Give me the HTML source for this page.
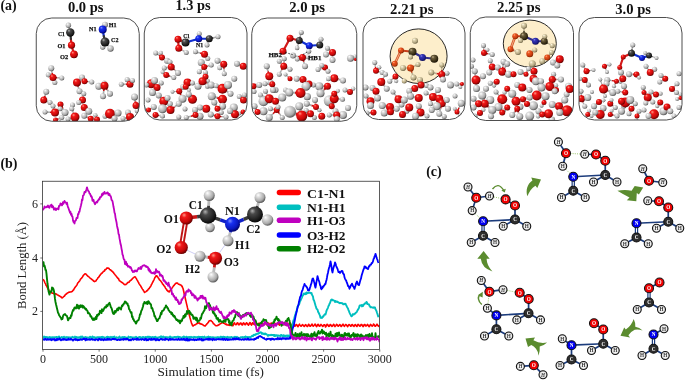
<!DOCTYPE html>
<html><head><meta charset="utf-8"><title>Figure</title>
<style>
html,body{margin:0;padding:0;background:#fff;}
svg{display:block}
.tb{font-family:"Liberation Serif","DejaVu Serif",serif;font-weight:bold;fill:#111}
.tr{font-family:"Liberation Serif","DejaVu Serif",serif;fill:#222}
</style></head><body>
<svg width="685" height="380" viewBox="0 0 685 380">
<defs><radialGradient id="gO" cx="0.4" cy="0.36" r="0.66" fx="0.33" fy="0.27"><stop offset="0" stop-color="#ff9a88"/><stop offset="0.28" stop-color="#f01818"/><stop offset="0.72" stop-color="#c40808"/><stop offset="1" stop-color="#5e0000"/></radialGradient><radialGradient id="gH" cx="0.4" cy="0.36" r="0.66" fx="0.33" fy="0.27"><stop offset="0" stop-color="#ffffff"/><stop offset="0.28" stop-color="#dcdcdc"/><stop offset="0.72" stop-color="#aaaaaa"/><stop offset="1" stop-color="#505050"/></radialGradient><radialGradient id="gC" cx="0.4" cy="0.36" r="0.66" fx="0.33" fy="0.27"><stop offset="0" stop-color="#b0b0b0"/><stop offset="0.28" stop-color="#4a4a4a"/><stop offset="0.72" stop-color="#222222"/><stop offset="1" stop-color="#050505"/></radialGradient><radialGradient id="gN" cx="0.4" cy="0.36" r="0.66" fx="0.33" fy="0.27"><stop offset="0" stop-color="#8090ff"/><stop offset="0.28" stop-color="#1830f0"/><stop offset="0.72" stop-color="#0a18c0"/><stop offset="1" stop-color="#000060"/></radialGradient><radialGradient id="gOt" cx="0.4" cy="0.36" r="0.66" fx="0.33" fy="0.27"><stop offset="0" stop-color="#ffb080"/><stop offset="0.28" stop-color="#ea5520"/><stop offset="0.72" stop-color="#c83c10"/><stop offset="1" stop-color="#7a2400"/></radialGradient><radialGradient id="gHt" cx="0.4" cy="0.36" r="0.66" fx="0.33" fy="0.27"><stop offset="0" stop-color="#fffdf0"/><stop offset="0.28" stop-color="#e0d4b0"/><stop offset="0.72" stop-color="#b0a480"/><stop offset="1" stop-color="#62583c"/></radialGradient><radialGradient id="gCt" cx="0.4" cy="0.36" r="0.66" fx="0.33" fy="0.27"><stop offset="0" stop-color="#c0b090"/><stop offset="0.28" stop-color="#6a5c3a"/><stop offset="0.72" stop-color="#3a3018"/><stop offset="1" stop-color="#1a1206"/></radialGradient><radialGradient id="gNt" cx="0.4" cy="0.36" r="0.66" fx="0.33" fy="0.27"><stop offset="0" stop-color="#8888e8"/><stop offset="0.28" stop-color="#3434b8"/><stop offset="0.72" stop-color="#202090"/><stop offset="1" stop-color="#0c0c50"/></radialGradient><radialGradient id="gHc" cx="0.5" cy="0.5" r="0.5"><stop offset="0" stop-color="#ffffff"/><stop offset="0.6" stop-color="#f0f0f0"/><stop offset="1" stop-color="#c4c4c4"/></radialGradient></defs>
<rect width="685" height="380" fill="#fff"/>
<text x="0.4" y="9.5" class="tb" font-size="13.7" textLength="16.2" lengthAdjust="spacingAndGlyphs">(a)</text>
<clipPath id="clip1"><rect x="36.25" y="18" width="103.0" height="103.25" rx="15.5" ry="15.5"/></clipPath>
<g clip-path="url(#clip1)">
<line x1="71.5" y1="45.2" x2="74" y2="54.3" stroke="#d21a1a" stroke-width="2.2" stroke-linecap="round"/>
<line x1="70.9" y1="39" x2="71.5" y2="45.2" stroke="#d21a1a" stroke-width="2.2" stroke-linecap="round"/>
<line x1="70.3" y1="32.5" x2="70.9" y2="39" stroke="#333" stroke-width="2.2" stroke-linecap="round"/>
<line x1="102.7" y1="29.5" x2="103.8" y2="36" stroke="#1030d0" stroke-width="2.2" stroke-linecap="round"/>
<line x1="103.8" y1="36" x2="105" y2="42" stroke="#333" stroke-width="2.2" stroke-linecap="round"/>
<line x1="53.0" y1="77.5" x2="50.65" y2="76.19" stroke="#cc1111" stroke-width="1.39"/>
<line x1="50.65" y1="76.19" x2="48.3" y2="74.87" stroke="#aaaaaa" stroke-width="1.39"/>
<line x1="53.0" y1="77.5" x2="53.91" y2="80.03" stroke="#cc1111" stroke-width="1.39"/>
<line x1="53.91" y1="80.03" x2="54.83" y2="82.57" stroke="#aaaaaa" stroke-width="1.39"/>
<line x1="130.0" y1="84.25" x2="128.60" y2="81.94" stroke="#cc1111" stroke-width="1.39"/>
<line x1="128.60" y1="81.94" x2="127.21" y2="79.64" stroke="#aaaaaa" stroke-width="1.39"/>
<line x1="97.0" y1="119.5" x2="97.51" y2="121.75" stroke="#cc1111" stroke-width="1.20"/>
<line x1="97.51" y1="121.75" x2="98.02" y2="124.01" stroke="#aaaaaa" stroke-width="1.20"/>
<line x1="97.0" y1="119.5" x2="96.18" y2="117.34" stroke="#cc1111" stroke-width="1.20"/>
<line x1="96.18" y1="117.34" x2="95.36" y2="115.18" stroke="#aaaaaa" stroke-width="1.20"/>
<line x1="136.0" y1="105.5" x2="136.63" y2="108.12" stroke="#cc1111" stroke-width="1.39"/>
<line x1="136.63" y1="108.12" x2="137.26" y2="110.74" stroke="#aaaaaa" stroke-width="1.39"/>
<line x1="55.5" y1="120.0" x2="57.31" y2="120.85" stroke="#cc1111" stroke-width="1.20"/>
<line x1="57.31" y1="120.85" x2="59.12" y2="121.71" stroke="#aaaaaa" stroke-width="1.20"/>
<line x1="70.3" y1="32.5" x2="69.35" y2="28.90" stroke="#333333" stroke-width="1.49"/>
<line x1="69.35" y1="28.90" x2="68.4" y2="25.3" stroke="#aaaaaa" stroke-width="1.49"/>
<line x1="102.7" y1="29.5" x2="103.85" y2="27.10" stroke="#1030d0" stroke-width="1.65"/>
<line x1="103.85" y1="27.10" x2="105.0" y2="24.7" stroke="#aaaaaa" stroke-width="1.65"/>
<line x1="105.0" y1="42.0" x2="103.85" y2="44.50" stroke="#333333" stroke-width="1.49"/>
<line x1="103.85" y1="44.50" x2="102.7" y2="47.0" stroke="#aaaaaa" stroke-width="1.49"/>
<line x1="105.0" y1="42.0" x2="107.75" y2="45.25" stroke="#333333" stroke-width="1.76"/>
<line x1="107.75" y1="45.25" x2="110.5" y2="48.5" stroke="#aaaaaa" stroke-width="1.76"/>
<line x1="53.0" y1="77.5" x2="52.12" y2="72.88" stroke="#cc1111" stroke-width="1.65"/>
<line x1="52.12" y1="72.88" x2="51.25" y2="68.25" stroke="#aaaaaa" stroke-width="1.65"/>
<line x1="53.0" y1="77.5" x2="57.38" y2="77.75" stroke="#cc1111" stroke-width="1.38"/>
<line x1="57.38" y1="77.75" x2="61.75" y2="78.0" stroke="#aaaaaa" stroke-width="1.38"/>
<line x1="84.5" y1="81.25" x2="83.25" y2="79.38" stroke="#cc1111" stroke-width="1.65"/>
<line x1="83.25" y1="79.38" x2="82.0" y2="77.5" stroke="#aaaaaa" stroke-width="1.65"/>
<line x1="84.5" y1="81.25" x2="88.12" y2="81.62" stroke="#cc1111" stroke-width="1.38"/>
<line x1="88.12" y1="81.62" x2="91.75" y2="82.0" stroke="#aaaaaa" stroke-width="1.38"/>
<line x1="104.5" y1="85.75" x2="101.62" y2="86.00" stroke="#cc1111" stroke-width="1.93"/>
<line x1="101.62" y1="86.00" x2="98.75" y2="86.25" stroke="#aaaaaa" stroke-width="1.93"/>
<line x1="104.5" y1="85.75" x2="104.35" y2="84.38" stroke="#cc1111" stroke-width="1.38"/>
<line x1="104.35" y1="84.38" x2="104.2" y2="83.0" stroke="#aaaaaa" stroke-width="1.38"/>
<line x1="104.5" y1="85.75" x2="107.25" y2="89.75" stroke="#cc1111" stroke-width="1.65"/>
<line x1="107.25" y1="89.75" x2="110.0" y2="93.75" stroke="#aaaaaa" stroke-width="1.65"/>
<line x1="104.5" y1="85.75" x2="103.75" y2="91.00" stroke="#cc1111" stroke-width="1.65"/>
<line x1="103.75" y1="91.00" x2="103.0" y2="96.25" stroke="#aaaaaa" stroke-width="1.65"/>
<line x1="130.0" y1="84.25" x2="125.62" y2="84.25" stroke="#cc1111" stroke-width="1.38"/>
<line x1="125.62" y1="84.25" x2="121.25" y2="84.25" stroke="#aaaaaa" stroke-width="1.38"/>
<line x1="130.0" y1="84.25" x2="131.25" y2="82.38" stroke="#cc1111" stroke-width="1.38"/>
<line x1="131.25" y1="82.38" x2="132.5" y2="80.5" stroke="#aaaaaa" stroke-width="1.38"/>
<line x1="43.75" y1="100.0" x2="45.00" y2="95.88" stroke="#cc1111" stroke-width="1.65"/>
<line x1="45.00" y1="95.88" x2="46.25" y2="91.75" stroke="#aaaaaa" stroke-width="1.65"/>
<line x1="43.75" y1="100.0" x2="46.88" y2="101.25" stroke="#cc1111" stroke-width="1.38"/>
<line x1="46.88" y1="101.25" x2="50.0" y2="102.5" stroke="#aaaaaa" stroke-width="1.38"/>
<line x1="55.0" y1="112.5" x2="54.00" y2="109.25" stroke="#cc1111" stroke-width="1.38"/>
<line x1="54.00" y1="109.25" x2="53.0" y2="106.0" stroke="#aaaaaa" stroke-width="1.38"/>
<line x1="77.0" y1="82.5" x2="78.25" y2="86.88" stroke="#cc1111" stroke-width="1.65"/>
<line x1="78.25" y1="86.88" x2="79.5" y2="91.25" stroke="#aaaaaa" stroke-width="1.65"/>
<line x1="82.5" y1="100.0" x2="83.12" y2="96.88" stroke="#cc1111" stroke-width="1.38"/>
<line x1="83.12" y1="96.88" x2="83.75" y2="93.75" stroke="#aaaaaa" stroke-width="1.38"/>
<line x1="82.5" y1="100.0" x2="80.62" y2="101.25" stroke="#cc1111" stroke-width="1.38"/>
<line x1="80.62" y1="101.25" x2="78.75" y2="102.5" stroke="#aaaaaa" stroke-width="1.38"/>
<line x1="75.0" y1="117.0" x2="73.38" y2="112.88" stroke="#cc1111" stroke-width="1.38"/>
<line x1="73.38" y1="112.88" x2="71.75" y2="108.75" stroke="#aaaaaa" stroke-width="1.38"/>
<line x1="60.5" y1="104.5" x2="60.25" y2="106.62" stroke="#cc1111" stroke-width="1.38"/>
<line x1="60.25" y1="106.62" x2="60.0" y2="108.75" stroke="#aaaaaa" stroke-width="1.38"/>
<line x1="60.5" y1="104.5" x2="62.75" y2="108.50" stroke="#cc1111" stroke-width="1.65"/>
<line x1="62.75" y1="108.50" x2="65.0" y2="112.5" stroke="#aaaaaa" stroke-width="1.65"/>
<line x1="55.5" y1="120.0" x2="58.62" y2="118.75" stroke="#cc1111" stroke-width="1.38"/>
<line x1="58.62" y1="118.75" x2="61.75" y2="117.5" stroke="#aaaaaa" stroke-width="1.38"/>
<line x1="84.25" y1="107.5" x2="86.50" y2="109.38" stroke="#cc1111" stroke-width="1.93"/>
<line x1="86.50" y1="109.38" x2="88.75" y2="111.25" stroke="#aaaaaa" stroke-width="1.93"/>
<line x1="90.75" y1="118.75" x2="87.50" y2="117.25" stroke="#cc1111" stroke-width="1.65"/>
<line x1="87.50" y1="117.25" x2="84.25" y2="115.75" stroke="#aaaaaa" stroke-width="1.65"/>
<line x1="110.0" y1="113.75" x2="107.50" y2="115.00" stroke="#cc1111" stroke-width="1.38"/>
<line x1="107.50" y1="115.00" x2="105.0" y2="116.25" stroke="#aaaaaa" stroke-width="1.38"/>
<line x1="110.0" y1="113.75" x2="114.00" y2="113.38" stroke="#cc1111" stroke-width="1.93"/>
<line x1="114.00" y1="113.38" x2="118.0" y2="113.0" stroke="#aaaaaa" stroke-width="1.93"/>
<line x1="110.0" y1="113.75" x2="112.25" y2="116.12" stroke="#cc1111" stroke-width="1.65"/>
<line x1="112.25" y1="116.12" x2="114.5" y2="118.5" stroke="#aaaaaa" stroke-width="1.65"/>
<line x1="136.0" y1="105.5" x2="135.25" y2="101.25" stroke="#cc1111" stroke-width="1.93"/>
<line x1="135.25" y1="101.25" x2="134.5" y2="97.0" stroke="#aaaaaa" stroke-width="1.93"/>
<line x1="130.0" y1="117.0" x2="129.00" y2="114.75" stroke="#cc1111" stroke-width="1.65"/>
<line x1="129.00" y1="114.75" x2="128.0" y2="112.5" stroke="#aaaaaa" stroke-width="1.65"/>
<line x1="55.0" y1="112.5" x2="50.00" y2="112.25" stroke="#cc1111" stroke-width="1.38"/>
<line x1="50.00" y1="112.25" x2="45.0" y2="112.0" stroke="#aaaaaa" stroke-width="1.38"/>
<line x1="75.0" y1="117.0" x2="71.50" y2="118.00" stroke="#cc1111" stroke-width="1.38"/>
<line x1="71.50" y1="118.00" x2="68.0" y2="119.0" stroke="#aaaaaa" stroke-width="1.38"/>
<line x1="130.0" y1="117.0" x2="126.50" y2="117.75" stroke="#cc1111" stroke-width="1.38"/>
<line x1="126.50" y1="117.75" x2="123.0" y2="118.5" stroke="#aaaaaa" stroke-width="1.38"/>
<circle cx="48.3" cy="74.87" r="2.52" fill="url(#gH)"/>
<circle cx="54.83" cy="82.57" r="2.52" fill="url(#gH)"/>
<circle cx="127.21" cy="79.64" r="2.52" fill="url(#gH)"/>
<circle cx="98.02" cy="124.01" r="2.16" fill="url(#gH)"/>
<circle cx="95.36" cy="115.18" r="2.16" fill="url(#gH)"/>
<circle cx="137.26" cy="110.74" r="2.52" fill="url(#gH)"/>
<circle cx="59.12" cy="121.71" r="2.0" fill="url(#gH)"/>
<circle cx="68.4" cy="25.3" r="2.7" fill="url(#gH)"/>
<circle cx="70.3" cy="32.5" r="4.2" fill="url(#gC)"/>
<circle cx="71.5" cy="45.2" r="3.6" fill="url(#gO)"/>
<circle cx="74.0" cy="54.3" r="3.9" fill="url(#gO)"/>
<circle cx="105.0" cy="24.7" r="3.0" fill="url(#gH)"/>
<circle cx="102.7" cy="29.5" r="4.0" fill="url(#gN)"/>
<circle cx="102.7" cy="47.0" r="2.7" fill="url(#gH)"/>
<circle cx="110.5" cy="48.5" r="3.2" fill="url(#gH)"/>
<circle cx="105.0" cy="42.0" r="4.5" fill="url(#gC)"/>
<circle cx="51.25" cy="68.25" r="3.0" fill="url(#gH)"/>
<circle cx="53.0" cy="77.5" r="3.5" fill="url(#gO)"/>
<circle cx="61.75" cy="78.0" r="2.5" fill="url(#gH)"/>
<circle cx="77.0" cy="82.5" r="4.0" fill="url(#gO)"/>
<circle cx="82.0" cy="77.5" r="3.0" fill="url(#gH)"/>
<circle cx="84.5" cy="81.25" r="3.0" fill="url(#gO)"/>
<circle cx="91.75" cy="82.0" r="2.5" fill="url(#gH)"/>
<circle cx="98.75" cy="86.25" r="3.5" fill="url(#gH)"/>
<circle cx="104.2" cy="83.0" r="2.5" fill="url(#gH)"/>
<circle cx="104.5" cy="85.75" r="4.0" fill="url(#gO)"/>
<circle cx="110.0" cy="93.75" r="3.0" fill="url(#gH)"/>
<circle cx="103.0" cy="96.25" r="3.0" fill="url(#gH)"/>
<circle cx="121.25" cy="84.25" r="2.5" fill="url(#gH)"/>
<circle cx="130.0" cy="84.25" r="3.5" fill="url(#gO)"/>
<circle cx="132.5" cy="80.5" r="2.5" fill="url(#gH)"/>
<circle cx="46.25" cy="91.75" r="3.0" fill="url(#gH)"/>
<circle cx="43.75" cy="100.0" r="3.5" fill="url(#gO)"/>
<circle cx="50.0" cy="102.5" r="2.5" fill="url(#gH)"/>
<circle cx="53.0" cy="106.0" r="2.5" fill="url(#gH)"/>
<circle cx="79.5" cy="91.25" r="3.0" fill="url(#gH)"/>
<circle cx="83.75" cy="93.75" r="2.5" fill="url(#gH)"/>
<circle cx="82.5" cy="100.0" r="3.5" fill="url(#gO)"/>
<circle cx="78.75" cy="102.5" r="2.5" fill="url(#gH)"/>
<circle cx="84.25" cy="107.5" r="3.5" fill="url(#gO)"/>
<circle cx="60.5" cy="104.5" r="3.0" fill="url(#gO)"/>
<circle cx="72.5" cy="105.0" r="2.5" fill="url(#gH)"/>
<circle cx="71.75" cy="108.75" r="2.5" fill="url(#gH)"/>
<circle cx="60.0" cy="108.75" r="2.5" fill="url(#gH)"/>
<circle cx="55.0" cy="112.5" r="4.0" fill="url(#gO)"/>
<circle cx="65.0" cy="112.5" r="3.5" fill="url(#gH)"/>
<circle cx="61.75" cy="117.5" r="2.5" fill="url(#gH)"/>
<circle cx="75.0" cy="117.0" r="4.5" fill="url(#gO)"/>
<circle cx="88.75" cy="111.25" r="3.5" fill="url(#gH)"/>
<circle cx="84.25" cy="115.75" r="3.0" fill="url(#gH)"/>
<circle cx="90.75" cy="118.75" r="3.0" fill="url(#gO)"/>
<circle cx="97.0" cy="119.5" r="3.0" fill="url(#gO)"/>
<circle cx="105.0" cy="116.25" r="2.5" fill="url(#gH)"/>
<circle cx="110.0" cy="113.75" r="5.0" fill="url(#gO)"/>
<circle cx="118.0" cy="113.0" r="3.5" fill="url(#gH)"/>
<circle cx="114.5" cy="118.5" r="3.0" fill="url(#gH)"/>
<circle cx="134.5" cy="97.0" r="3.5" fill="url(#gH)"/>
<circle cx="136.0" cy="105.5" r="3.5" fill="url(#gO)"/>
<circle cx="128.0" cy="112.5" r="3.0" fill="url(#gH)"/>
<circle cx="130.0" cy="117.0" r="4.0" fill="url(#gO)"/>
<circle cx="55.5" cy="120.0" r="2.5" fill="url(#gO)"/>
<circle cx="45.0" cy="112.0" r="2.5" fill="url(#gH)"/>
<circle cx="68.0" cy="119.0" r="2.5" fill="url(#gH)"/>
<circle cx="123.0" cy="118.5" r="2.5" fill="url(#gH)"/>
</g>
<rect x="36.25" y="18" width="103.0" height="103.25" rx="15.5" ry="15.5" fill="none" stroke="#444" stroke-width="0.95"/>
<text x="67.9" y="11.8" class="tb" font-size="13.7" textLength="35.6" lengthAdjust="spacingAndGlyphs">0.0 ps</text>
<text x="57.9" y="35.9" class="tb" font-size="6.9" stroke="#111" stroke-width="0.25" textLength="6.9" lengthAdjust="spacingAndGlyphs">C1</text>
<text x="57.5" y="48" class="tb" font-size="6.9" stroke="#111" stroke-width="0.25" textLength="8" lengthAdjust="spacingAndGlyphs">O1</text>
<text x="59.9" y="58.9" class="tb" font-size="6.9" stroke="#111" stroke-width="0.25" textLength="8.2" lengthAdjust="spacingAndGlyphs">O2</text>
<text x="89" y="30.5" class="tb" font-size="6.9" stroke="#111" stroke-width="0.25" textLength="7.6" lengthAdjust="spacingAndGlyphs">N1</text>
<text x="108.7" y="26.5" class="tb" font-size="6.9" stroke="#111" stroke-width="0.25" textLength="7.9" lengthAdjust="spacingAndGlyphs">H1</text>
<text x="111.1" y="42" class="tb" font-size="6.9" stroke="#111" stroke-width="0.25" textLength="7.3" lengthAdjust="spacingAndGlyphs">C2</text>
<clipPath id="clip2"><rect x="144.25" y="17.5" width="102.75" height="102.5" rx="15.5" ry="15.5"/></clipPath>
<g clip-path="url(#clip2)">
<line x1="198.75" y1="38.75" x2="209.25" y2="38.75" stroke="#1030d0" stroke-width="2.2" stroke-linecap="round"/>
<line x1="198.75" y1="38.75" x2="185.5" y2="42.5" stroke="#1030d0" stroke-width="2.2" stroke-linecap="round"/>
<line x1="178" y1="39.25" x2="185.5" y2="42.5" stroke="#d21a1a" stroke-width="2.2" stroke-linecap="round"/>
<line x1="178" y1="39.25" x2="178.75" y2="48.25" stroke="#d21a1a" stroke-width="2.2" stroke-linecap="round"/>
<line x1="204.5" y1="54.25" x2="206.11" y2="56.41" stroke="#cc1111" stroke-width="1.39"/>
<line x1="206.11" y1="56.41" x2="207.72" y2="58.57" stroke="#aaaaaa" stroke-width="1.39"/>
<line x1="205.5" y1="76.75" x2="206.62" y2="78.77" stroke="#cc1111" stroke-width="1.20"/>
<line x1="206.62" y1="78.77" x2="207.73" y2="80.79" stroke="#aaaaaa" stroke-width="1.20"/>
<line x1="162.0" y1="57.5" x2="161.46" y2="55.25" stroke="#cc1111" stroke-width="1.20"/>
<line x1="161.46" y1="55.25" x2="160.92" y2="53.01" stroke="#aaaaaa" stroke-width="1.20"/>
<line x1="166.25" y1="75.0" x2="164.45" y2="73.55" stroke="#cc1111" stroke-width="1.20"/>
<line x1="164.45" y1="73.55" x2="162.65" y2="72.1" stroke="#aaaaaa" stroke-width="1.20"/>
<line x1="223.75" y1="64.25" x2="221.74" y2="66.04" stroke="#cc1111" stroke-width="1.39"/>
<line x1="221.74" y1="66.04" x2="219.72" y2="67.83" stroke="#aaaaaa" stroke-width="1.39"/>
<line x1="243.25" y1="66.25" x2="245.84" y2="66.97" stroke="#cc1111" stroke-width="1.39"/>
<line x1="245.84" y1="66.97" x2="248.44" y2="67.7" stroke="#aaaaaa" stroke-width="1.39"/>
<line x1="170.5" y1="110.0" x2="170.22" y2="106.94" stroke="#cc1111" stroke-width="1.58"/>
<line x1="170.22" y1="106.94" x2="169.93" y2="103.87" stroke="#aaaaaa" stroke-width="1.58"/>
<line x1="185.75" y1="86.75" x2="184.42" y2="86.78" stroke="#cc1111" stroke-width="1.58"/>
<line x1="184.42" y1="86.78" x2="183.09" y2="86.8" stroke="#aaaaaa" stroke-width="1.58"/>
<line x1="185.75" y1="86.75" x2="187.35" y2="88.41" stroke="#cc1111" stroke-width="1.20"/>
<line x1="187.35" y1="88.41" x2="188.95" y2="90.08" stroke="#aaaaaa" stroke-width="1.20"/>
<line x1="243.5" y1="100.0" x2="241.42" y2="98.29" stroke="#cc1111" stroke-width="1.39"/>
<line x1="241.42" y1="98.29" x2="239.33" y2="96.58" stroke="#aaaaaa" stroke-width="1.39"/>
<line x1="243.0" y1="112.0" x2="241.13" y2="112.72" stroke="#cc1111" stroke-width="1.20"/>
<line x1="241.13" y1="112.72" x2="239.27" y2="113.43" stroke="#aaaaaa" stroke-width="1.20"/>
<line x1="243.0" y1="112.0" x2="243.35" y2="113.97" stroke="#cc1111" stroke-width="1.20"/>
<line x1="243.35" y1="113.97" x2="243.7" y2="115.94" stroke="#aaaaaa" stroke-width="1.20"/>
<line x1="148.5" y1="110.0" x2="146.53" y2="109.62" stroke="#cc1111" stroke-width="1.20"/>
<line x1="146.53" y1="109.62" x2="144.57" y2="109.24" stroke="#aaaaaa" stroke-width="1.20"/>
<line x1="178.75" y1="48.25" x2="182.50" y2="50.38" stroke="#cc1111" stroke-width="1.38"/>
<line x1="182.50" y1="50.38" x2="186.25" y2="52.5" stroke="#aaaaaa" stroke-width="1.38"/>
<line x1="198.75" y1="38.75" x2="199.00" y2="36.25" stroke="#1030d0" stroke-width="1.38"/>
<line x1="199.00" y1="36.25" x2="199.25" y2="33.75" stroke="#aaaaaa" stroke-width="1.38"/>
<line x1="209.25" y1="38.75" x2="213.62" y2="37.75" stroke="#333333" stroke-width="1.38"/>
<line x1="213.62" y1="37.75" x2="218.0" y2="36.75" stroke="#aaaaaa" stroke-width="1.38"/>
<line x1="209.25" y1="38.75" x2="208.12" y2="41.88" stroke="#333333" stroke-width="1.38"/>
<line x1="208.12" y1="41.88" x2="207.0" y2="45.0" stroke="#aaaaaa" stroke-width="1.38"/>
<line x1="204.5" y1="54.25" x2="200.00" y2="53.00" stroke="#cc1111" stroke-width="1.38"/>
<line x1="200.00" y1="53.00" x2="195.5" y2="51.75" stroke="#aaaaaa" stroke-width="1.38"/>
<line x1="204.25" y1="67.0" x2="202.75" y2="64.75" stroke="#cc1111" stroke-width="1.65"/>
<line x1="202.75" y1="64.75" x2="201.25" y2="62.5" stroke="#aaaaaa" stroke-width="1.65"/>
<line x1="204.25" y1="67.0" x2="207.75" y2="66.00" stroke="#cc1111" stroke-width="1.38"/>
<line x1="207.75" y1="66.00" x2="211.25" y2="65.0" stroke="#aaaaaa" stroke-width="1.38"/>
<line x1="204.25" y1="67.0" x2="201.75" y2="69.38" stroke="#cc1111" stroke-width="1.38"/>
<line x1="201.75" y1="69.38" x2="199.25" y2="71.75" stroke="#aaaaaa" stroke-width="1.38"/>
<line x1="205.5" y1="76.75" x2="205.50" y2="74.62" stroke="#cc1111" stroke-width="1.38"/>
<line x1="205.50" y1="74.62" x2="205.5" y2="72.5" stroke="#aaaaaa" stroke-width="1.38"/>
<line x1="162.0" y1="57.5" x2="158.88" y2="55.25" stroke="#cc1111" stroke-width="1.38"/>
<line x1="158.88" y1="55.25" x2="155.75" y2="53.0" stroke="#aaaaaa" stroke-width="1.38"/>
<line x1="162.0" y1="57.5" x2="164.50" y2="59.12" stroke="#cc1111" stroke-width="1.65"/>
<line x1="164.50" y1="59.12" x2="167.0" y2="60.75" stroke="#aaaaaa" stroke-width="1.65"/>
<line x1="171.25" y1="67.0" x2="170.62" y2="64.50" stroke="#cc1111" stroke-width="1.38"/>
<line x1="170.62" y1="64.50" x2="170.0" y2="62.0" stroke="#aaaaaa" stroke-width="1.38"/>
<line x1="171.25" y1="67.0" x2="167.75" y2="67.50" stroke="#cc1111" stroke-width="1.38"/>
<line x1="167.75" y1="67.50" x2="164.25" y2="68.0" stroke="#aaaaaa" stroke-width="1.38"/>
<line x1="171.25" y1="67.0" x2="174.62" y2="70.00" stroke="#cc1111" stroke-width="1.65"/>
<line x1="174.62" y1="70.00" x2="178.0" y2="73.0" stroke="#aaaaaa" stroke-width="1.65"/>
<line x1="166.25" y1="75.0" x2="170.00" y2="76.25" stroke="#cc1111" stroke-width="1.38"/>
<line x1="170.00" y1="76.25" x2="173.75" y2="77.5" stroke="#aaaaaa" stroke-width="1.38"/>
<line x1="223.75" y1="64.25" x2="220.62" y2="62.50" stroke="#cc1111" stroke-width="1.65"/>
<line x1="220.62" y1="62.50" x2="217.5" y2="60.75" stroke="#aaaaaa" stroke-width="1.65"/>
<line x1="223.75" y1="64.25" x2="224.00" y2="69.00" stroke="#cc1111" stroke-width="1.38"/>
<line x1="224.00" y1="69.00" x2="224.25" y2="73.75" stroke="#aaaaaa" stroke-width="1.38"/>
<line x1="243.25" y1="66.25" x2="240.12" y2="65.00" stroke="#cc1111" stroke-width="1.65"/>
<line x1="240.12" y1="65.00" x2="237.0" y2="63.75" stroke="#aaaaaa" stroke-width="1.65"/>
<line x1="151.25" y1="83.75" x2="152.88" y2="82.12" stroke="#cc1111" stroke-width="1.93"/>
<line x1="152.88" y1="82.12" x2="154.5" y2="80.5" stroke="#aaaaaa" stroke-width="1.93"/>
<line x1="151.25" y1="83.75" x2="148.88" y2="84.38" stroke="#cc1111" stroke-width="1.38"/>
<line x1="148.88" y1="84.38" x2="146.5" y2="85.0" stroke="#aaaaaa" stroke-width="1.38"/>
<line x1="157.0" y1="87.5" x2="159.12" y2="85.25" stroke="#cc1111" stroke-width="1.38"/>
<line x1="159.12" y1="85.25" x2="161.25" y2="83.0" stroke="#aaaaaa" stroke-width="1.38"/>
<line x1="157.0" y1="87.5" x2="154.75" y2="90.00" stroke="#cc1111" stroke-width="1.93"/>
<line x1="154.75" y1="90.00" x2="152.5" y2="92.5" stroke="#aaaaaa" stroke-width="1.93"/>
<line x1="163.75" y1="101.25" x2="161.25" y2="98.38" stroke="#cc1111" stroke-width="1.65"/>
<line x1="161.25" y1="98.38" x2="158.75" y2="95.5" stroke="#aaaaaa" stroke-width="1.65"/>
<line x1="163.75" y1="101.25" x2="165.62" y2="99.62" stroke="#cc1111" stroke-width="1.65"/>
<line x1="165.62" y1="99.62" x2="167.5" y2="98.0" stroke="#aaaaaa" stroke-width="1.65"/>
<line x1="163.75" y1="101.25" x2="163.12" y2="105.00" stroke="#cc1111" stroke-width="2.48"/>
<line x1="163.12" y1="105.00" x2="162.5" y2="108.75" stroke="#aaaaaa" stroke-width="2.48"/>
<line x1="148.5" y1="110.0" x2="151.12" y2="108.50" stroke="#cc1111" stroke-width="1.38"/>
<line x1="151.12" y1="108.50" x2="153.75" y2="107.0" stroke="#aaaaaa" stroke-width="1.38"/>
<line x1="155.5" y1="115.0" x2="159.00" y2="115.50" stroke="#cc1111" stroke-width="1.38"/>
<line x1="159.00" y1="115.50" x2="162.5" y2="116.0" stroke="#aaaaaa" stroke-width="1.38"/>
<line x1="179.25" y1="91.25" x2="175.88" y2="91.50" stroke="#cc1111" stroke-width="1.20"/>
<line x1="175.88" y1="91.50" x2="172.5" y2="91.75" stroke="#aaaaaa" stroke-width="1.20"/>
<line x1="179.25" y1="91.25" x2="180.88" y2="95.00" stroke="#cc1111" stroke-width="1.65"/>
<line x1="180.88" y1="95.00" x2="182.5" y2="98.75" stroke="#aaaaaa" stroke-width="1.65"/>
<line x1="170.5" y1="110.0" x2="174.62" y2="106.88" stroke="#cc1111" stroke-width="1.65"/>
<line x1="174.62" y1="106.88" x2="178.75" y2="103.75" stroke="#aaaaaa" stroke-width="1.65"/>
<line x1="192.5" y1="99.25" x2="190.62" y2="96.88" stroke="#cc1111" stroke-width="1.65"/>
<line x1="190.62" y1="96.88" x2="188.75" y2="94.5" stroke="#aaaaaa" stroke-width="1.65"/>
<line x1="187.5" y1="82.5" x2="190.00" y2="82.75" stroke="#cc1111" stroke-width="1.38"/>
<line x1="190.00" y1="82.75" x2="192.5" y2="83.0" stroke="#aaaaaa" stroke-width="1.38"/>
<line x1="202.5" y1="81.25" x2="200.25" y2="83.75" stroke="#cc1111" stroke-width="1.93"/>
<line x1="200.25" y1="83.75" x2="198.0" y2="86.25" stroke="#aaaaaa" stroke-width="1.93"/>
<line x1="202.5" y1="81.25" x2="205.00" y2="83.75" stroke="#cc1111" stroke-width="1.38"/>
<line x1="205.00" y1="83.75" x2="207.5" y2="86.25" stroke="#aaaaaa" stroke-width="1.38"/>
<line x1="202.5" y1="81.25" x2="206.88" y2="83.12" stroke="#cc1111" stroke-width="1.93"/>
<line x1="206.88" y1="83.12" x2="211.25" y2="85.0" stroke="#aaaaaa" stroke-width="1.93"/>
<line x1="222.5" y1="88.75" x2="219.38" y2="87.25" stroke="#cc1111" stroke-width="1.38"/>
<line x1="219.38" y1="87.25" x2="216.25" y2="85.75" stroke="#aaaaaa" stroke-width="1.38"/>
<line x1="222.5" y1="88.75" x2="225.25" y2="86.88" stroke="#cc1111" stroke-width="2.20"/>
<line x1="225.25" y1="86.88" x2="228.0" y2="85.0" stroke="#aaaaaa" stroke-width="2.20"/>
<line x1="222.5" y1="88.75" x2="226.50" y2="91.25" stroke="#cc1111" stroke-width="1.65"/>
<line x1="226.50" y1="91.25" x2="230.5" y2="93.75" stroke="#aaaaaa" stroke-width="1.65"/>
<line x1="222.5" y1="99.25" x2="217.12" y2="97.75" stroke="#cc1111" stroke-width="2.20"/>
<line x1="217.12" y1="97.75" x2="211.75" y2="96.25" stroke="#aaaaaa" stroke-width="2.20"/>
<line x1="217.5" y1="108.75" x2="215.88" y2="105.62" stroke="#cc1111" stroke-width="1.65"/>
<line x1="215.88" y1="105.62" x2="214.25" y2="102.5" stroke="#aaaaaa" stroke-width="1.65"/>
<line x1="217.5" y1="108.75" x2="220.00" y2="107.50" stroke="#cc1111" stroke-width="1.65"/>
<line x1="220.00" y1="107.50" x2="222.5" y2="106.25" stroke="#aaaaaa" stroke-width="1.65"/>
<line x1="243.5" y1="100.0" x2="244.00" y2="97.50" stroke="#cc1111" stroke-width="1.38"/>
<line x1="244.00" y1="97.50" x2="244.5" y2="95.0" stroke="#aaaaaa" stroke-width="1.38"/>
<line x1="235.0" y1="114.25" x2="234.38" y2="110.88" stroke="#cc1111" stroke-width="2.20"/>
<line x1="234.38" y1="110.88" x2="233.75" y2="107.5" stroke="#aaaaaa" stroke-width="2.20"/>
<line x1="235.0" y1="114.25" x2="232.50" y2="112.62" stroke="#cc1111" stroke-width="1.65"/>
<line x1="232.50" y1="112.62" x2="230.0" y2="111.0" stroke="#aaaaaa" stroke-width="1.65"/>
<line x1="206.25" y1="108.75" x2="203.12" y2="108.12" stroke="#cc1111" stroke-width="1.65"/>
<line x1="203.12" y1="108.12" x2="200.0" y2="107.5" stroke="#aaaaaa" stroke-width="1.65"/>
<line x1="195.5" y1="115.0" x2="195.25" y2="112.50" stroke="#cc1111" stroke-width="1.65"/>
<line x1="195.25" y1="112.50" x2="195.0" y2="110.0" stroke="#aaaaaa" stroke-width="1.65"/>
<line x1="195.5" y1="115.0" x2="197.75" y2="115.62" stroke="#cc1111" stroke-width="1.65"/>
<line x1="197.75" y1="115.62" x2="200.0" y2="116.25" stroke="#aaaaaa" stroke-width="1.65"/>
<line x1="217.5" y1="116.25" x2="214.12" y2="115.38" stroke="#cc1111" stroke-width="1.65"/>
<line x1="214.12" y1="115.38" x2="210.75" y2="114.5" stroke="#aaaaaa" stroke-width="1.65"/>
<line x1="195.5" y1="115.0" x2="190.88" y2="116.25" stroke="#cc1111" stroke-width="1.38"/>
<line x1="190.88" y1="116.25" x2="186.25" y2="117.5" stroke="#aaaaaa" stroke-width="1.38"/>
<line x1="217.5" y1="108.75" x2="219.38" y2="110.62" stroke="#cc1111" stroke-width="1.38"/>
<line x1="219.38" y1="110.62" x2="221.25" y2="112.5" stroke="#aaaaaa" stroke-width="1.38"/>
<line x1="217.5" y1="116.25" x2="221.75" y2="116.62" stroke="#cc1111" stroke-width="1.38"/>
<line x1="221.75" y1="116.62" x2="226.0" y2="117.0" stroke="#aaaaaa" stroke-width="1.38"/>
<circle cx="207.72" cy="58.57" r="2.52" fill="url(#gH)"/>
<circle cx="207.73" cy="80.79" r="2.16" fill="url(#gH)"/>
<circle cx="160.92" cy="53.01" r="2.16" fill="url(#gH)"/>
<circle cx="162.65" cy="72.1" r="2.16" fill="url(#gH)"/>
<circle cx="219.72" cy="67.83" r="2.52" fill="url(#gH)"/>
<circle cx="248.44" cy="67.7" r="2.52" fill="url(#gH)"/>
<circle cx="169.93" cy="103.87" r="2.88" fill="url(#gH)"/>
<circle cx="183.09" cy="86.8" r="2.88" fill="url(#gH)"/>
<circle cx="188.95" cy="90.08" r="2.16" fill="url(#gH)"/>
<circle cx="239.33" cy="96.58" r="2.52" fill="url(#gH)"/>
<circle cx="239.27" cy="113.43" r="2.0" fill="url(#gH)"/>
<circle cx="243.7" cy="115.94" r="2.0" fill="url(#gH)"/>
<circle cx="144.57" cy="109.24" r="2.0" fill="url(#gH)"/>
<circle cx="178.0" cy="39.25" r="3.5" fill="url(#gO)"/>
<circle cx="178.75" cy="48.25" r="3.5" fill="url(#gO)"/>
<circle cx="185.5" cy="42.5" r="4.0" fill="url(#gC)"/>
<circle cx="186.25" cy="52.5" r="2.5" fill="url(#gH)"/>
<circle cx="199.25" cy="33.75" r="2.5" fill="url(#gH)"/>
<circle cx="198.75" cy="38.75" r="3.5" fill="url(#gN)"/>
<circle cx="209.25" cy="38.75" r="3.5" fill="url(#gC)"/>
<circle cx="218.0" cy="36.75" r="2.5" fill="url(#gH)"/>
<circle cx="207.0" cy="45.0" r="2.5" fill="url(#gH)"/>
<circle cx="195.5" cy="51.75" r="2.5" fill="url(#gH)"/>
<circle cx="204.5" cy="54.25" r="3.5" fill="url(#gO)"/>
<circle cx="201.25" cy="62.5" r="3.5" fill="url(#gH)"/>
<circle cx="204.25" cy="67.0" r="3.0" fill="url(#gO)"/>
<circle cx="211.25" cy="65.0" r="2.5" fill="url(#gH)"/>
<circle cx="199.25" cy="71.75" r="2.5" fill="url(#gH)"/>
<circle cx="205.5" cy="72.5" r="2.5" fill="url(#gH)"/>
<circle cx="205.5" cy="76.75" r="3.0" fill="url(#gO)"/>
<circle cx="155.75" cy="53.0" r="2.5" fill="url(#gH)"/>
<circle cx="162.0" cy="57.5" r="3.0" fill="url(#gO)"/>
<circle cx="167.0" cy="60.75" r="3.0" fill="url(#gH)"/>
<circle cx="170.0" cy="62.0" r="2.5" fill="url(#gH)"/>
<circle cx="171.25" cy="67.0" r="3.5" fill="url(#gO)"/>
<circle cx="164.25" cy="68.0" r="2.5" fill="url(#gH)"/>
<circle cx="178.0" cy="73.0" r="3.0" fill="url(#gH)"/>
<circle cx="166.25" cy="75.0" r="3.0" fill="url(#gO)"/>
<circle cx="173.75" cy="77.5" r="2.5" fill="url(#gH)"/>
<circle cx="217.5" cy="60.75" r="3.0" fill="url(#gH)"/>
<circle cx="223.75" cy="64.25" r="3.5" fill="url(#gO)"/>
<circle cx="224.25" cy="73.75" r="2.5" fill="url(#gH)"/>
<circle cx="237.0" cy="63.75" r="3.0" fill="url(#gH)"/>
<circle cx="243.25" cy="66.25" r="3.5" fill="url(#gO)"/>
<circle cx="151.25" cy="83.75" r="4.5" fill="url(#gO)"/>
<circle cx="154.5" cy="80.5" r="3.5" fill="url(#gH)"/>
<circle cx="157.0" cy="87.5" r="3.5" fill="url(#gO)"/>
<circle cx="146.5" cy="85.0" r="2.5" fill="url(#gH)"/>
<circle cx="161.25" cy="83.0" r="2.5" fill="url(#gH)"/>
<circle cx="152.5" cy="92.5" r="3.5" fill="url(#gH)"/>
<circle cx="158.75" cy="95.5" r="3.0" fill="url(#gH)"/>
<circle cx="163.75" cy="101.25" r="4.5" fill="url(#gO)"/>
<circle cx="167.5" cy="98.0" r="3.0" fill="url(#gH)"/>
<circle cx="162.5" cy="108.75" r="4.5" fill="url(#gH)"/>
<circle cx="170.5" cy="110.0" r="4.0" fill="url(#gO)"/>
<circle cx="153.75" cy="107.0" r="3.0" fill="url(#gH)"/>
<circle cx="155.5" cy="115.0" r="3.0" fill="url(#gO)"/>
<circle cx="162.5" cy="116.0" r="2.5" fill="url(#gH)"/>
<circle cx="172.5" cy="91.75" r="2.0" fill="url(#gH)"/>
<circle cx="179.25" cy="91.25" r="3.0" fill="url(#gO)"/>
<circle cx="182.5" cy="98.75" r="4.0" fill="url(#gH)"/>
<circle cx="178.75" cy="103.75" r="3.0" fill="url(#gH)"/>
<circle cx="192.5" cy="99.25" r="4.5" fill="url(#gO)"/>
<circle cx="188.75" cy="94.5" r="3.0" fill="url(#gH)"/>
<circle cx="187.5" cy="82.5" r="4.0" fill="url(#gO)"/>
<circle cx="185.75" cy="86.75" r="3.0" fill="url(#gO)"/>
<circle cx="192.5" cy="83.0" r="2.5" fill="url(#gH)"/>
<circle cx="198.0" cy="86.25" r="3.5" fill="url(#gH)"/>
<circle cx="202.5" cy="81.25" r="4.0" fill="url(#gO)"/>
<circle cx="207.5" cy="86.25" r="2.5" fill="url(#gH)"/>
<circle cx="211.25" cy="85.0" r="3.5" fill="url(#gH)"/>
<circle cx="216.25" cy="85.75" r="2.5" fill="url(#gH)"/>
<circle cx="222.5" cy="88.75" r="5.0" fill="url(#gO)"/>
<circle cx="228.0" cy="85.0" r="4.0" fill="url(#gH)"/>
<circle cx="234.25" cy="78.75" r="3.0" fill="url(#gH)"/>
<circle cx="230.5" cy="93.75" r="3.0" fill="url(#gH)"/>
<circle cx="211.75" cy="96.25" r="4.0" fill="url(#gH)"/>
<circle cx="222.5" cy="99.25" r="4.5" fill="url(#gO)"/>
<circle cx="214.25" cy="102.5" r="3.0" fill="url(#gH)"/>
<circle cx="222.5" cy="106.25" r="3.5" fill="url(#gH)"/>
<circle cx="217.5" cy="108.75" r="3.0" fill="url(#gO)"/>
<circle cx="243.5" cy="100.0" r="3.5" fill="url(#gO)"/>
<circle cx="244.5" cy="95.0" r="2.5" fill="url(#gH)"/>
<circle cx="233.75" cy="107.5" r="4.0" fill="url(#gH)"/>
<circle cx="235.0" cy="114.25" r="4.0" fill="url(#gO)"/>
<circle cx="230.0" cy="111.0" r="3.0" fill="url(#gH)"/>
<circle cx="206.25" cy="108.75" r="4.0" fill="url(#gO)"/>
<circle cx="200.0" cy="107.5" r="3.0" fill="url(#gH)"/>
<circle cx="195.0" cy="110.0" r="3.0" fill="url(#gH)"/>
<circle cx="200.0" cy="116.25" r="3.5" fill="url(#gH)"/>
<circle cx="195.5" cy="115.0" r="3.0" fill="url(#gO)"/>
<circle cx="210.75" cy="114.5" r="3.0" fill="url(#gH)"/>
<circle cx="185.0" cy="109.0" r="2.5" fill="url(#gH)"/>
<circle cx="178.75" cy="117.0" r="2.5" fill="url(#gH)"/>
<circle cx="186.25" cy="117.5" r="2.5" fill="url(#gH)"/>
<circle cx="221.25" cy="112.5" r="2.5" fill="url(#gH)"/>
<circle cx="217.5" cy="116.25" r="3.0" fill="url(#gO)"/>
<circle cx="226.0" cy="117.0" r="2.5" fill="url(#gH)"/>
<circle cx="243.0" cy="112.0" r="2.5" fill="url(#gO)"/>
<circle cx="148.0" cy="100.0" r="2.5" fill="url(#gH)"/>
<circle cx="148.5" cy="110.0" r="2.5" fill="url(#gO)"/>
</g>
<rect x="144.25" y="17.5" width="102.75" height="102.5" rx="15.5" ry="15.5" fill="none" stroke="#444" stroke-width="0.95"/>
<text x="175.4" y="9.5" class="tb" font-size="13.7" textLength="35.1" lengthAdjust="spacingAndGlyphs">1.3 ps</text>
<text x="183.2" y="37.7" class="tb" font-size="6.9" stroke="#111" stroke-width="0.25" textLength="6.6" lengthAdjust="spacingAndGlyphs">C1</text>
<text x="195.9" y="47.4" class="tb" font-size="6.9" stroke="#111" stroke-width="0.25" textLength="7.2" lengthAdjust="spacingAndGlyphs">N1</text>
<clipPath id="clip3"><rect x="251.75" y="18" width="105.0" height="103.25" rx="15.5" ry="15.5"/></clipPath>
<g clip-path="url(#clip3)">
<line x1="290" y1="38.25" x2="283" y2="51.25" stroke="#d21a1a" stroke-width="2.2" stroke-linecap="round"/>
<line x1="290" y1="38.25" x2="299.25" y2="40.5" stroke="#d21a1a" stroke-width="2.2" stroke-linecap="round"/>
<line x1="299.25" y1="40.5" x2="309.25" y2="45.75" stroke="#1030d0" stroke-width="2.2" stroke-linecap="round"/>
<line x1="309.25" y1="45.75" x2="319.75" y2="45" stroke="#1030d0" stroke-width="2.2" stroke-linecap="round"/>
<line x1="302.5" y1="57.5" x2="305.17" y2="57.14" stroke="#cc1111" stroke-width="1.39"/>
<line x1="305.17" y1="57.14" x2="307.84" y2="56.79" stroke="#aaaaaa" stroke-width="1.39"/>
<line x1="302.5" y1="57.5" x2="299.90" y2="58.23" stroke="#cc1111" stroke-width="1.39"/>
<line x1="299.90" y1="58.23" x2="297.31" y2="58.96" stroke="#aaaaaa" stroke-width="1.39"/>
<line x1="355.5" y1="59.5" x2="355.21" y2="58.03" stroke="#cc1111" stroke-width="1.20"/>
<line x1="355.21" y1="58.03" x2="354.92" y2="56.56" stroke="#aaaaaa" stroke-width="1.20"/>
<line x1="272.25" y1="84.25" x2="271.43" y2="83.25" stroke="#cc1111" stroke-width="1.58"/>
<line x1="271.43" y1="83.25" x2="270.6" y2="82.26" stroke="#aaaaaa" stroke-width="1.58"/>
<line x1="300.5" y1="93.0" x2="303.89" y2="94.81" stroke="#cc1111" stroke-width="1.98"/>
<line x1="303.89" y1="94.81" x2="307.29" y2="96.63" stroke="#aaaaaa" stroke-width="1.98"/>
<line x1="310.5" y1="113.75" x2="308.35" y2="112.13" stroke="#cc1111" stroke-width="1.39"/>
<line x1="308.35" y1="112.13" x2="306.19" y2="110.51" stroke="#aaaaaa" stroke-width="1.39"/>
<line x1="310.5" y1="113.75" x2="312.44" y2="115.62" stroke="#cc1111" stroke-width="1.39"/>
<line x1="312.44" y1="115.62" x2="314.38" y2="117.49" stroke="#aaaaaa" stroke-width="1.39"/>
<line x1="334.25" y1="93.75" x2="336.02" y2="92.28" stroke="#cc1111" stroke-width="1.20"/>
<line x1="336.02" y1="92.28" x2="337.8" y2="90.8" stroke="#aaaaaa" stroke-width="1.20"/>
<line x1="350.0" y1="92.0" x2="351.61" y2="90.34" stroke="#cc1111" stroke-width="1.20"/>
<line x1="351.61" y1="90.34" x2="353.21" y2="88.68" stroke="#aaaaaa" stroke-width="1.20"/>
<line x1="316.0" y1="107.0" x2="317.69" y2="108.56" stroke="#cc1111" stroke-width="1.20"/>
<line x1="317.69" y1="108.56" x2="319.39" y2="110.13" stroke="#aaaaaa" stroke-width="1.20"/>
<line x1="299.25" y1="40.5" x2="300.27" y2="36.45" stroke="#333333" stroke-width="1.38"/>
<line x1="300.27" y1="36.45" x2="301.3" y2="32.4" stroke="#aaaaaa" stroke-width="1.38"/>
<line x1="299.25" y1="40.5" x2="298.18" y2="44.20" stroke="#333333" stroke-width="1.26"/>
<line x1="298.18" y1="44.20" x2="297.1" y2="47.9" stroke="#aaaaaa" stroke-width="1.26"/>
<line x1="319.75" y1="45.0" x2="320.38" y2="42.12" stroke="#333333" stroke-width="1.38"/>
<line x1="320.38" y1="42.12" x2="321.0" y2="39.25" stroke="#aaaaaa" stroke-width="1.38"/>
<line x1="332.5" y1="52.5" x2="330.00" y2="50.38" stroke="#cc1111" stroke-width="1.38"/>
<line x1="330.00" y1="50.38" x2="327.5" y2="48.25" stroke="#aaaaaa" stroke-width="1.38"/>
<line x1="309.25" y1="45.75" x2="309.00" y2="48.50" stroke="#1030d0" stroke-width="1.38"/>
<line x1="309.00" y1="48.50" x2="308.75" y2="51.25" stroke="#aaaaaa" stroke-width="1.38"/>
<line x1="302.5" y1="57.5" x2="297.75" y2="56.50" stroke="#cc1111" stroke-width="1.65"/>
<line x1="297.75" y1="56.50" x2="293.0" y2="55.5" stroke="#aaaaaa" stroke-width="1.65"/>
<line x1="302.5" y1="57.5" x2="303.75" y2="61.88" stroke="#cc1111" stroke-width="1.65"/>
<line x1="303.75" y1="61.88" x2="305.0" y2="66.25" stroke="#aaaaaa" stroke-width="1.65"/>
<line x1="332.5" y1="52.5" x2="329.25" y2="53.50" stroke="#cc1111" stroke-width="1.65"/>
<line x1="329.25" y1="53.50" x2="326.0" y2="54.5" stroke="#aaaaaa" stroke-width="1.65"/>
<line x1="332.5" y1="52.5" x2="332.50" y2="56.25" stroke="#cc1111" stroke-width="1.65"/>
<line x1="332.50" y1="56.25" x2="332.5" y2="60.0" stroke="#aaaaaa" stroke-width="1.65"/>
<line x1="355.5" y1="59.5" x2="353.00" y2="58.88" stroke="#cc1111" stroke-width="1.20"/>
<line x1="353.00" y1="58.88" x2="350.5" y2="58.25" stroke="#aaaaaa" stroke-width="1.20"/>
<line x1="283.75" y1="66.25" x2="284.00" y2="62.50" stroke="#cc1111" stroke-width="1.38"/>
<line x1="284.00" y1="62.50" x2="284.25" y2="58.75" stroke="#aaaaaa" stroke-width="1.38"/>
<line x1="283.75" y1="66.25" x2="281.50" y2="63.75" stroke="#cc1111" stroke-width="1.38"/>
<line x1="281.50" y1="63.75" x2="279.25" y2="61.25" stroke="#aaaaaa" stroke-width="1.38"/>
<line x1="283.75" y1="66.25" x2="286.88" y2="67.75" stroke="#cc1111" stroke-width="1.38"/>
<line x1="286.88" y1="67.75" x2="290.0" y2="69.25" stroke="#aaaaaa" stroke-width="1.38"/>
<line x1="269.25" y1="76.25" x2="268.00" y2="71.25" stroke="#cc1111" stroke-width="1.65"/>
<line x1="268.00" y1="71.25" x2="266.75" y2="66.25" stroke="#aaaaaa" stroke-width="1.65"/>
<line x1="283.75" y1="66.25" x2="281.50" y2="70.25" stroke="#cc1111" stroke-width="1.38"/>
<line x1="281.50" y1="70.25" x2="279.25" y2="74.25" stroke="#aaaaaa" stroke-width="1.38"/>
<line x1="290.0" y1="78.75" x2="287.75" y2="76.62" stroke="#cc1111" stroke-width="1.20"/>
<line x1="287.75" y1="76.62" x2="285.5" y2="74.5" stroke="#aaaaaa" stroke-width="1.20"/>
<line x1="272.25" y1="84.25" x2="268.62" y2="84.00" stroke="#cc1111" stroke-width="1.38"/>
<line x1="268.62" y1="84.00" x2="265.0" y2="83.75" stroke="#aaaaaa" stroke-width="1.38"/>
<line x1="325.0" y1="67.5" x2="323.38" y2="66.50" stroke="#cc1111" stroke-width="1.38"/>
<line x1="323.38" y1="66.50" x2="321.75" y2="65.5" stroke="#aaaaaa" stroke-width="1.38"/>
<line x1="325.0" y1="67.5" x2="321.50" y2="68.50" stroke="#cc1111" stroke-width="1.38"/>
<line x1="321.50" y1="68.50" x2="318.0" y2="69.5" stroke="#aaaaaa" stroke-width="1.38"/>
<line x1="325.0" y1="67.5" x2="326.50" y2="69.38" stroke="#cc1111" stroke-width="1.38"/>
<line x1="326.50" y1="69.38" x2="328.0" y2="71.25" stroke="#aaaaaa" stroke-width="1.38"/>
<line x1="303.0" y1="79.5" x2="299.88" y2="79.12" stroke="#cc1111" stroke-width="1.65"/>
<line x1="299.88" y1="79.12" x2="296.75" y2="78.75" stroke="#aaaaaa" stroke-width="1.65"/>
<line x1="334.25" y1="78.25" x2="338.62" y2="79.38" stroke="#cc1111" stroke-width="1.65"/>
<line x1="338.62" y1="79.38" x2="343.0" y2="80.5" stroke="#aaaaaa" stroke-width="1.65"/>
<line x1="334.25" y1="78.25" x2="331.38" y2="78.50" stroke="#cc1111" stroke-width="1.38"/>
<line x1="331.38" y1="78.50" x2="328.5" y2="78.75" stroke="#aaaaaa" stroke-width="1.38"/>
<line x1="327.5" y1="86.25" x2="323.38" y2="86.25" stroke="#cc1111" stroke-width="1.93"/>
<line x1="323.38" y1="86.25" x2="319.25" y2="86.25" stroke="#aaaaaa" stroke-width="1.93"/>
<line x1="309.0" y1="84.0" x2="311.25" y2="84.50" stroke="#cc1111" stroke-width="1.38"/>
<line x1="311.25" y1="84.50" x2="313.5" y2="85.0" stroke="#aaaaaa" stroke-width="1.38"/>
<line x1="309.0" y1="84.0" x2="307.50" y2="85.12" stroke="#cc1111" stroke-width="1.93"/>
<line x1="307.50" y1="85.12" x2="306.0" y2="86.25" stroke="#aaaaaa" stroke-width="1.93"/>
<line x1="253.5" y1="86.25" x2="256.38" y2="85.62" stroke="#cc1111" stroke-width="1.65"/>
<line x1="256.38" y1="85.62" x2="259.25" y2="85.0" stroke="#aaaaaa" stroke-width="1.65"/>
<line x1="253.5" y1="86.25" x2="253.75" y2="88.88" stroke="#cc1111" stroke-width="1.38"/>
<line x1="253.75" y1="88.88" x2="254.0" y2="91.5" stroke="#aaaaaa" stroke-width="1.38"/>
<line x1="269.25" y1="98.75" x2="267.38" y2="95.00" stroke="#cc1111" stroke-width="1.38"/>
<line x1="267.38" y1="95.00" x2="265.5" y2="91.25" stroke="#aaaaaa" stroke-width="1.38"/>
<line x1="272.25" y1="84.25" x2="273.88" y2="87.12" stroke="#cc1111" stroke-width="1.65"/>
<line x1="273.88" y1="87.12" x2="275.5" y2="90.0" stroke="#aaaaaa" stroke-width="1.65"/>
<line x1="269.25" y1="98.75" x2="264.88" y2="96.88" stroke="#cc1111" stroke-width="1.38"/>
<line x1="264.88" y1="96.88" x2="260.5" y2="95.0" stroke="#aaaaaa" stroke-width="1.38"/>
<line x1="272.25" y1="84.25" x2="272.62" y2="87.12" stroke="#cc1111" stroke-width="1.65"/>
<line x1="272.62" y1="87.12" x2="273.0" y2="90.0" stroke="#aaaaaa" stroke-width="1.65"/>
<line x1="269.25" y1="98.75" x2="266.38" y2="100.00" stroke="#cc1111" stroke-width="2.48"/>
<line x1="266.38" y1="100.00" x2="263.5" y2="101.25" stroke="#aaaaaa" stroke-width="2.48"/>
<line x1="275.5" y1="101.25" x2="278.88" y2="99.38" stroke="#cc1111" stroke-width="1.93"/>
<line x1="278.88" y1="99.38" x2="282.25" y2="97.5" stroke="#aaaaaa" stroke-width="1.93"/>
<line x1="300.5" y1="93.0" x2="294.88" y2="92.75" stroke="#cc1111" stroke-width="2.20"/>
<line x1="294.88" y1="92.75" x2="289.25" y2="92.5" stroke="#aaaaaa" stroke-width="2.20"/>
<line x1="301.75" y1="116.0" x2="295.88" y2="113.88" stroke="#cc1111" stroke-width="3.03"/>
<line x1="295.88" y1="113.88" x2="290.0" y2="111.75" stroke="#aaaaaa" stroke-width="3.03"/>
<line x1="301.75" y1="116.0" x2="300.50" y2="111.12" stroke="#cc1111" stroke-width="2.20"/>
<line x1="300.50" y1="111.12" x2="299.25" y2="106.25" stroke="#aaaaaa" stroke-width="2.20"/>
<line x1="316.0" y1="107.0" x2="311.38" y2="105.38" stroke="#cc1111" stroke-width="1.65"/>
<line x1="311.38" y1="105.38" x2="306.75" y2="103.75" stroke="#aaaaaa" stroke-width="1.65"/>
<line x1="334.25" y1="98.75" x2="331.75" y2="99.75" stroke="#cc1111" stroke-width="2.48"/>
<line x1="331.75" y1="99.75" x2="329.25" y2="100.75" stroke="#aaaaaa" stroke-width="2.48"/>
<line x1="327.5" y1="86.25" x2="324.00" y2="89.75" stroke="#cc1111" stroke-width="1.93"/>
<line x1="324.00" y1="89.75" x2="320.5" y2="93.25" stroke="#aaaaaa" stroke-width="1.93"/>
<line x1="334.25" y1="98.75" x2="338.38" y2="99.00" stroke="#cc1111" stroke-width="1.38"/>
<line x1="338.38" y1="99.00" x2="342.5" y2="99.25" stroke="#aaaaaa" stroke-width="1.38"/>
<line x1="336.75" y1="115.0" x2="336.12" y2="113.12" stroke="#cc1111" stroke-width="1.65"/>
<line x1="336.12" y1="113.12" x2="335.5" y2="111.25" stroke="#aaaaaa" stroke-width="1.65"/>
<line x1="336.75" y1="115.0" x2="339.88" y2="115.00" stroke="#cc1111" stroke-width="1.93"/>
<line x1="339.88" y1="115.00" x2="343.0" y2="115.0" stroke="#aaaaaa" stroke-width="1.93"/>
<line x1="336.75" y1="115.0" x2="336.75" y2="117.00" stroke="#cc1111" stroke-width="1.65"/>
<line x1="336.75" y1="117.00" x2="336.75" y2="119.0" stroke="#aaaaaa" stroke-width="1.65"/>
<line x1="336.75" y1="115.0" x2="333.00" y2="115.00" stroke="#cc1111" stroke-width="1.38"/>
<line x1="333.00" y1="115.00" x2="329.25" y2="115.0" stroke="#aaaaaa" stroke-width="1.38"/>
<line x1="257.5" y1="112.0" x2="260.50" y2="111.62" stroke="#cc1111" stroke-width="1.65"/>
<line x1="260.50" y1="111.62" x2="263.5" y2="111.25" stroke="#aaaaaa" stroke-width="1.65"/>
<line x1="276.75" y1="110.0" x2="273.00" y2="113.75" stroke="#cc1111" stroke-width="1.65"/>
<line x1="273.00" y1="113.75" x2="269.25" y2="117.5" stroke="#aaaaaa" stroke-width="1.65"/>
<line x1="257.5" y1="112.0" x2="256.00" y2="109.12" stroke="#cc1111" stroke-width="1.65"/>
<line x1="256.00" y1="109.12" x2="254.5" y2="106.25" stroke="#aaaaaa" stroke-width="1.65"/>
<line x1="276.75" y1="110.0" x2="277.38" y2="108.50" stroke="#cc1111" stroke-width="1.38"/>
<line x1="277.38" y1="108.50" x2="278.0" y2="107.0" stroke="#aaaaaa" stroke-width="1.38"/>
<line x1="276.75" y1="110.0" x2="273.62" y2="109.38" stroke="#cc1111" stroke-width="1.38"/>
<line x1="273.62" y1="109.38" x2="270.5" y2="108.75" stroke="#aaaaaa" stroke-width="1.38"/>
<line x1="276.75" y1="110.0" x2="279.50" y2="113.75" stroke="#cc1111" stroke-width="1.38"/>
<line x1="279.50" y1="113.75" x2="282.25" y2="117.5" stroke="#aaaaaa" stroke-width="1.38"/>
<line x1="350.0" y1="92.0" x2="347.50" y2="91.00" stroke="#cc1111" stroke-width="1.38"/>
<line x1="347.50" y1="91.00" x2="345.0" y2="90.0" stroke="#aaaaaa" stroke-width="1.38"/>
<line x1="316.0" y1="107.0" x2="315.50" y2="103.50" stroke="#cc1111" stroke-width="1.65"/>
<line x1="315.50" y1="103.50" x2="315.0" y2="100.0" stroke="#aaaaaa" stroke-width="1.65"/>
<circle cx="307.84" cy="56.79" r="2.52" fill="url(#gH)"/>
<circle cx="297.31" cy="58.96" r="2.52" fill="url(#gH)"/>
<circle cx="354.92" cy="56.56" r="2.0" fill="url(#gH)"/>
<circle cx="270.6" cy="82.26" r="2.88" fill="url(#gH)"/>
<circle cx="307.29" cy="96.63" r="3.6" fill="url(#gH)"/>
<circle cx="306.19" cy="110.51" r="2.52" fill="url(#gH)"/>
<circle cx="314.38" cy="117.49" r="2.52" fill="url(#gH)"/>
<circle cx="337.8" cy="90.8" r="2.16" fill="url(#gH)"/>
<circle cx="353.21" cy="88.68" r="2.16" fill="url(#gH)"/>
<circle cx="319.39" cy="110.13" r="2.16" fill="url(#gH)"/>
<circle cx="290.0" cy="38.25" r="3.5" fill="url(#gO)"/>
<circle cx="283.0" cy="51.25" r="3.5" fill="url(#gO)"/>
<circle cx="301.3" cy="32.4" r="2.5" fill="url(#gH)"/>
<circle cx="297.1" cy="47.9" r="2.3" fill="url(#gH)"/>
<circle cx="299.25" cy="40.5" r="3.5" fill="url(#gC)"/>
<circle cx="309.25" cy="45.75" r="3.5" fill="url(#gN)"/>
<circle cx="319.75" cy="45.0" r="3.5" fill="url(#gC)"/>
<circle cx="321.0" cy="39.25" r="2.5" fill="url(#gH)"/>
<circle cx="327.5" cy="48.25" r="2.5" fill="url(#gH)"/>
<circle cx="308.75" cy="51.25" r="2.5" fill="url(#gH)"/>
<circle cx="293.0" cy="55.5" r="3.0" fill="url(#gH)"/>
<circle cx="302.5" cy="57.5" r="3.5" fill="url(#gO)"/>
<circle cx="305.0" cy="66.25" r="3.0" fill="url(#gH)"/>
<circle cx="332.5" cy="52.5" r="3.5" fill="url(#gO)"/>
<circle cx="326.0" cy="54.5" r="3.0" fill="url(#gH)"/>
<circle cx="332.5" cy="60.0" r="3.0" fill="url(#gH)"/>
<circle cx="350.5" cy="58.25" r="3.5" fill="url(#gH)"/>
<circle cx="355.5" cy="59.5" r="1.5" fill="url(#gO)"/>
<circle cx="284.25" cy="58.75" r="2.5" fill="url(#gH)"/>
<circle cx="279.25" cy="61.25" r="2.5" fill="url(#gH)"/>
<circle cx="283.75" cy="66.25" r="3.5" fill="url(#gO)"/>
<circle cx="290.0" cy="69.25" r="2.5" fill="url(#gH)"/>
<circle cx="266.75" cy="66.25" r="3.0" fill="url(#gH)"/>
<circle cx="269.25" cy="76.25" r="4.0" fill="url(#gO)"/>
<circle cx="279.25" cy="74.25" r="2.5" fill="url(#gH)"/>
<circle cx="285.5" cy="74.5" r="2.0" fill="url(#gH)"/>
<circle cx="272.25" cy="84.25" r="3.0" fill="url(#gO)"/>
<circle cx="265.0" cy="83.75" r="2.5" fill="url(#gH)"/>
<circle cx="325.0" cy="67.5" r="3.0" fill="url(#gO)"/>
<circle cx="321.75" cy="65.5" r="2.5" fill="url(#gH)"/>
<circle cx="318.0" cy="69.5" r="2.5" fill="url(#gH)"/>
<circle cx="328.0" cy="71.25" r="2.5" fill="url(#gH)"/>
<circle cx="290.0" cy="78.75" r="2.5" fill="url(#gO)"/>
<circle cx="296.75" cy="78.75" r="3.0" fill="url(#gH)"/>
<circle cx="303.0" cy="79.5" r="3.5" fill="url(#gO)"/>
<circle cx="334.25" cy="78.25" r="4.0" fill="url(#gO)"/>
<circle cx="343.0" cy="80.5" r="3.0" fill="url(#gH)"/>
<circle cx="328.5" cy="78.75" r="2.5" fill="url(#gH)"/>
<circle cx="327.5" cy="86.25" r="3.5" fill="url(#gO)"/>
<circle cx="319.25" cy="86.25" r="4.0" fill="url(#gH)"/>
<circle cx="313.5" cy="85.0" r="2.5" fill="url(#gH)"/>
<circle cx="309.0" cy="84.0" r="3.5" fill="url(#gO)"/>
<circle cx="306.0" cy="86.25" r="4.5" fill="url(#gH)"/>
<circle cx="300.5" cy="93.0" r="5.0" fill="url(#gO)"/>
<circle cx="253.5" cy="86.25" r="3.0" fill="url(#gO)"/>
<circle cx="259.25" cy="85.0" r="3.0" fill="url(#gH)"/>
<circle cx="254.0" cy="91.5" r="2.5" fill="url(#gH)"/>
<circle cx="265.5" cy="91.25" r="2.5" fill="url(#gH)"/>
<circle cx="275.5" cy="90.0" r="3.0" fill="url(#gH)"/>
<circle cx="285.5" cy="90.0" r="2.5" fill="url(#gH)"/>
<circle cx="260.5" cy="95.0" r="2.5" fill="url(#gH)"/>
<circle cx="273.0" cy="90.0" r="3.0" fill="url(#gH)"/>
<circle cx="263.5" cy="101.25" r="5.0" fill="url(#gH)"/>
<circle cx="269.25" cy="98.75" r="4.5" fill="url(#gO)"/>
<circle cx="275.5" cy="101.25" r="3.5" fill="url(#gO)"/>
<circle cx="282.25" cy="97.5" r="4.0" fill="url(#gH)"/>
<circle cx="289.25" cy="92.5" r="4.0" fill="url(#gH)"/>
<circle cx="290.0" cy="111.75" r="6.0" fill="url(#gH)"/>
<circle cx="301.75" cy="116.0" r="5.5" fill="url(#gO)"/>
<circle cx="299.25" cy="106.25" r="4.0" fill="url(#gH)"/>
<circle cx="310.5" cy="113.75" r="3.5" fill="url(#gO)"/>
<circle cx="306.75" cy="103.75" r="3.0" fill="url(#gH)"/>
<circle cx="329.25" cy="100.75" r="5.5" fill="url(#gH)"/>
<circle cx="334.25" cy="98.75" r="4.5" fill="url(#gO)"/>
<circle cx="320.5" cy="93.25" r="4.0" fill="url(#gH)"/>
<circle cx="342.5" cy="99.25" r="2.5" fill="url(#gH)"/>
<circle cx="331.75" cy="106.25" r="3.0" fill="url(#gO)"/>
<circle cx="335.5" cy="111.25" r="3.0" fill="url(#gH)"/>
<circle cx="343.0" cy="115.0" r="4.0" fill="url(#gH)"/>
<circle cx="336.75" cy="115.0" r="3.5" fill="url(#gO)"/>
<circle cx="336.75" cy="119.0" r="3.0" fill="url(#gH)"/>
<circle cx="321.75" cy="116.25" r="3.5" fill="url(#gO)"/>
<circle cx="329.25" cy="115.0" r="2.5" fill="url(#gH)"/>
<circle cx="263.5" cy="111.25" r="4.0" fill="url(#gH)"/>
<circle cx="257.5" cy="112.0" r="3.0" fill="url(#gO)"/>
<circle cx="269.25" cy="117.5" r="3.5" fill="url(#gH)"/>
<circle cx="254.5" cy="106.25" r="3.0" fill="url(#gH)"/>
<circle cx="276.75" cy="110.0" r="3.0" fill="url(#gO)"/>
<circle cx="278.0" cy="107.0" r="2.5" fill="url(#gH)"/>
<circle cx="270.5" cy="108.75" r="2.5" fill="url(#gH)"/>
<circle cx="282.25" cy="117.5" r="2.5" fill="url(#gH)"/>
<circle cx="334.25" cy="93.75" r="3.0" fill="url(#gO)"/>
<circle cx="348.0" cy="108.0" r="3.0" fill="url(#gH)"/>
<circle cx="350.0" cy="92.0" r="3.0" fill="url(#gO)"/>
<circle cx="345.0" cy="90.0" r="2.5" fill="url(#gH)"/>
<circle cx="315.0" cy="100.0" r="3.0" fill="url(#gH)"/>
<circle cx="316.0" cy="107.0" r="3.0" fill="url(#gO)"/>
<line x1="285.5" y1="52.5" x2="293" y2="54.8" stroke="#111" stroke-width="0.8" stroke-dasharray="1.6 1.4"/>
<line x1="303" y1="54.5" x2="308" y2="51.5" stroke="#111" stroke-width="0.8" stroke-dasharray="1.6 1.4"/>
</g>
<rect x="251.75" y="18" width="105.0" height="103.25" rx="15.5" ry="15.5" fill="none" stroke="#444" stroke-width="0.95"/>
<text x="289.2" y="11.6" class="tb" font-size="13.7" textLength="35.9" lengthAdjust="spacingAndGlyphs">2.0 ps</text>
<text x="268.5" y="56.5" class="tb" font-size="6.9" stroke="#111" stroke-width="0.25">HB2</text>
<text x="308" y="59.5" class="tb" font-size="6.9" stroke="#111" stroke-width="0.25">HB1</text>
<clipPath id="clip4"><rect x="363" y="17.5" width="102" height="102.0" rx="15.5" ry="15.5"/></clipPath>
<g clip-path="url(#clip4)">
<ellipse cx="418.6" cy="56.2" rx="28.5" ry="27.3" fill="#fdeecb" stroke="#111" stroke-width="0.9"/>
<line x1="401" y1="50.5" x2="394.75" y2="63.75" stroke="#d9542a" stroke-width="2.6" stroke-linecap="round"/>
<line x1="401" y1="50.5" x2="394.75" y2="63.75" stroke="#f6d9a8" stroke-width="0.7"/>
<line x1="401" y1="50.5" x2="412.5" y2="51.75" stroke="#c8401c" stroke-width="2.2" stroke-linecap="round"/>
<line x1="412.5" y1="51.75" x2="422.5" y2="57.5" stroke="#33308a" stroke-width="2.2" stroke-linecap="round"/>
<line x1="422.5" y1="57.5" x2="434.25" y2="58.75" stroke="#33308a" stroke-width="2.2" stroke-linecap="round"/>
<line x1="441.75" y1="74.5" x2="444.36" y2="73.83" stroke="#cc1111" stroke-width="1.39"/>
<line x1="444.36" y1="73.83" x2="446.97" y2="73.16" stroke="#aaaaaa" stroke-width="1.39"/>
<line x1="376.0" y1="70.75" x2="377.60" y2="69.09" stroke="#cc1111" stroke-width="1.20"/>
<line x1="377.60" y1="69.09" x2="379.2" y2="67.42" stroke="#aaaaaa" stroke-width="1.20"/>
<line x1="395.5" y1="76.5" x2="395.82" y2="78.78" stroke="#cc1111" stroke-width="1.20"/>
<line x1="395.82" y1="78.78" x2="396.15" y2="81.07" stroke="#aaaaaa" stroke-width="1.20"/>
<line x1="462.0" y1="84.0" x2="461.15" y2="85.53" stroke="#cc1111" stroke-width="1.20"/>
<line x1="461.15" y1="85.53" x2="460.3" y2="87.06" stroke="#aaaaaa" stroke-width="1.20"/>
<line x1="421.0" y1="85.0" x2="423.68" y2="85.28" stroke="#cc1111" stroke-width="1.39"/>
<line x1="423.68" y1="85.28" x2="426.36" y2="85.57" stroke="#aaaaaa" stroke-width="1.39"/>
<line x1="398.5" y1="99.25" x2="400.04" y2="101.92" stroke="#cc1111" stroke-width="1.58"/>
<line x1="400.04" y1="101.92" x2="401.58" y2="104.59" stroke="#aaaaaa" stroke-width="1.58"/>
<line x1="409.25" y1="107.5" x2="408.01" y2="109.35" stroke="#cc1111" stroke-width="1.39"/>
<line x1="408.01" y1="109.35" x2="406.77" y2="111.21" stroke="#aaaaaa" stroke-width="1.39"/>
<line x1="457.0" y1="112.0" x2="458.48" y2="113.35" stroke="#cc1111" stroke-width="1.20"/>
<line x1="458.48" y1="113.35" x2="459.95" y2="114.7" stroke="#aaaaaa" stroke-width="1.20"/>
<line x1="457.0" y1="112.0" x2="455.88" y2="110.34" stroke="#cc1111" stroke-width="1.20"/>
<line x1="455.88" y1="110.34" x2="454.76" y2="108.69" stroke="#aaaaaa" stroke-width="1.20"/>
<line x1="441.75" y1="74.5" x2="441.75" y2="69.75" stroke="#cc1111" stroke-width="1.38"/>
<line x1="441.75" y1="69.75" x2="441.75" y2="65.0" stroke="#b9ae90" stroke-width="1.38"/>
<line x1="412.5" y1="51.75" x2="411.50" y2="54.38" stroke="#4a4028" stroke-width="1.38"/>
<line x1="411.50" y1="54.38" x2="410.5" y2="57.0" stroke="#b9ae90" stroke-width="1.38"/>
<line x1="410.5" y1="68.0" x2="406.75" y2="68.00" stroke="#c9451f" stroke-width="1.65"/>
<line x1="406.75" y1="68.00" x2="403.0" y2="68.0" stroke="#b9ae90" stroke-width="1.65"/>
<line x1="410.5" y1="68.0" x2="414.25" y2="66.25" stroke="#c9451f" stroke-width="1.38"/>
<line x1="414.25" y1="66.25" x2="418.0" y2="64.5" stroke="#b9ae90" stroke-width="1.38"/>
<line x1="410.5" y1="68.0" x2="412.00" y2="72.75" stroke="#c9451f" stroke-width="1.65"/>
<line x1="412.00" y1="72.75" x2="413.5" y2="77.5" stroke="#b9ae90" stroke-width="1.65"/>
<line x1="421.0" y1="85.0" x2="420.50" y2="82.50" stroke="#cc1111" stroke-width="1.65"/>
<line x1="420.50" y1="82.50" x2="420.0" y2="80.0" stroke="#b9ae90" stroke-width="1.65"/>
<line x1="441.75" y1="74.5" x2="436.50" y2="73.50" stroke="#cc1111" stroke-width="1.65"/>
<line x1="436.50" y1="73.50" x2="431.25" y2="72.5" stroke="#b9ae90" stroke-width="1.65"/>
<line x1="441.75" y1="74.5" x2="442.38" y2="77.00" stroke="#cc1111" stroke-width="1.65"/>
<line x1="442.38" y1="77.00" x2="443.0" y2="79.5" stroke="#aaaaaa" stroke-width="1.65"/>
<line x1="376.0" y1="70.75" x2="375.38" y2="66.62" stroke="#cc1111" stroke-width="1.38"/>
<line x1="375.38" y1="66.62" x2="374.75" y2="62.5" stroke="#aaaaaa" stroke-width="1.38"/>
<line x1="376.0" y1="70.75" x2="379.12" y2="71.62" stroke="#cc1111" stroke-width="1.38"/>
<line x1="379.12" y1="71.62" x2="382.25" y2="72.5" stroke="#aaaaaa" stroke-width="1.38"/>
<line x1="381.25" y1="82.0" x2="383.38" y2="78.12" stroke="#cc1111" stroke-width="1.38"/>
<line x1="383.38" y1="78.12" x2="385.5" y2="74.25" stroke="#aaaaaa" stroke-width="1.38"/>
<line x1="395.5" y1="76.5" x2="392.62" y2="78.88" stroke="#cc1111" stroke-width="1.38"/>
<line x1="392.62" y1="78.88" x2="389.75" y2="81.25" stroke="#aaaaaa" stroke-width="1.38"/>
<line x1="376.0" y1="91.25" x2="374.25" y2="89.62" stroke="#cc1111" stroke-width="1.65"/>
<line x1="374.25" y1="89.62" x2="372.5" y2="88.0" stroke="#aaaaaa" stroke-width="1.65"/>
<line x1="381.25" y1="82.0" x2="384.00" y2="85.38" stroke="#cc1111" stroke-width="1.65"/>
<line x1="384.00" y1="85.38" x2="386.75" y2="88.75" stroke="#aaaaaa" stroke-width="1.65"/>
<line x1="398.5" y1="99.25" x2="395.75" y2="95.62" stroke="#cc1111" stroke-width="1.38"/>
<line x1="395.75" y1="95.62" x2="393.0" y2="92.0" stroke="#aaaaaa" stroke-width="1.38"/>
<line x1="462.0" y1="84.0" x2="459.38" y2="84.00" stroke="#cc1111" stroke-width="1.20"/>
<line x1="459.38" y1="84.00" x2="456.75" y2="84.0" stroke="#aaaaaa" stroke-width="1.20"/>
<line x1="414.75" y1="88.5" x2="412.00" y2="89.75" stroke="#cc1111" stroke-width="1.65"/>
<line x1="412.00" y1="89.75" x2="409.25" y2="91.0" stroke="#aaaaaa" stroke-width="1.65"/>
<line x1="421.0" y1="85.0" x2="425.75" y2="86.25" stroke="#cc1111" stroke-width="1.65"/>
<line x1="425.75" y1="86.25" x2="430.5" y2="87.5" stroke="#aaaaaa" stroke-width="1.65"/>
<line x1="433.0" y1="97.0" x2="435.50" y2="93.50" stroke="#cc1111" stroke-width="1.65"/>
<line x1="435.50" y1="93.50" x2="438.0" y2="90.0" stroke="#aaaaaa" stroke-width="1.65"/>
<line x1="376.0" y1="91.25" x2="376.75" y2="94.62" stroke="#cc1111" stroke-width="1.93"/>
<line x1="376.75" y1="94.62" x2="377.5" y2="98.0" stroke="#aaaaaa" stroke-width="1.93"/>
<line x1="370.5" y1="101.25" x2="370.50" y2="103.38" stroke="#cc1111" stroke-width="1.93"/>
<line x1="370.50" y1="103.38" x2="370.5" y2="105.5" stroke="#aaaaaa" stroke-width="1.93"/>
<line x1="390.0" y1="107.0" x2="386.12" y2="106.25" stroke="#cc1111" stroke-width="1.93"/>
<line x1="386.12" y1="106.25" x2="382.25" y2="105.5" stroke="#aaaaaa" stroke-width="1.93"/>
<line x1="390.5" y1="111.75" x2="387.38" y2="112.38" stroke="#cc1111" stroke-width="1.93"/>
<line x1="387.38" y1="112.38" x2="384.25" y2="113.0" stroke="#aaaaaa" stroke-width="1.93"/>
<line x1="390.5" y1="111.75" x2="393.62" y2="110.25" stroke="#cc1111" stroke-width="1.65"/>
<line x1="393.62" y1="110.25" x2="396.75" y2="108.75" stroke="#aaaaaa" stroke-width="1.65"/>
<line x1="398.5" y1="99.25" x2="401.38" y2="99.62" stroke="#cc1111" stroke-width="1.93"/>
<line x1="401.38" y1="99.62" x2="404.25" y2="100.0" stroke="#aaaaaa" stroke-width="1.93"/>
<line x1="418.75" y1="98.0" x2="414.62" y2="97.12" stroke="#cc1111" stroke-width="1.93"/>
<line x1="414.62" y1="97.12" x2="410.5" y2="96.25" stroke="#aaaaaa" stroke-width="1.93"/>
<line x1="420.5" y1="112.5" x2="419.62" y2="109.38" stroke="#cc1111" stroke-width="1.65"/>
<line x1="419.62" y1="109.38" x2="418.75" y2="106.25" stroke="#aaaaaa" stroke-width="1.65"/>
<line x1="420.5" y1="112.5" x2="418.00" y2="114.38" stroke="#cc1111" stroke-width="1.93"/>
<line x1="418.00" y1="114.38" x2="415.5" y2="116.25" stroke="#aaaaaa" stroke-width="1.93"/>
<line x1="441.75" y1="103.25" x2="444.25" y2="101.62" stroke="#cc1111" stroke-width="1.65"/>
<line x1="444.25" y1="101.62" x2="446.75" y2="100.0" stroke="#aaaaaa" stroke-width="1.65"/>
<line x1="441.75" y1="103.25" x2="439.25" y2="104.75" stroke="#cc1111" stroke-width="2.20"/>
<line x1="439.25" y1="104.75" x2="436.75" y2="106.25" stroke="#aaaaaa" stroke-width="2.20"/>
<line x1="433.0" y1="97.0" x2="431.75" y2="100.38" stroke="#cc1111" stroke-width="1.38"/>
<line x1="431.75" y1="100.38" x2="430.5" y2="103.75" stroke="#aaaaaa" stroke-width="1.38"/>
<line x1="441.75" y1="103.25" x2="444.88" y2="106.00" stroke="#cc1111" stroke-width="1.65"/>
<line x1="444.88" y1="106.00" x2="448.0" y2="108.75" stroke="#aaaaaa" stroke-width="1.65"/>
<line x1="441.75" y1="103.25" x2="440.50" y2="108.50" stroke="#cc1111" stroke-width="1.65"/>
<line x1="440.50" y1="108.50" x2="439.25" y2="113.75" stroke="#aaaaaa" stroke-width="1.65"/>
<line x1="457.0" y1="112.0" x2="459.12" y2="107.62" stroke="#cc1111" stroke-width="1.38"/>
<line x1="459.12" y1="107.62" x2="461.25" y2="103.25" stroke="#aaaaaa" stroke-width="1.38"/>
<line x1="370.5" y1="101.25" x2="368.25" y2="98.62" stroke="#cc1111" stroke-width="1.38"/>
<line x1="368.25" y1="98.62" x2="366.0" y2="96.0" stroke="#aaaaaa" stroke-width="1.38"/>
<line x1="373.5" y1="112.5" x2="370.25" y2="112.75" stroke="#cc1111" stroke-width="1.38"/>
<line x1="370.25" y1="112.75" x2="367.0" y2="113.0" stroke="#aaaaaa" stroke-width="1.38"/>
<line x1="433.0" y1="97.0" x2="429.50" y2="95.00" stroke="#cc1111" stroke-width="1.38"/>
<line x1="429.50" y1="95.00" x2="426.0" y2="93.0" stroke="#aaaaaa" stroke-width="1.38"/>
<line x1="420.5" y1="112.5" x2="423.75" y2="114.25" stroke="#cc1111" stroke-width="1.38"/>
<line x1="423.75" y1="114.25" x2="427.0" y2="116.0" stroke="#aaaaaa" stroke-width="1.38"/>
<circle cx="446.97" cy="73.16" r="2.52" fill="url(#gH)"/>
<circle cx="379.2" cy="67.42" r="2.16" fill="url(#gH)"/>
<circle cx="396.15" cy="81.07" r="2.16" fill="url(#gH)"/>
<circle cx="460.3" cy="87.06" r="2.0" fill="url(#gH)"/>
<circle cx="426.36" cy="85.57" r="2.52" fill="url(#gH)"/>
<circle cx="401.58" cy="104.59" r="2.88" fill="url(#gH)"/>
<circle cx="406.77" cy="111.21" r="2.52" fill="url(#gH)"/>
<circle cx="459.95" cy="114.7" r="2.0" fill="url(#gH)"/>
<circle cx="454.76" cy="108.69" r="2.0" fill="url(#gH)"/>
<circle cx="401.0" cy="50.5" r="3.0" fill="url(#gOt)"/>
<circle cx="394.75" cy="63.75" r="3.0" fill="url(#gOt)"/>
<circle cx="415.0" cy="40.75" r="3.0" fill="url(#gHt)"/>
<circle cx="412.5" cy="51.75" r="4.0" fill="url(#gCt)"/>
<circle cx="422.5" cy="57.5" r="3.5" fill="url(#gNt)"/>
<circle cx="434.25" cy="58.75" r="4.0" fill="url(#gCt)"/>
<circle cx="441.75" cy="65.0" r="2.5" fill="url(#gHt)"/>
<circle cx="410.5" cy="57.0" r="2.5" fill="url(#gHt)"/>
<circle cx="410.5" cy="68.0" r="3.5" fill="url(#gOt)"/>
<circle cx="403.0" cy="68.0" r="3.0" fill="url(#gHt)"/>
<circle cx="418.0" cy="64.5" r="2.5" fill="url(#gHt)"/>
<circle cx="413.5" cy="77.5" r="3.0" fill="url(#gHt)"/>
<circle cx="404.25" cy="81.0" r="2.5" fill="url(#gHt)"/>
<circle cx="420.0" cy="80.0" r="3.0" fill="url(#gHt)"/>
<circle cx="431.25" cy="72.5" r="3.0" fill="url(#gHt)"/>
<circle cx="441.75" cy="74.5" r="3.5" fill="url(#gO)"/>
<circle cx="443.0" cy="79.5" r="3.0" fill="url(#gH)"/>
<circle cx="374.75" cy="62.5" r="2.5" fill="url(#gH)"/>
<circle cx="376.0" cy="70.75" r="3.0" fill="url(#gO)"/>
<circle cx="382.25" cy="72.5" r="2.5" fill="url(#gH)"/>
<circle cx="385.5" cy="74.25" r="2.5" fill="url(#gH)"/>
<circle cx="381.25" cy="82.0" r="4.0" fill="url(#gO)"/>
<circle cx="389.75" cy="81.25" r="2.5" fill="url(#gH)"/>
<circle cx="395.5" cy="76.5" r="3.0" fill="url(#gO)"/>
<circle cx="365.5" cy="87.5" r="3.0" fill="url(#gH)"/>
<circle cx="372.5" cy="88.0" r="3.0" fill="url(#gH)"/>
<circle cx="376.0" cy="91.25" r="3.5" fill="url(#gO)"/>
<circle cx="386.75" cy="88.75" r="3.0" fill="url(#gH)"/>
<circle cx="393.0" cy="92.0" r="2.5" fill="url(#gH)"/>
<circle cx="450.5" cy="85.0" r="3.5" fill="url(#gH)"/>
<circle cx="456.75" cy="84.0" r="2.5" fill="url(#gH)"/>
<circle cx="462.0" cy="84.0" r="2.0" fill="url(#gO)"/>
<circle cx="414.75" cy="88.5" r="3.5" fill="url(#gO)"/>
<circle cx="409.25" cy="91.0" r="3.0" fill="url(#gH)"/>
<circle cx="421.0" cy="85.0" r="3.5" fill="url(#gO)"/>
<circle cx="430.5" cy="87.5" r="3.0" fill="url(#gH)"/>
<circle cx="438.0" cy="90.0" r="3.0" fill="url(#gH)"/>
<circle cx="370.5" cy="101.25" r="4.0" fill="url(#gO)"/>
<circle cx="377.5" cy="98.0" r="3.5" fill="url(#gH)"/>
<circle cx="370.5" cy="105.5" r="3.5" fill="url(#gH)"/>
<circle cx="373.5" cy="112.5" r="3.0" fill="url(#gO)"/>
<circle cx="382.25" cy="105.5" r="3.5" fill="url(#gH)"/>
<circle cx="390.0" cy="107.0" r="4.0" fill="url(#gO)"/>
<circle cx="384.25" cy="113.0" r="3.5" fill="url(#gH)"/>
<circle cx="390.5" cy="111.75" r="3.5" fill="url(#gO)"/>
<circle cx="396.75" cy="108.75" r="3.0" fill="url(#gH)"/>
<circle cx="398.5" cy="99.25" r="4.0" fill="url(#gO)"/>
<circle cx="404.25" cy="100.0" r="3.5" fill="url(#gH)"/>
<circle cx="410.5" cy="96.25" r="3.5" fill="url(#gH)"/>
<circle cx="418.75" cy="98.0" r="4.0" fill="url(#gO)"/>
<circle cx="409.25" cy="107.5" r="4.0" fill="url(#gO)"/>
<circle cx="418.75" cy="106.25" r="3.0" fill="url(#gH)"/>
<circle cx="420.5" cy="112.5" r="4.0" fill="url(#gO)"/>
<circle cx="415.5" cy="116.25" r="3.5" fill="url(#gH)"/>
<circle cx="402.5" cy="114.5" r="3.5" fill="url(#gO)"/>
<circle cx="433.0" cy="97.0" r="4.0" fill="url(#gO)"/>
<circle cx="439.25" cy="98.75" r="4.0" fill="url(#gO)"/>
<circle cx="441.75" cy="103.25" r="4.0" fill="url(#gO)"/>
<circle cx="446.75" cy="100.0" r="3.0" fill="url(#gH)"/>
<circle cx="436.75" cy="106.25" r="4.0" fill="url(#gH)"/>
<circle cx="431.75" cy="110.0" r="3.0" fill="url(#gH)"/>
<circle cx="430.5" cy="103.75" r="2.5" fill="url(#gH)"/>
<circle cx="448.0" cy="108.75" r="3.0" fill="url(#gH)"/>
<circle cx="439.25" cy="113.75" r="3.0" fill="url(#gH)"/>
<circle cx="461.25" cy="103.25" r="3.5" fill="url(#gH)"/>
<circle cx="444.25" cy="116.5" r="2.5" fill="url(#gH)"/>
<circle cx="366.0" cy="96.0" r="2.5" fill="url(#gH)"/>
<circle cx="367.0" cy="113.0" r="2.5" fill="url(#gH)"/>
<circle cx="426.0" cy="93.0" r="2.5" fill="url(#gH)"/>
<circle cx="427.0" cy="116.0" r="2.5" fill="url(#gH)"/>
<circle cx="455.0" cy="96.0" r="2.5" fill="url(#gH)"/>
<circle cx="457.0" cy="112.0" r="2.5" fill="url(#gO)"/>
</g>
<rect x="363" y="17.5" width="102" height="102.0" rx="15.5" ry="15.5" fill="none" stroke="#444" stroke-width="0.95"/>
<text x="390.1" y="14.0" class="tb" font-size="13.7" textLength="43.5" lengthAdjust="spacingAndGlyphs">2.21 ps</text>
<clipPath id="clip5"><rect x="470.25" y="17" width="103.25" height="103.5" rx="15.5" ry="15.5"/></clipPath>
<g clip-path="url(#clip5)">
<ellipse cx="529.8" cy="43.6" rx="26.5" ry="23.5" fill="#fdeecb" stroke="#111" stroke-width="0.9"/>
<line x1="515.25" y1="36.25" x2="510.5" y2="49.25" stroke="#d9542a" stroke-width="2.6" stroke-linecap="round"/>
<line x1="515.25" y1="36.25" x2="510.5" y2="49.25" stroke="#f6d9a8" stroke-width="0.7"/>
<line x1="515.25" y1="36.25" x2="524" y2="36.25" stroke="#c8401c" stroke-width="2.2" stroke-linecap="round"/>
<line x1="524" y1="36.25" x2="535.5" y2="41.25" stroke="#33308a" stroke-width="2.2" stroke-linecap="round"/>
<line x1="535.5" y1="41.25" x2="544.25" y2="41.25" stroke="#33308a" stroke-width="2.2" stroke-linecap="round"/>
<line x1="484.0" y1="53.0" x2="485.66" y2="51.40" stroke="#cc1111" stroke-width="1.20"/>
<line x1="485.66" y1="51.40" x2="487.33" y2="49.8" stroke="#aaaaaa" stroke-width="1.20"/>
<line x1="496.75" y1="81.75" x2="495.40" y2="83.62" stroke="#cc1111" stroke-width="1.20"/>
<line x1="495.40" y1="83.62" x2="494.06" y2="85.5" stroke="#aaaaaa" stroke-width="1.20"/>
<line x1="552.25" y1="79.5" x2="552.93" y2="76.90" stroke="#cc1111" stroke-width="1.39"/>
<line x1="552.93" y1="76.90" x2="553.61" y2="74.29" stroke="#aaaaaa" stroke-width="1.39"/>
<line x1="549.75" y1="86.5" x2="549.98" y2="85.49" stroke="#cc1111" stroke-width="1.39"/>
<line x1="549.98" y1="85.49" x2="550.2" y2="84.48" stroke="#aaaaaa" stroke-width="1.39"/>
<line x1="569.75" y1="89.0" x2="568.18" y2="91.66" stroke="#cc1111" stroke-width="1.58"/>
<line x1="568.18" y1="91.66" x2="566.62" y2="94.31" stroke="#aaaaaa" stroke-width="1.58"/>
<line x1="507.25" y1="88.75" x2="505.91" y2="90.63" stroke="#cc1111" stroke-width="1.20"/>
<line x1="505.91" y1="90.63" x2="504.57" y2="92.52" stroke="#aaaaaa" stroke-width="1.20"/>
<line x1="556.0" y1="90.0" x2="556.02" y2="87.69" stroke="#cc1111" stroke-width="1.20"/>
<line x1="556.02" y1="87.69" x2="556.04" y2="85.38" stroke="#aaaaaa" stroke-width="1.20"/>
<line x1="517.25" y1="108.75" x2="518.70" y2="107.77" stroke="#cc1111" stroke-width="1.65"/>
<line x1="518.70" y1="107.77" x2="520.16" y2="106.79" stroke="#aaaaaa" stroke-width="1.65"/>
<line x1="544.0" y1="102.5" x2="542.81" y2="104.11" stroke="#cc1111" stroke-width="1.20"/>
<line x1="542.81" y1="104.11" x2="541.62" y2="105.72" stroke="#aaaaaa" stroke-width="1.20"/>
<line x1="548.5" y1="113.75" x2="550.19" y2="116.78" stroke="#cc1111" stroke-width="1.78"/>
<line x1="550.19" y1="116.78" x2="551.88" y2="119.8" stroke="#aaaaaa" stroke-width="1.78"/>
<line x1="542.25" y1="114.5" x2="540.16" y2="115.48" stroke="#cc1111" stroke-width="1.20"/>
<line x1="540.16" y1="115.48" x2="538.07" y2="116.46" stroke="#aaaaaa" stroke-width="1.20"/>
<line x1="502.25" y1="112.5" x2="503.00" y2="111.51" stroke="#cc1111" stroke-width="1.20"/>
<line x1="503.00" y1="111.51" x2="503.76" y2="110.52" stroke="#aaaaaa" stroke-width="1.20"/>
<line x1="480.0" y1="113.0" x2="481.69" y2="111.43" stroke="#cc1111" stroke-width="1.20"/>
<line x1="481.69" y1="111.43" x2="483.39" y2="109.86" stroke="#aaaaaa" stroke-width="1.20"/>
<line x1="524.0" y1="36.25" x2="524.00" y2="31.00" stroke="#4a4028" stroke-width="1.65"/>
<line x1="524.00" y1="31.00" x2="524.0" y2="25.75" stroke="#b9ae90" stroke-width="1.65"/>
<line x1="544.25" y1="41.25" x2="544.50" y2="38.88" stroke="#4a4028" stroke-width="1.38"/>
<line x1="544.50" y1="38.88" x2="544.75" y2="36.5" stroke="#b9ae90" stroke-width="1.38"/>
<line x1="544.25" y1="41.25" x2="548.25" y2="43.50" stroke="#4a4028" stroke-width="1.38"/>
<line x1="548.25" y1="43.50" x2="552.25" y2="45.75" stroke="#b9ae90" stroke-width="1.38"/>
<line x1="524.0" y1="36.25" x2="522.25" y2="38.38" stroke="#4a4028" stroke-width="1.38"/>
<line x1="522.25" y1="38.38" x2="520.5" y2="40.5" stroke="#b9ae90" stroke-width="1.38"/>
<line x1="510.5" y1="49.25" x2="514.25" y2="50.62" stroke="#c9451f" stroke-width="1.65"/>
<line x1="514.25" y1="50.62" x2="518.0" y2="52.0" stroke="#b9ae90" stroke-width="1.65"/>
<line x1="529.75" y1="53.75" x2="532.25" y2="51.88" stroke="#c9451f" stroke-width="1.38"/>
<line x1="532.25" y1="51.88" x2="534.75" y2="50.0" stroke="#b9ae90" stroke-width="1.38"/>
<line x1="547.25" y1="57.5" x2="544.75" y2="59.38" stroke="#c9451f" stroke-width="1.65"/>
<line x1="544.75" y1="59.38" x2="542.25" y2="61.25" stroke="#b9ae90" stroke-width="1.65"/>
<line x1="534.0" y1="71.25" x2="533.12" y2="67.50" stroke="#cc1111" stroke-width="1.93"/>
<line x1="533.12" y1="67.50" x2="532.25" y2="63.75" stroke="#b9ae90" stroke-width="1.93"/>
<line x1="547.25" y1="57.5" x2="549.38" y2="55.00" stroke="#c9451f" stroke-width="1.38"/>
<line x1="549.38" y1="55.00" x2="551.5" y2="52.5" stroke="#b9ae90" stroke-width="1.38"/>
<line x1="559.75" y1="59.25" x2="556.38" y2="60.88" stroke="#cc1111" stroke-width="1.65"/>
<line x1="556.38" y1="60.88" x2="553.0" y2="62.5" stroke="#aaaaaa" stroke-width="1.65"/>
<line x1="559.75" y1="59.25" x2="558.50" y2="62.38" stroke="#cc1111" stroke-width="1.65"/>
<line x1="558.50" y1="62.38" x2="557.25" y2="65.5" stroke="#aaaaaa" stroke-width="1.65"/>
<line x1="484.0" y1="53.0" x2="483.75" y2="49.25" stroke="#cc1111" stroke-width="1.38"/>
<line x1="483.75" y1="49.25" x2="483.5" y2="45.5" stroke="#aaaaaa" stroke-width="1.38"/>
<line x1="484.0" y1="53.0" x2="488.12" y2="53.75" stroke="#cc1111" stroke-width="1.38"/>
<line x1="488.12" y1="53.75" x2="492.25" y2="54.5" stroke="#aaaaaa" stroke-width="1.38"/>
<line x1="492.25" y1="67.0" x2="491.25" y2="63.88" stroke="#cc1111" stroke-width="1.38"/>
<line x1="491.25" y1="63.88" x2="490.25" y2="60.75" stroke="#aaaaaa" stroke-width="1.38"/>
<line x1="476.0" y1="80.0" x2="475.38" y2="75.62" stroke="#cc1111" stroke-width="1.65"/>
<line x1="475.38" y1="75.62" x2="474.75" y2="71.25" stroke="#aaaaaa" stroke-width="1.65"/>
<line x1="502.25" y1="71.75" x2="502.88" y2="66.75" stroke="#cc1111" stroke-width="1.65"/>
<line x1="502.88" y1="66.75" x2="503.5" y2="61.75" stroke="#aaaaaa" stroke-width="1.65"/>
<line x1="502.25" y1="71.75" x2="504.75" y2="67.75" stroke="#cc1111" stroke-width="1.65"/>
<line x1="504.75" y1="67.75" x2="507.25" y2="63.75" stroke="#aaaaaa" stroke-width="1.65"/>
<line x1="492.25" y1="67.0" x2="495.00" y2="67.25" stroke="#cc1111" stroke-width="1.65"/>
<line x1="495.00" y1="67.25" x2="497.75" y2="67.5" stroke="#aaaaaa" stroke-width="1.65"/>
<line x1="513.5" y1="74.25" x2="511.00" y2="74.25" stroke="#cc1111" stroke-width="1.65"/>
<line x1="511.00" y1="74.25" x2="508.5" y2="74.25" stroke="#aaaaaa" stroke-width="1.65"/>
<line x1="526.0" y1="74.25" x2="523.25" y2="73.12" stroke="#cc1111" stroke-width="1.38"/>
<line x1="523.25" y1="73.12" x2="520.5" y2="72.0" stroke="#aaaaaa" stroke-width="1.38"/>
<line x1="526.0" y1="74.25" x2="527.25" y2="71.50" stroke="#cc1111" stroke-width="1.38"/>
<line x1="527.25" y1="71.50" x2="528.5" y2="68.75" stroke="#aaaaaa" stroke-width="1.38"/>
<line x1="476.0" y1="80.0" x2="479.50" y2="78.12" stroke="#cc1111" stroke-width="1.65"/>
<line x1="479.50" y1="78.12" x2="483.0" y2="76.25" stroke="#aaaaaa" stroke-width="1.65"/>
<line x1="492.25" y1="67.0" x2="490.75" y2="69.75" stroke="#cc1111" stroke-width="1.65"/>
<line x1="490.75" y1="69.75" x2="489.25" y2="72.5" stroke="#aaaaaa" stroke-width="1.65"/>
<line x1="476.0" y1="80.0" x2="476.25" y2="84.25" stroke="#cc1111" stroke-width="1.93"/>
<line x1="476.25" y1="84.25" x2="476.5" y2="88.5" stroke="#aaaaaa" stroke-width="1.93"/>
<line x1="496.75" y1="81.75" x2="493.50" y2="82.50" stroke="#cc1111" stroke-width="1.38"/>
<line x1="493.50" y1="82.50" x2="490.25" y2="83.25" stroke="#aaaaaa" stroke-width="1.38"/>
<line x1="533.5" y1="78.75" x2="534.75" y2="80.00" stroke="#cc1111" stroke-width="2.20"/>
<line x1="534.75" y1="80.00" x2="536.0" y2="81.25" stroke="#aaaaaa" stroke-width="2.20"/>
<line x1="533.5" y1="78.75" x2="537.25" y2="80.00" stroke="#cc1111" stroke-width="1.65"/>
<line x1="537.25" y1="80.00" x2="541.0" y2="81.25" stroke="#aaaaaa" stroke-width="1.65"/>
<line x1="552.25" y1="79.5" x2="556.62" y2="79.50" stroke="#cc1111" stroke-width="1.65"/>
<line x1="556.62" y1="79.50" x2="561.0" y2="79.5" stroke="#aaaaaa" stroke-width="1.65"/>
<line x1="549.75" y1="86.5" x2="545.62" y2="87.00" stroke="#cc1111" stroke-width="2.20"/>
<line x1="545.62" y1="87.00" x2="541.5" y2="87.5" stroke="#aaaaaa" stroke-width="2.20"/>
<line x1="569.75" y1="89.0" x2="569.12" y2="87.62" stroke="#cc1111" stroke-width="1.93"/>
<line x1="569.12" y1="87.62" x2="568.5" y2="86.25" stroke="#aaaaaa" stroke-width="1.93"/>
<line x1="522.25" y1="87.5" x2="519.75" y2="86.25" stroke="#cc1111" stroke-width="1.65"/>
<line x1="519.75" y1="86.25" x2="517.25" y2="85.0" stroke="#aaaaaa" stroke-width="1.65"/>
<line x1="522.25" y1="87.5" x2="525.88" y2="88.75" stroke="#cc1111" stroke-width="1.65"/>
<line x1="525.88" y1="88.75" x2="529.5" y2="90.0" stroke="#aaaaaa" stroke-width="1.65"/>
<line x1="484.75" y1="103.75" x2="483.50" y2="99.62" stroke="#cc1111" stroke-width="2.20"/>
<line x1="483.50" y1="99.62" x2="482.25" y2="95.5" stroke="#aaaaaa" stroke-width="2.20"/>
<line x1="484.75" y1="103.75" x2="487.50" y2="101.88" stroke="#cc1111" stroke-width="2.20"/>
<line x1="487.50" y1="101.88" x2="490.25" y2="100.0" stroke="#aaaaaa" stroke-width="2.20"/>
<line x1="478.5" y1="103.75" x2="476.00" y2="101.25" stroke="#cc1111" stroke-width="1.65"/>
<line x1="476.00" y1="101.25" x2="473.5" y2="98.75" stroke="#aaaaaa" stroke-width="1.65"/>
<line x1="478.5" y1="103.75" x2="476.00" y2="105.62" stroke="#cc1111" stroke-width="1.65"/>
<line x1="476.00" y1="105.62" x2="473.5" y2="107.5" stroke="#aaaaaa" stroke-width="1.65"/>
<line x1="507.25" y1="88.75" x2="509.75" y2="91.25" stroke="#cc1111" stroke-width="1.65"/>
<line x1="509.75" y1="91.25" x2="512.25" y2="93.75" stroke="#aaaaaa" stroke-width="1.65"/>
<line x1="544.0" y1="102.5" x2="544.75" y2="99.38" stroke="#cc1111" stroke-width="1.38"/>
<line x1="544.75" y1="99.38" x2="545.5" y2="96.25" stroke="#aaaaaa" stroke-width="1.38"/>
<line x1="556.0" y1="90.0" x2="555.38" y2="90.62" stroke="#cc1111" stroke-width="1.65"/>
<line x1="555.38" y1="90.62" x2="554.75" y2="91.25" stroke="#aaaaaa" stroke-width="1.65"/>
<line x1="523.0" y1="99.25" x2="526.38" y2="98.38" stroke="#cc1111" stroke-width="1.65"/>
<line x1="526.38" y1="98.38" x2="529.75" y2="97.5" stroke="#aaaaaa" stroke-width="1.65"/>
<line x1="527.0" y1="104.0" x2="530.25" y2="104.88" stroke="#cc1111" stroke-width="1.65"/>
<line x1="530.25" y1="104.88" x2="533.5" y2="105.75" stroke="#aaaaaa" stroke-width="1.65"/>
<line x1="559.0" y1="106.25" x2="555.62" y2="105.38" stroke="#cc1111" stroke-width="1.93"/>
<line x1="555.62" y1="105.38" x2="552.25" y2="104.5" stroke="#aaaaaa" stroke-width="1.93"/>
<line x1="559.0" y1="106.25" x2="561.88" y2="103.12" stroke="#cc1111" stroke-width="1.93"/>
<line x1="561.88" y1="103.12" x2="564.75" y2="100.0" stroke="#aaaaaa" stroke-width="1.93"/>
<line x1="559.0" y1="106.25" x2="559.38" y2="109.38" stroke="#cc1111" stroke-width="1.93"/>
<line x1="559.38" y1="109.38" x2="559.75" y2="112.5" stroke="#aaaaaa" stroke-width="1.93"/>
<line x1="542.25" y1="114.5" x2="540.38" y2="112.88" stroke="#cc1111" stroke-width="1.65"/>
<line x1="540.38" y1="112.88" x2="538.5" y2="111.25" stroke="#aaaaaa" stroke-width="1.65"/>
<line x1="517.25" y1="108.75" x2="518.50" y2="112.62" stroke="#cc1111" stroke-width="1.65"/>
<line x1="518.50" y1="112.62" x2="519.75" y2="116.5" stroke="#aaaaaa" stroke-width="1.65"/>
<line x1="517.25" y1="108.75" x2="514.75" y2="111.88" stroke="#cc1111" stroke-width="1.65"/>
<line x1="514.75" y1="111.88" x2="512.25" y2="115.0" stroke="#aaaaaa" stroke-width="1.65"/>
<line x1="502.25" y1="112.5" x2="500.38" y2="109.75" stroke="#cc1111" stroke-width="1.65"/>
<line x1="500.38" y1="109.75" x2="498.5" y2="107.0" stroke="#aaaaaa" stroke-width="1.65"/>
<line x1="484.75" y1="103.75" x2="488.50" y2="106.88" stroke="#cc1111" stroke-width="2.20"/>
<line x1="488.50" y1="106.88" x2="492.25" y2="110.0" stroke="#aaaaaa" stroke-width="2.20"/>
<line x1="480.0" y1="113.0" x2="477.50" y2="114.50" stroke="#cc1111" stroke-width="1.38"/>
<line x1="477.50" y1="114.50" x2="475.0" y2="116.0" stroke="#aaaaaa" stroke-width="1.38"/>
<line x1="502.25" y1="99.25" x2="499.12" y2="95.62" stroke="#cc1111" stroke-width="1.38"/>
<line x1="499.12" y1="95.62" x2="496.0" y2="92.0" stroke="#aaaaaa" stroke-width="1.38"/>
<circle cx="487.33" cy="49.8" r="2.16" fill="url(#gH)"/>
<circle cx="494.06" cy="85.5" r="2.16" fill="url(#gH)"/>
<circle cx="553.61" cy="74.29" r="2.52" fill="url(#gH)"/>
<circle cx="550.2" cy="84.48" r="2.52" fill="url(#gH)"/>
<circle cx="566.62" cy="94.31" r="2.88" fill="url(#gH)"/>
<circle cx="504.57" cy="92.52" r="2.16" fill="url(#gH)"/>
<circle cx="556.04" cy="85.38" r="2.16" fill="url(#gH)"/>
<circle cx="520.16" cy="106.79" r="3.24" fill="url(#gH)"/>
<circle cx="541.62" cy="105.72" r="2.0" fill="url(#gH)"/>
<circle cx="551.88" cy="119.8" r="3.24" fill="url(#gH)"/>
<circle cx="538.07" cy="116.46" r="2.16" fill="url(#gH)"/>
<circle cx="503.76" cy="110.52" r="2.16" fill="url(#gH)"/>
<circle cx="483.39" cy="109.86" r="2.16" fill="url(#gH)"/>
<circle cx="515.25" cy="36.25" r="3.0" fill="url(#gOt)"/>
<circle cx="510.5" cy="49.25" r="3.0" fill="url(#gOt)"/>
<circle cx="524.0" cy="25.75" r="3.0" fill="url(#gHt)"/>
<circle cx="524.0" cy="36.25" r="4.0" fill="url(#gCt)"/>
<circle cx="535.5" cy="41.25" r="3.5" fill="url(#gNt)"/>
<circle cx="544.25" cy="41.25" r="3.5" fill="url(#gCt)"/>
<circle cx="544.75" cy="36.5" r="2.5" fill="url(#gHt)"/>
<circle cx="552.25" cy="45.75" r="2.5" fill="url(#gHt)"/>
<circle cx="520.5" cy="40.5" r="2.5" fill="url(#gHt)"/>
<circle cx="518.0" cy="52.0" r="3.0" fill="url(#gHt)"/>
<circle cx="529.75" cy="53.75" r="3.5" fill="url(#gOt)"/>
<circle cx="534.75" cy="50.0" r="2.5" fill="url(#gHt)"/>
<circle cx="547.25" cy="57.5" r="3.0" fill="url(#gOt)"/>
<circle cx="542.25" cy="61.25" r="3.0" fill="url(#gHt)"/>
<circle cx="532.25" cy="63.75" r="3.5" fill="url(#gHt)"/>
<circle cx="551.5" cy="52.5" r="2.5" fill="url(#gHt)"/>
<circle cx="559.75" cy="59.25" r="4.0" fill="url(#gO)"/>
<circle cx="553.0" cy="62.5" r="3.0" fill="url(#gH)"/>
<circle cx="557.25" cy="65.5" r="3.0" fill="url(#gH)"/>
<circle cx="483.5" cy="45.5" r="2.5" fill="url(#gH)"/>
<circle cx="484.0" cy="53.0" r="3.0" fill="url(#gO)"/>
<circle cx="492.25" cy="54.5" r="2.5" fill="url(#gH)"/>
<circle cx="490.25" cy="60.75" r="2.5" fill="url(#gH)"/>
<circle cx="492.25" cy="67.0" r="3.5" fill="url(#gO)"/>
<circle cx="473.0" cy="60.0" r="2.5" fill="url(#gH)"/>
<circle cx="471.5" cy="66.25" r="2.5" fill="url(#gH)"/>
<circle cx="474.75" cy="71.25" r="3.0" fill="url(#gH)"/>
<circle cx="503.5" cy="61.75" r="3.0" fill="url(#gH)"/>
<circle cx="507.25" cy="63.75" r="3.0" fill="url(#gH)"/>
<circle cx="497.75" cy="67.5" r="3.0" fill="url(#gH)"/>
<circle cx="502.25" cy="71.75" r="4.0" fill="url(#gO)"/>
<circle cx="508.5" cy="74.25" r="3.5" fill="url(#gH)"/>
<circle cx="513.5" cy="74.25" r="3.0" fill="url(#gO)"/>
<circle cx="520.5" cy="72.0" r="3.0" fill="url(#gH)"/>
<circle cx="526.0" cy="74.25" r="2.5" fill="url(#gO)"/>
<circle cx="534.0" cy="71.25" r="3.5" fill="url(#gO)"/>
<circle cx="528.5" cy="68.75" r="2.5" fill="url(#gH)"/>
<circle cx="476.0" cy="80.0" r="4.5" fill="url(#gO)"/>
<circle cx="483.0" cy="76.25" r="3.0" fill="url(#gH)"/>
<circle cx="489.25" cy="72.5" r="3.0" fill="url(#gH)"/>
<circle cx="476.5" cy="88.5" r="3.5" fill="url(#gH)"/>
<circle cx="496.75" cy="81.75" r="3.0" fill="url(#gO)"/>
<circle cx="490.25" cy="83.25" r="2.5" fill="url(#gH)"/>
<circle cx="533.5" cy="78.75" r="4.0" fill="url(#gO)"/>
<circle cx="536.0" cy="81.25" r="4.0" fill="url(#gH)"/>
<circle cx="541.0" cy="81.25" r="3.0" fill="url(#gH)"/>
<circle cx="552.25" cy="79.5" r="3.5" fill="url(#gO)"/>
<circle cx="561.0" cy="79.5" r="3.0" fill="url(#gH)"/>
<circle cx="549.75" cy="86.5" r="4.5" fill="url(#gO)"/>
<circle cx="541.5" cy="87.5" r="4.0" fill="url(#gH)"/>
<circle cx="568.5" cy="86.25" r="3.5" fill="url(#gH)"/>
<circle cx="569.75" cy="89.0" r="4.0" fill="url(#gO)"/>
<circle cx="517.25" cy="85.0" r="3.0" fill="url(#gH)"/>
<circle cx="522.25" cy="87.5" r="4.0" fill="url(#gO)"/>
<circle cx="507.25" cy="88.75" r="3.0" fill="url(#gO)"/>
<circle cx="486.0" cy="88.75" r="3.0" fill="url(#gH)"/>
<circle cx="529.5" cy="90.0" r="3.0" fill="url(#gH)"/>
<circle cx="556.0" cy="90.0" r="3.0" fill="url(#gO)"/>
<circle cx="482.25" cy="95.5" r="4.0" fill="url(#gH)"/>
<circle cx="490.25" cy="100.0" r="4.0" fill="url(#gH)"/>
<circle cx="484.75" cy="103.75" r="4.0" fill="url(#gO)"/>
<circle cx="478.5" cy="103.75" r="3.5" fill="url(#gO)"/>
<circle cx="473.5" cy="98.75" r="3.0" fill="url(#gH)"/>
<circle cx="473.5" cy="107.5" r="3.0" fill="url(#gH)"/>
<circle cx="502.25" cy="99.25" r="5.0" fill="url(#gO)"/>
<circle cx="512.25" cy="93.75" r="4.0" fill="url(#gH)"/>
<circle cx="516.0" cy="101.25" r="4.5" fill="url(#gO)"/>
<circle cx="523.0" cy="99.25" r="3.0" fill="url(#gO)"/>
<circle cx="536.75" cy="95.5" r="5.0" fill="url(#gO)"/>
<circle cx="545.5" cy="96.25" r="4.0" fill="url(#gH)"/>
<circle cx="554.75" cy="91.25" r="3.0" fill="url(#gH)"/>
<circle cx="529.75" cy="97.5" r="3.0" fill="url(#gH)"/>
<circle cx="533.5" cy="105.75" r="4.5" fill="url(#gH)"/>
<circle cx="527.0" cy="104.0" r="3.0" fill="url(#gO)"/>
<circle cx="552.25" cy="104.5" r="3.5" fill="url(#gH)"/>
<circle cx="544.0" cy="102.5" r="2.5" fill="url(#gO)"/>
<circle cx="559.0" cy="106.25" r="4.0" fill="url(#gO)"/>
<circle cx="564.75" cy="100.0" r="3.5" fill="url(#gH)"/>
<circle cx="567.0" cy="110.75" r="5.5" fill="url(#gO)"/>
<circle cx="559.75" cy="112.5" r="3.5" fill="url(#gH)"/>
<circle cx="548.5" cy="113.75" r="4.5" fill="url(#gO)"/>
<circle cx="529.75" cy="116.0" r="4.5" fill="url(#gH)"/>
<circle cx="538.5" cy="111.25" r="3.0" fill="url(#gH)"/>
<circle cx="542.25" cy="114.5" r="3.0" fill="url(#gO)"/>
<circle cx="519.75" cy="116.5" r="3.5" fill="url(#gH)"/>
<circle cx="517.25" cy="108.75" r="3.0" fill="url(#gO)"/>
<circle cx="512.25" cy="115.0" r="3.0" fill="url(#gH)"/>
<circle cx="507.25" cy="107.5" r="3.0" fill="url(#gO)"/>
<circle cx="498.5" cy="107.0" r="4.0" fill="url(#gH)"/>
<circle cx="492.25" cy="110.0" r="4.0" fill="url(#gH)"/>
<circle cx="502.25" cy="112.5" r="3.0" fill="url(#gO)"/>
<circle cx="491.0" cy="116.25" r="3.0" fill="url(#gH)"/>
<circle cx="480.0" cy="113.0" r="3.0" fill="url(#gO)"/>
<circle cx="475.0" cy="116.0" r="2.5" fill="url(#gH)"/>
<circle cx="496.0" cy="92.0" r="2.5" fill="url(#gH)"/>
</g>
<rect x="470.25" y="17" width="103.25" height="103.5" rx="15.5" ry="15.5" fill="none" stroke="#444" stroke-width="0.95"/>
<text x="497" y="11.6" class="tb" font-size="13.7" textLength="43.6" lengthAdjust="spacingAndGlyphs">2.25 ps</text>
<clipPath id="clip6"><rect x="579" y="17.5" width="103" height="102.5" rx="15.5" ry="15.5"/></clipPath>
<g clip-path="url(#clip6)">
<line x1="623.25" y1="57" x2="619.75" y2="67.5" stroke="#d21a1a" stroke-width="2.2" stroke-linecap="round"/>
<line x1="623.25" y1="57" x2="631.5" y2="53.25" stroke="#d21a1a" stroke-width="2.2" stroke-linecap="round"/>
<line x1="631.5" y1="53.25" x2="642" y2="58" stroke="#1030d0" stroke-width="2.2" stroke-linecap="round"/>
<line x1="642" y1="58" x2="649" y2="55.5" stroke="#1030d0" stroke-width="2.2" stroke-linecap="round"/>
<line x1="650.25" y1="72.5" x2="652.44" y2="70.93" stroke="#cc1111" stroke-width="1.39"/>
<line x1="652.44" y1="70.93" x2="654.63" y2="69.36" stroke="#aaaaaa" stroke-width="1.39"/>
<line x1="622.75" y1="78.75" x2="621.62" y2="80.21" stroke="#cc1111" stroke-width="1.20"/>
<line x1="621.62" y1="80.21" x2="620.48" y2="81.67" stroke="#aaaaaa" stroke-width="1.20"/>
<line x1="599.0" y1="102.0" x2="601.16" y2="101.18" stroke="#cc1111" stroke-width="1.20"/>
<line x1="601.16" y1="101.18" x2="603.32" y2="100.36" stroke="#aaaaaa" stroke-width="1.20"/>
<line x1="600.25" y1="114.5" x2="601.75" y2="111.38" stroke="#cc1111" stroke-width="1.78"/>
<line x1="601.75" y1="111.38" x2="603.24" y2="108.25" stroke="#aaaaaa" stroke-width="1.78"/>
<line x1="587.75" y1="114.5" x2="589.62" y2="115.19" stroke="#cc1111" stroke-width="1.20"/>
<line x1="589.62" y1="115.19" x2="591.5" y2="115.89" stroke="#aaaaaa" stroke-width="1.20"/>
<line x1="587.75" y1="114.5" x2="588.44" y2="112.62" stroke="#cc1111" stroke-width="1.20"/>
<line x1="588.44" y1="112.62" x2="589.14" y2="110.75" stroke="#aaaaaa" stroke-width="1.20"/>
<line x1="610.25" y1="114.5" x2="610.92" y2="112.62" stroke="#cc1111" stroke-width="1.20"/>
<line x1="610.92" y1="112.62" x2="611.59" y2="110.73" stroke="#aaaaaa" stroke-width="1.20"/>
<line x1="625.25" y1="102.5" x2="624.40" y2="104.37" stroke="#cc1111" stroke-width="1.39"/>
<line x1="624.40" y1="104.37" x2="623.56" y2="106.23" stroke="#aaaaaa" stroke-width="1.39"/>
<line x1="656.0" y1="94.5" x2="658.27" y2="94.09" stroke="#cc1111" stroke-width="1.20"/>
<line x1="658.27" y1="94.09" x2="660.55" y2="93.67" stroke="#aaaaaa" stroke-width="1.20"/>
<line x1="660.25" y1="102.5" x2="658.74" y2="104.25" stroke="#cc1111" stroke-width="1.20"/>
<line x1="658.74" y1="104.25" x2="657.22" y2="105.99" stroke="#aaaaaa" stroke-width="1.20"/>
<line x1="680.5" y1="98.0" x2="678.84" y2="98.53" stroke="#cc1111" stroke-width="1.20"/>
<line x1="678.84" y1="98.53" x2="677.17" y2="99.06" stroke="#aaaaaa" stroke-width="1.20"/>
<line x1="680.5" y1="98.0" x2="680.46" y2="96.25" stroke="#cc1111" stroke-width="1.20"/>
<line x1="680.46" y1="96.25" x2="680.42" y2="94.5" stroke="#aaaaaa" stroke-width="1.20"/>
<line x1="637.0" y1="116.0" x2="636.65" y2="117.97" stroke="#cc1111" stroke-width="1.20"/>
<line x1="636.65" y1="117.97" x2="636.3" y2="119.94" stroke="#aaaaaa" stroke-width="1.20"/>
<line x1="631.5" y1="53.25" x2="632.12" y2="49.12" stroke="#333333" stroke-width="1.38"/>
<line x1="632.12" y1="49.12" x2="632.75" y2="45.0" stroke="#aaaaaa" stroke-width="1.38"/>
<line x1="649.0" y1="55.5" x2="652.75" y2="56.75" stroke="#333333" stroke-width="1.20"/>
<line x1="652.75" y1="56.75" x2="656.5" y2="58.0" stroke="#aaaaaa" stroke-width="1.20"/>
<line x1="649.0" y1="55.5" x2="647.12" y2="54.25" stroke="#333333" stroke-width="1.20"/>
<line x1="647.12" y1="54.25" x2="645.25" y2="53.0" stroke="#aaaaaa" stroke-width="1.20"/>
<line x1="586.5" y1="71.25" x2="584.62" y2="68.12" stroke="#cc1111" stroke-width="1.38"/>
<line x1="584.62" y1="68.12" x2="582.75" y2="65.0" stroke="#aaaaaa" stroke-width="1.38"/>
<line x1="586.5" y1="71.25" x2="590.00" y2="70.62" stroke="#cc1111" stroke-width="1.20"/>
<line x1="590.00" y1="70.62" x2="593.5" y2="70.0" stroke="#aaaaaa" stroke-width="1.20"/>
<line x1="604.5" y1="66.25" x2="607.00" y2="65.38" stroke="#cc1111" stroke-width="1.20"/>
<line x1="607.00" y1="65.38" x2="609.5" y2="64.5" stroke="#aaaaaa" stroke-width="1.20"/>
<line x1="604.5" y1="66.25" x2="605.75" y2="69.12" stroke="#cc1111" stroke-width="1.20"/>
<line x1="605.75" y1="69.12" x2="607.0" y2="72.0" stroke="#aaaaaa" stroke-width="1.20"/>
<line x1="584.75" y1="80.0" x2="582.62" y2="79.38" stroke="#cc1111" stroke-width="1.20"/>
<line x1="582.62" y1="79.38" x2="580.5" y2="78.75" stroke="#aaaaaa" stroke-width="1.20"/>
<line x1="584.75" y1="80.0" x2="586.62" y2="82.50" stroke="#cc1111" stroke-width="1.38"/>
<line x1="586.62" y1="82.50" x2="588.5" y2="85.0" stroke="#aaaaaa" stroke-width="1.38"/>
<line x1="650.25" y1="72.5" x2="648.12" y2="69.38" stroke="#cc1111" stroke-width="1.38"/>
<line x1="648.12" y1="69.38" x2="646.0" y2="66.25" stroke="#aaaaaa" stroke-width="1.38"/>
<line x1="636.5" y1="74.5" x2="632.75" y2="74.38" stroke="#cc1111" stroke-width="1.65"/>
<line x1="632.75" y1="74.38" x2="629.0" y2="74.25" stroke="#aaaaaa" stroke-width="1.65"/>
<line x1="636.5" y1="74.5" x2="637.75" y2="76.00" stroke="#cc1111" stroke-width="1.20"/>
<line x1="637.75" y1="76.00" x2="639.0" y2="77.5" stroke="#aaaaaa" stroke-width="1.20"/>
<line x1="619.75" y1="67.5" x2="620.38" y2="70.00" stroke="#cc1111" stroke-width="1.38"/>
<line x1="620.38" y1="70.00" x2="621.0" y2="72.5" stroke="#aaaaaa" stroke-width="1.38"/>
<line x1="616.5" y1="81.25" x2="611.88" y2="80.62" stroke="#cc1111" stroke-width="1.38"/>
<line x1="611.88" y1="80.62" x2="607.25" y2="80.0" stroke="#aaaaaa" stroke-width="1.38"/>
<line x1="603.5" y1="89.0" x2="605.00" y2="86.38" stroke="#cc1111" stroke-width="1.65"/>
<line x1="605.00" y1="86.38" x2="606.5" y2="83.75" stroke="#aaaaaa" stroke-width="1.65"/>
<line x1="603.5" y1="89.0" x2="601.88" y2="84.25" stroke="#cc1111" stroke-width="1.20"/>
<line x1="601.88" y1="84.25" x2="600.25" y2="79.5" stroke="#aaaaaa" stroke-width="1.20"/>
<line x1="665.25" y1="78.75" x2="663.12" y2="77.12" stroke="#cc1111" stroke-width="1.38"/>
<line x1="663.12" y1="77.12" x2="661.0" y2="75.5" stroke="#aaaaaa" stroke-width="1.38"/>
<line x1="665.25" y1="78.75" x2="662.50" y2="80.38" stroke="#cc1111" stroke-width="1.38"/>
<line x1="662.50" y1="80.38" x2="659.75" y2="82.0" stroke="#aaaaaa" stroke-width="1.38"/>
<line x1="672.0" y1="89.0" x2="674.50" y2="86.38" stroke="#cc1111" stroke-width="1.38"/>
<line x1="674.50" y1="86.38" x2="677.0" y2="83.75" stroke="#aaaaaa" stroke-width="1.38"/>
<line x1="644.0" y1="92.5" x2="643.62" y2="90.00" stroke="#cc1111" stroke-width="1.38"/>
<line x1="643.62" y1="90.00" x2="643.25" y2="87.5" stroke="#aaaaaa" stroke-width="1.38"/>
<line x1="625.25" y1="92.5" x2="624.62" y2="89.38" stroke="#cc1111" stroke-width="1.65"/>
<line x1="624.62" y1="89.38" x2="624.0" y2="86.25" stroke="#aaaaaa" stroke-width="1.65"/>
<line x1="616.5" y1="81.25" x2="615.25" y2="83.75" stroke="#cc1111" stroke-width="1.20"/>
<line x1="615.25" y1="83.75" x2="614.0" y2="86.25" stroke="#aaaaaa" stroke-width="1.20"/>
<line x1="603.5" y1="89.0" x2="608.12" y2="90.75" stroke="#cc1111" stroke-width="1.93"/>
<line x1="608.12" y1="90.75" x2="612.75" y2="92.5" stroke="#aaaaaa" stroke-width="1.93"/>
<line x1="625.25" y1="92.5" x2="621.50" y2="91.88" stroke="#cc1111" stroke-width="1.38"/>
<line x1="621.50" y1="91.88" x2="617.75" y2="91.25" stroke="#aaaaaa" stroke-width="1.38"/>
<line x1="581.5" y1="98.75" x2="584.62" y2="98.12" stroke="#cc1111" stroke-width="1.93"/>
<line x1="584.62" y1="98.12" x2="587.75" y2="97.5" stroke="#aaaaaa" stroke-width="1.93"/>
<line x1="581.5" y1="98.75" x2="581.25" y2="95.00" stroke="#cc1111" stroke-width="1.38"/>
<line x1="581.25" y1="95.00" x2="581.0" y2="91.25" stroke="#aaaaaa" stroke-width="1.38"/>
<line x1="581.5" y1="98.75" x2="583.12" y2="102.50" stroke="#cc1111" stroke-width="1.38"/>
<line x1="583.12" y1="102.50" x2="584.75" y2="106.25" stroke="#aaaaaa" stroke-width="1.38"/>
<line x1="599.0" y1="102.0" x2="596.50" y2="104.12" stroke="#cc1111" stroke-width="1.65"/>
<line x1="596.50" y1="104.12" x2="594.0" y2="106.25" stroke="#aaaaaa" stroke-width="1.65"/>
<line x1="600.25" y1="114.5" x2="597.75" y2="113.50" stroke="#cc1111" stroke-width="1.65"/>
<line x1="597.75" y1="113.50" x2="595.25" y2="112.5" stroke="#aaaaaa" stroke-width="1.65"/>
<line x1="610.25" y1="103.75" x2="610.88" y2="101.88" stroke="#cc1111" stroke-width="1.20"/>
<line x1="610.88" y1="101.88" x2="611.5" y2="100.0" stroke="#aaaaaa" stroke-width="1.20"/>
<line x1="610.25" y1="103.75" x2="612.75" y2="105.62" stroke="#cc1111" stroke-width="1.38"/>
<line x1="612.75" y1="105.62" x2="615.25" y2="107.5" stroke="#aaaaaa" stroke-width="1.38"/>
<line x1="625.25" y1="102.5" x2="627.75" y2="101.25" stroke="#cc1111" stroke-width="2.20"/>
<line x1="627.75" y1="101.25" x2="630.25" y2="100.0" stroke="#aaaaaa" stroke-width="2.20"/>
<line x1="625.25" y1="102.5" x2="623.38" y2="106.88" stroke="#cc1111" stroke-width="1.93"/>
<line x1="623.38" y1="106.88" x2="621.5" y2="111.25" stroke="#aaaaaa" stroke-width="1.93"/>
<line x1="631.5" y1="108.75" x2="633.38" y2="106.25" stroke="#cc1111" stroke-width="1.38"/>
<line x1="633.38" y1="106.25" x2="635.25" y2="103.75" stroke="#aaaaaa" stroke-width="1.38"/>
<line x1="637.0" y1="116.0" x2="638.00" y2="113.62" stroke="#cc1111" stroke-width="1.38"/>
<line x1="638.00" y1="113.62" x2="639.0" y2="111.25" stroke="#aaaaaa" stroke-width="1.38"/>
<line x1="631.5" y1="108.75" x2="630.25" y2="111.25" stroke="#cc1111" stroke-width="1.38"/>
<line x1="630.25" y1="111.25" x2="629.0" y2="113.75" stroke="#aaaaaa" stroke-width="1.38"/>
<line x1="656.0" y1="94.5" x2="653.50" y2="93.25" stroke="#cc1111" stroke-width="1.38"/>
<line x1="653.50" y1="93.25" x2="651.0" y2="92.0" stroke="#aaaaaa" stroke-width="1.38"/>
<line x1="647.75" y1="97.5" x2="646.75" y2="100.25" stroke="#cc1111" stroke-width="1.38"/>
<line x1="646.75" y1="100.25" x2="645.75" y2="103.0" stroke="#aaaaaa" stroke-width="1.38"/>
<line x1="647.75" y1="97.5" x2="650.25" y2="99.75" stroke="#cc1111" stroke-width="1.38"/>
<line x1="650.25" y1="99.75" x2="652.75" y2="102.0" stroke="#aaaaaa" stroke-width="1.38"/>
<line x1="667.0" y1="107.0" x2="665.25" y2="109.12" stroke="#cc1111" stroke-width="1.93"/>
<line x1="665.25" y1="109.12" x2="663.5" y2="111.25" stroke="#aaaaaa" stroke-width="1.93"/>
<line x1="667.0" y1="107.0" x2="668.62" y2="109.12" stroke="#cc1111" stroke-width="1.65"/>
<line x1="668.62" y1="109.12" x2="670.25" y2="111.25" stroke="#aaaaaa" stroke-width="1.65"/>
<line x1="654.0" y1="114.25" x2="651.25" y2="115.12" stroke="#cc1111" stroke-width="1.65"/>
<line x1="651.25" y1="115.12" x2="648.5" y2="116.0" stroke="#aaaaaa" stroke-width="1.65"/>
<line x1="672.0" y1="89.0" x2="674.25" y2="90.75" stroke="#cc1111" stroke-width="1.38"/>
<line x1="674.25" y1="90.75" x2="676.5" y2="92.5" stroke="#aaaaaa" stroke-width="1.38"/>
<line x1="603.5" y1="89.0" x2="604.25" y2="92.50" stroke="#cc1111" stroke-width="1.20"/>
<line x1="604.25" y1="92.50" x2="605.0" y2="96.0" stroke="#aaaaaa" stroke-width="1.20"/>
<line x1="610.25" y1="114.5" x2="613.62" y2="115.25" stroke="#cc1111" stroke-width="1.38"/>
<line x1="613.62" y1="115.25" x2="617.0" y2="116.0" stroke="#aaaaaa" stroke-width="1.38"/>
<circle cx="654.63" cy="69.36" r="2.52" fill="url(#gH)"/>
<circle cx="620.48" cy="81.67" r="2.0" fill="url(#gH)"/>
<circle cx="603.32" cy="100.36" r="2.16" fill="url(#gH)"/>
<circle cx="603.24" cy="108.25" r="3.24" fill="url(#gH)"/>
<circle cx="591.5" cy="115.89" r="2.0" fill="url(#gH)"/>
<circle cx="589.14" cy="110.75" r="2.0" fill="url(#gH)"/>
<circle cx="611.59" cy="110.73" r="2.0" fill="url(#gH)"/>
<circle cx="623.56" cy="106.23" r="2.52" fill="url(#gH)"/>
<circle cx="660.55" cy="93.67" r="2.16" fill="url(#gH)"/>
<circle cx="657.22" cy="105.99" r="2.16" fill="url(#gH)"/>
<circle cx="677.17" cy="99.06" r="2.0" fill="url(#gH)"/>
<circle cx="680.42" cy="94.5" r="2.0" fill="url(#gH)"/>
<circle cx="636.3" cy="119.94" r="2.0" fill="url(#gH)"/>
<circle cx="632.75" cy="45.0" r="2.5" fill="url(#gH)"/>
<circle cx="631.5" cy="53.25" r="3.5" fill="url(#gC)"/>
<circle cx="623.25" cy="57.0" r="2.5" fill="url(#gO)"/>
<circle cx="619.75" cy="67.5" r="2.5" fill="url(#gO)"/>
<circle cx="642.0" cy="58.0" r="3.0" fill="url(#gN)"/>
<circle cx="649.0" cy="55.5" r="3.0" fill="url(#gC)"/>
<circle cx="656.5" cy="58.0" r="2.0" fill="url(#gH)"/>
<circle cx="645.25" cy="53.0" r="2.0" fill="url(#gH)"/>
<circle cx="582.75" cy="65.0" r="2.5" fill="url(#gH)"/>
<circle cx="586.5" cy="71.25" r="3.0" fill="url(#gO)"/>
<circle cx="593.5" cy="70.0" r="2.0" fill="url(#gH)"/>
<circle cx="604.5" cy="66.25" r="2.5" fill="url(#gO)"/>
<circle cx="609.5" cy="64.5" r="2.0" fill="url(#gH)"/>
<circle cx="607.0" cy="72.0" r="2.0" fill="url(#gH)"/>
<circle cx="584.75" cy="80.0" r="3.0" fill="url(#gO)"/>
<circle cx="580.5" cy="78.75" r="2.0" fill="url(#gH)"/>
<circle cx="588.5" cy="85.0" r="2.5" fill="url(#gH)"/>
<circle cx="646.0" cy="66.25" r="2.5" fill="url(#gH)"/>
<circle cx="650.25" cy="72.5" r="3.5" fill="url(#gO)"/>
<circle cx="629.0" cy="74.25" r="3.0" fill="url(#gH)"/>
<circle cx="636.5" cy="74.5" r="3.0" fill="url(#gO)"/>
<circle cx="639.0" cy="77.5" r="2.0" fill="url(#gH)"/>
<circle cx="622.75" cy="78.75" r="3.5" fill="url(#gO)"/>
<circle cx="621.0" cy="72.5" r="3.0" fill="url(#gH)"/>
<circle cx="616.5" cy="81.25" r="2.5" fill="url(#gO)"/>
<circle cx="607.25" cy="80.0" r="3.0" fill="url(#gH)"/>
<circle cx="606.5" cy="83.75" r="3.0" fill="url(#gH)"/>
<circle cx="603.5" cy="89.0" r="4.5" fill="url(#gO)"/>
<circle cx="600.25" cy="79.5" r="2.0" fill="url(#gH)"/>
<circle cx="665.25" cy="78.75" r="3.0" fill="url(#gO)"/>
<circle cx="661.0" cy="75.5" r="2.5" fill="url(#gH)"/>
<circle cx="659.75" cy="82.0" r="2.5" fill="url(#gH)"/>
<circle cx="679.0" cy="73.75" r="2.5" fill="url(#gH)"/>
<circle cx="677.0" cy="83.75" r="2.5" fill="url(#gH)"/>
<circle cx="672.0" cy="89.0" r="3.0" fill="url(#gO)"/>
<circle cx="643.25" cy="87.5" r="2.5" fill="url(#gH)"/>
<circle cx="624.0" cy="86.25" r="3.0" fill="url(#gH)"/>
<circle cx="614.0" cy="86.25" r="2.0" fill="url(#gH)"/>
<circle cx="612.75" cy="92.5" r="3.5" fill="url(#gH)"/>
<circle cx="625.25" cy="92.5" r="3.0" fill="url(#gO)"/>
<circle cx="617.75" cy="91.25" r="2.5" fill="url(#gH)"/>
<circle cx="581.5" cy="98.75" r="3.5" fill="url(#gO)"/>
<circle cx="587.75" cy="97.5" r="3.5" fill="url(#gH)"/>
<circle cx="581.0" cy="91.25" r="2.5" fill="url(#gH)"/>
<circle cx="584.75" cy="106.25" r="2.5" fill="url(#gH)"/>
<circle cx="599.0" cy="102.0" r="3.0" fill="url(#gO)"/>
<circle cx="594.0" cy="106.25" r="3.0" fill="url(#gH)"/>
<circle cx="600.25" cy="114.5" r="4.5" fill="url(#gO)"/>
<circle cx="595.25" cy="112.5" r="3.0" fill="url(#gH)"/>
<circle cx="587.75" cy="114.5" r="2.5" fill="url(#gO)"/>
<circle cx="610.25" cy="103.75" r="3.0" fill="url(#gO)"/>
<circle cx="611.5" cy="100.0" r="2.0" fill="url(#gH)"/>
<circle cx="615.25" cy="107.5" r="2.5" fill="url(#gH)"/>
<circle cx="610.25" cy="114.5" r="2.5" fill="url(#gO)"/>
<circle cx="625.25" cy="102.5" r="5.0" fill="url(#gO)"/>
<circle cx="630.25" cy="100.0" r="4.0" fill="url(#gH)"/>
<circle cx="621.5" cy="101.25" r="3.5" fill="url(#gO)"/>
<circle cx="621.5" cy="111.25" r="3.5" fill="url(#gH)"/>
<circle cx="631.5" cy="108.75" r="3.0" fill="url(#gO)"/>
<circle cx="635.25" cy="103.75" r="2.5" fill="url(#gH)"/>
<circle cx="639.0" cy="111.25" r="2.5" fill="url(#gH)"/>
<circle cx="629.0" cy="113.75" r="2.5" fill="url(#gH)"/>
<circle cx="647.75" cy="97.5" r="4.0" fill="url(#gO)"/>
<circle cx="644.0" cy="92.5" r="2.5" fill="url(#gO)"/>
<circle cx="651.0" cy="92.0" r="2.5" fill="url(#gH)"/>
<circle cx="656.0" cy="94.5" r="3.0" fill="url(#gO)"/>
<circle cx="645.75" cy="103.0" r="2.5" fill="url(#gH)"/>
<circle cx="652.75" cy="102.0" r="2.5" fill="url(#gH)"/>
<circle cx="660.25" cy="102.5" r="3.0" fill="url(#gO)"/>
<circle cx="654.0" cy="114.25" r="5.0" fill="url(#gO)"/>
<circle cx="663.5" cy="111.25" r="4.0" fill="url(#gH)"/>
<circle cx="667.0" cy="107.0" r="3.5" fill="url(#gO)"/>
<circle cx="670.25" cy="111.25" r="3.0" fill="url(#gH)"/>
<circle cx="648.5" cy="116.0" r="3.0" fill="url(#gH)"/>
<circle cx="644.0" cy="110.0" r="2.5" fill="url(#gH)"/>
<circle cx="676.5" cy="92.5" r="2.5" fill="url(#gH)"/>
<circle cx="679.0" cy="107.5" r="2.5" fill="url(#gH)"/>
<circle cx="680.5" cy="98.0" r="2.0" fill="url(#gO)"/>
<circle cx="592.0" cy="92.0" r="2.0" fill="url(#gH)"/>
<circle cx="605.0" cy="96.0" r="2.0" fill="url(#gH)"/>
<circle cx="617.0" cy="116.0" r="2.5" fill="url(#gH)"/>
<circle cx="637.0" cy="116.0" r="2.5" fill="url(#gO)"/>
<circle cx="674.0" cy="116.0" r="2.5" fill="url(#gH)"/>
</g>
<rect x="579" y="17.5" width="103" height="102.5" rx="15.5" ry="15.5" fill="none" stroke="#444" stroke-width="0.95"/>
<text x="615.3" y="14.0" class="tb" font-size="13.7" textLength="35.7" lengthAdjust="spacingAndGlyphs">3.0 ps</text>
<clipPath id="clipb"><rect x="42.5" y="181.25" width="337.0" height="168.25"/></clipPath>
<g clip-path="url(#clipb)">
<polyline points="43.0,279.5 43.5,279.8 44.0,280.7 44.5,281.7 45.0,283.1 45.5,283.5 46.0,285.3 46.5,285.8 47.0,286.9 47.5,287.8 48.0,289.0 48.5,289.3 49.0,290.6 49.5,291.4 50.0,292.4 50.5,292.3 51.0,292.7 51.5,292.7 52.0,293.0 52.5,293.2 53.0,293.0 53.5,293.6 54.0,293.7 54.5,293.7 55.0,293.9 55.5,293.8 56.0,294.1 56.5,294.1 57.0,294.6 57.5,295.0 58.0,295.1 58.5,295.5 59.0,295.7 59.5,296.0 60.0,296.3 60.5,296.8 61.0,296.9 61.5,297.4 62.0,297.9 62.5,297.8 63.0,297.3 63.5,296.7 64.0,296.2 64.5,296.1 65.0,295.2 65.5,294.5 66.0,294.1 66.5,294.0 67.0,293.2 67.5,293.0 68.0,292.7 68.5,292.5 69.0,292.1 69.5,292.1 70.0,292.0 70.5,292.0 71.0,291.9 71.5,291.8 72.0,291.4 72.5,291.2 73.0,290.3 73.5,290.0 74.0,289.1 74.5,288.2 75.0,287.6 75.5,286.7 76.0,286.2 76.5,285.6 77.0,284.9 77.5,283.5 78.0,282.7 78.5,282.2 79.0,281.6 79.5,281.1 80.0,280.3 80.5,279.1 81.0,278.8 81.5,278.3 82.0,277.5 82.5,276.9 83.0,276.0 83.5,275.3 84.0,274.7 84.5,274.2 85.0,273.8 85.5,273.9 86.0,274.1 86.5,274.8 87.0,275.2 87.5,275.9 88.0,276.3 88.5,276.6 89.0,277.0 89.5,277.4 90.0,278.1 90.5,278.4 91.0,278.7 91.5,279.2 92.0,279.5 92.5,280.1 93.0,280.3 93.5,281.0 94.0,281.3 94.5,281.6 95.0,281.3 95.5,281.2 96.0,280.8 96.5,279.8 97.0,279.3 97.5,278.7 98.0,277.7 98.5,277.4 99.0,276.8 99.5,275.8 100.0,275.4 100.5,274.4 101.0,274.1 101.5,273.2 102.0,273.2 102.5,272.6 103.0,272.0 103.5,271.3 104.0,271.3 104.5,270.9 105.0,269.6 105.5,269.7 106.0,269.3 106.5,268.6 107.0,267.9 107.5,268.1 108.0,268.0 108.5,268.2 109.0,268.5 109.5,269.2 110.0,269.7 110.5,269.8 111.0,270.5 111.5,270.5 112.0,271.3 112.5,271.6 113.0,272.1 113.5,272.6 114.0,273.5 114.5,274.1 115.0,274.7 115.5,275.2 116.0,275.9 116.5,276.6 117.0,277.2 117.5,277.9 118.0,278.4 118.5,278.6 119.0,279.9 119.5,280.8 120.0,281.0 120.5,281.4 121.0,281.8 121.5,282.2 122.0,282.6 122.5,282.8 123.0,283.3 123.5,283.6 124.0,284.2 124.5,284.5 125.0,284.7 125.5,284.5 126.0,284.4 126.5,283.8 127.0,283.8 127.5,282.6 128.0,282.5 128.5,282.4 129.0,282.3 129.5,281.3 130.0,281.0 130.5,280.5 131.0,280.3 131.5,279.5 132.0,279.2 132.5,278.6 133.0,277.9 133.5,277.7 134.0,277.3 134.5,277.1 135.0,276.8 135.5,277.2 136.0,278.1 136.5,278.9 137.0,279.8 137.5,280.6 138.0,281.7 138.5,282.4 139.0,283.6 139.5,284.3 140.0,285.1 140.5,285.5 141.0,286.7 141.5,287.5 142.0,288.4 142.5,289.2 143.0,289.7 143.5,290.8 144.0,291.3 144.5,292.4 145.0,292.1 145.5,291.9 146.0,291.6 146.5,291.2 147.0,290.6 147.5,290.6 148.0,289.6 148.5,288.9 149.0,288.8 149.5,287.9 150.0,287.1 150.5,286.6 151.0,285.6 151.5,284.4 152.0,283.8 152.5,282.5 153.0,281.8 153.5,280.6 154.0,279.8 154.5,278.5 155.0,277.3 155.5,277.1 156.0,275.9 156.5,275.8 157.0,276.0 157.5,276.7 158.0,277.5 158.5,278.2 159.0,279.0 159.5,279.9 160.0,280.2 160.5,280.7 161.0,281.4 161.5,282.2 162.0,282.7 162.5,283.9 163.0,284.3 163.5,285.0 164.0,285.8 164.5,286.2 165.0,287.0 165.5,288.1 166.0,288.8 166.5,289.2 167.0,290.4 167.5,290.5 168.0,291.3 168.5,291.7 169.0,291.2 169.5,291.8 170.0,290.8 170.5,289.9 171.0,289.8 171.5,288.8 172.0,288.1 172.5,287.2 173.0,286.7 173.5,285.8 174.0,285.6 174.5,284.7 175.0,284.1 175.5,283.8 176.0,283.1 176.5,283.0 177.0,283.1 177.5,283.1 178.0,283.7 178.5,284.2 179.0,284.3 179.5,284.6 180.0,284.6 180.5,284.9 181.0,285.1 181.5,285.9 182.0,286.1 182.5,287.4 183.0,288.4 183.5,290.5 184.0,292.7 184.5,295.0 185.0,297.0 185.5,299.2 186.0,301.4 186.5,303.6 187.0,305.6 187.5,307.9 188.0,309.9 188.5,312.0 189.0,314.1 189.5,315.8 190.0,317.8 190.5,319.6 191.0,321.4 191.5,323.1 192.0,324.2 192.5,325.5 193.0,326.1 193.5,325.4 194.0,325.2 194.5,324.9 195.0,324.7 195.5,324.8 196.0,324.2 196.5,323.7 197.0,323.7 197.5,323.1 198.0,323.2 198.5,322.9 199.0,323.1 199.5,322.9 200.0,323.9 200.5,323.7 201.0,324.0 201.5,324.1 202.0,324.3 202.5,324.6 203.0,325.0 203.5,325.2 204.0,325.7 204.5,325.7 205.0,326.0 205.5,325.7 206.0,324.9 206.5,324.6 207.0,323.7 207.5,323.4 208.0,322.6 208.5,322.1 209.0,321.1 209.5,320.7 210.0,320.8 210.5,320.5 211.0,320.6 211.5,321.1 212.0,321.5 212.5,322.1 213.0,322.9 213.5,323.8 214.0,323.9 214.5,324.6 215.0,325.0 215.5,325.5 216.0,325.7 216.5,325.8 217.0,325.8 217.5,325.3 218.0,325.4 218.5,325.1 219.0,324.6 219.5,324.5 220.0,323.9 220.5,323.6 221.0,323.4 221.5,323.1 222.0,322.8 222.5,322.6 223.0,322.7 223.5,323.2 224.0,322.9 224.5,323.7 225.0,323.8 225.5,324.3 226.0,324.5 226.5,324.1 227.0,325.0 227.5,325.0 228.0,325.0 228.5,324.9 229.0,325.2 229.5,324.9 230.0,325.4 230.5,325.1 231.0,325.4 231.5,324.8 232.0,324.6 232.5,325.8 233.0,325.7 233.5,324.4 234.0,323.0 234.5,322.9 235.0,323.8 235.5,324.6 236.0,324.8 236.5,324.2 237.0,323.1 237.5,322.8 238.0,323.2 238.5,324.8 239.0,324.8 239.5,324.5 240.0,323.2 240.5,323.1 241.0,323.0 241.5,324.5 242.0,324.9 242.5,325.0 243.0,323.3 243.5,322.9 244.0,323.2 244.5,324.3 245.0,324.8 245.5,324.7 246.0,323.4 246.5,322.8 247.0,323.1 247.5,324.1 248.0,324.7 248.5,325.2 249.0,324.4 249.5,323.1 250.0,322.5 250.5,323.3 251.0,324.5 251.5,325.1 252.0,324.3 252.5,322.8 253.0,322.9 253.5,323.8 254.0,324.4 254.5,324.7 255.0,324.8 255.5,323.4 256.0,322.8 256.5,323.4 257.0,324.3 257.5,324.8 258.0,324.8 258.5,323.8 259.0,323.1 259.5,323.2 260.0,324.3 260.5,324.8 261.0,324.8 261.5,324.0 262.0,323.2 262.5,323.4 263.0,324.0 263.5,324.4 264.0,324.6 264.5,324.3 265.0,323.0 265.5,323.0 266.0,323.5 266.5,324.8 267.0,324.8 267.5,324.5 268.0,323.1 268.5,323.1 269.0,323.6 269.5,324.3 270.0,325.1 270.5,324.2 271.0,323.3 271.5,323.0 272.0,323.2 272.5,324.2 273.0,324.8 273.5,324.4 274.0,323.8 274.5,323.1 275.0,323.2 275.5,324.1 276.0,324.9 276.5,325.0 277.0,324.0 277.5,322.9 278.0,323.2 278.5,323.9 279.0,324.7 279.5,325.2 280.0,323.9 280.5,323.0 281.0,322.6 281.5,323.4 282.0,324.7 282.5,324.7 283.0,324.3 283.5,323.0 284.0,322.8 284.5,323.6 285.0,324.8 285.5,325.0 286.0,324.6 286.5,323.8 287.0,323.1 287.5,323.1 288.0,324.3 288.5,325.0 289.0,324.5 289.5,323.7 290.0,322.8 290.5,323.5 291.0,325.0 291.5,325.5 292.0,325.9 292.5,325.3 293.0,324.2 293.5,324.6 294.0,325.3 294.5,326.2 295.0,326.2 295.5,325.5 296.0,324.5 296.5,324.5 297.0,325.1 297.5,326.2 298.0,326.7 298.5,325.7 299.0,324.8 299.5,324.2 300.0,325.1 300.5,325.8 301.0,326.2 301.5,326.0 302.0,325.0 302.5,324.6 303.0,325.1 303.5,325.7 304.0,326.4 304.5,326.4 305.0,325.3 305.5,324.6 306.0,324.9 306.5,325.5 307.0,326.5 307.5,326.5 308.0,325.6 308.5,324.3 309.0,324.5 309.5,325.5 310.0,326.2 310.5,326.2 311.0,325.6 311.5,324.5 312.0,324.1 312.5,325.3 313.0,326.0 313.5,326.2 314.0,325.4 314.5,325.0 315.0,324.0 315.5,324.7 316.0,325.9 316.5,326.6 317.0,326.1 317.5,324.7 318.0,324.4 318.5,324.5 319.0,326.0 319.5,326.1 320.0,326.0 320.5,325.3 321.0,324.4 321.5,325.0 322.0,325.4 322.5,326.4 323.0,326.4 323.5,325.3 324.0,324.8 324.5,324.7 325.0,325.1 325.5,327.0 326.0,326.4 326.5,325.5 327.0,324.3 327.5,324.5 328.0,325.1 328.5,326.3 329.0,326.4 329.5,326.1 330.0,324.8 330.5,324.5 331.0,325.1 331.5,325.9 332.0,326.4 332.5,326.1 333.0,325.1 333.5,324.3 334.0,324.6 334.5,325.8 335.0,326.6 335.5,326.0 336.0,325.4 336.5,324.3 337.0,324.7 337.5,325.1 338.0,326.2 338.5,326.1 339.0,325.4 339.5,324.8 340.0,324.6 340.5,325.7 341.0,326.4 341.5,326.5 342.0,325.4 342.5,324.9 343.0,324.2 343.5,325.3 344.0,325.9 344.5,326.3 345.0,325.4 345.5,324.6 346.0,324.5 346.5,325.0 347.0,325.7 347.5,326.7 348.0,326.0 348.5,325.1 349.0,324.6 349.5,324.7 350.0,325.4 350.5,326.2 351.0,326.3 351.5,324.9 352.0,324.6 352.5,324.6 353.0,325.7 353.5,326.0 354.0,326.4 354.5,325.3 355.0,324.7 355.5,324.6 356.0,325.6 356.5,326.2 357.0,326.4 357.5,325.2 358.0,324.4 358.5,324.6 359.0,325.2 359.5,326.1 360.0,326.3 360.5,325.8 361.0,324.6 361.5,324.5 362.0,324.8 362.5,325.9 363.0,326.6 363.5,326.1 364.0,324.7 364.5,324.6 365.0,324.6 365.5,325.9 366.0,326.0 366.5,325.8 367.0,325.0 367.5,324.4 368.0,325.0 368.5,325.8 369.0,326.7 369.5,326.4 370.0,325.2 370.5,324.4 371.0,324.8 371.5,325.4 372.0,326.2 372.5,326.0 373.0,325.5 373.5,324.1 374.0,324.4 374.5,325.0 375.0,326.3 375.5,326.3 376.0,325.6 376.5,325.0 377.0,324.2 377.5,325.1 378.0,325.6 378.5,326.4 379.0,326.0 379.5,325.1" fill="none" stroke="#ff0000" stroke-width="1.6" stroke-linejoin="round"/>
<polyline points="43.0,337.3 43.5,337.5 44.0,336.6 44.5,338.2 45.0,336.8 45.5,337.2 46.0,337.7 46.5,337.0 47.0,337.1 47.5,337.1 48.0,337.7 48.5,338.4 49.0,337.5 49.5,337.0 50.0,337.7 50.5,337.3 51.0,337.5 51.5,338.0 52.0,337.2 52.5,337.5 53.0,337.1 53.5,337.4 54.0,337.6 54.5,337.1 55.0,337.3 55.5,337.4 56.0,337.2 56.5,337.0 57.0,336.9 57.5,337.4 58.0,337.4 58.5,338.4 59.0,336.5 59.5,337.5 60.0,337.6 60.5,338.0 61.0,337.7 61.5,337.1 62.0,337.5 62.5,337.7 63.0,337.3 63.5,337.8 64.0,336.7 64.5,338.2 65.0,338.1 65.5,337.3 66.0,337.7 66.5,337.5 67.0,337.1 67.5,337.5 68.0,337.9 68.5,337.3 69.0,337.3 69.5,337.4 70.0,337.6 70.5,338.0 71.0,337.2 71.5,337.7 72.0,337.5 72.5,336.7 73.0,337.3 73.5,337.4 74.0,337.4 74.5,337.6 75.0,336.6 75.5,337.5 76.0,337.2 76.5,336.9 77.0,337.7 77.5,337.7 78.0,337.2 78.5,337.8 79.0,337.3 79.5,337.5 80.0,337.0 80.5,338.1 81.0,336.4 81.5,337.4 82.0,337.7 82.5,336.6 83.0,337.4 83.5,337.4 84.0,337.8 84.5,337.9 85.0,337.3 85.5,336.9 86.0,338.0 86.5,337.9 87.0,337.3 87.5,337.6 88.0,337.6 88.5,337.7 89.0,337.5 89.5,338.0 90.0,336.7 90.5,337.8 91.0,337.6 91.5,337.3 92.0,337.9 92.5,336.5 93.0,337.9 93.5,337.6 94.0,337.0 94.5,337.6 95.0,337.3 95.5,338.5 96.0,338.2 96.5,337.6 97.0,337.1 97.5,337.2 98.0,337.3 98.5,337.2 99.0,337.1 99.5,337.2 100.0,337.3 100.5,337.2 101.0,337.1 101.5,337.0 102.0,338.4 102.5,336.8 103.0,337.0 103.5,337.6 104.0,337.3 104.5,337.6 105.0,337.7 105.5,337.9 106.0,337.7 106.5,337.0 107.0,337.9 107.5,336.7 108.0,337.4 108.5,337.2 109.0,337.0 109.5,337.6 110.0,337.3 110.5,337.8 111.0,336.8 111.5,337.7 112.0,337.6 112.5,337.4 113.0,336.8 113.5,337.3 114.0,336.8 114.5,336.6 115.0,338.7 115.5,337.8 116.0,338.1 116.5,337.2 117.0,337.7 117.5,337.7 118.0,337.6 118.5,337.4 119.0,337.3 119.5,336.6 120.0,337.6 120.5,337.6 121.0,337.8 121.5,337.3 122.0,338.1 122.5,337.2 123.0,336.9 123.5,337.8 124.0,337.2 124.5,336.9 125.0,337.4 125.5,337.7 126.0,337.5 126.5,337.6 127.0,339.0 127.5,337.7 128.0,338.0 128.5,336.6 129.0,337.5 129.5,337.7 130.0,337.2 130.5,337.0 131.0,337.5 131.5,337.2 132.0,337.1 132.5,337.8 133.0,337.9 133.5,337.5 134.0,337.2 134.5,337.6 135.0,337.7 135.5,337.6 136.0,336.8 136.5,337.2 137.0,337.5 137.5,337.6 138.0,337.7 138.5,337.7 139.0,336.9 139.5,337.1 140.0,336.9 140.5,338.1 141.0,337.4 141.5,337.6 142.0,337.8 142.5,337.2 143.0,336.9 143.5,337.2 144.0,337.3 144.5,338.0 145.0,337.7 145.5,336.9 146.0,337.6 146.5,337.6 147.0,336.9 147.5,337.3 148.0,336.6 148.5,337.5 149.0,337.2 149.5,336.8 150.0,337.1 150.5,337.4 151.0,337.1 151.5,337.5 152.0,337.6 152.5,337.0 153.0,337.2 153.5,338.2 154.0,337.4 154.5,337.0 155.0,337.4 155.5,336.8 156.0,337.8 156.5,337.5 157.0,337.8 157.5,337.7 158.0,337.5 158.5,337.7 159.0,337.4 159.5,337.1 160.0,336.9 160.5,337.2 161.0,336.3 161.5,338.1 162.0,336.6 162.5,337.3 163.0,336.8 163.5,336.5 164.0,337.3 164.5,337.2 165.0,337.3 165.5,337.5 166.0,337.1 166.5,337.5 167.0,337.5 167.5,337.2 168.0,337.2 168.5,337.5 169.0,337.3 169.5,337.4 170.0,336.4 170.5,337.3 171.0,337.5 171.5,337.3 172.0,337.4 172.5,338.1 173.0,337.3 173.5,337.6 174.0,337.0 174.5,337.0 175.0,337.1 175.5,336.9 176.0,337.3 176.5,336.9 177.0,337.2 177.5,336.7 178.0,336.6 178.5,337.0 179.0,336.9 179.5,337.0 180.0,337.1 180.5,337.2 181.0,337.7 181.5,337.8 182.0,337.6 182.5,337.2 183.0,337.9 183.5,336.7 184.0,336.5 184.5,337.4 185.0,337.3 185.5,337.2 186.0,337.3 186.5,336.6 187.0,336.8 187.5,337.8 188.0,337.7 188.5,337.0 189.0,338.1 189.5,336.9 190.0,337.1 190.5,337.4 191.0,336.8 191.5,337.1 192.0,337.2 192.5,337.1 193.0,337.6 193.5,337.5 194.0,336.8 194.5,337.0 195.0,337.4 195.5,337.3 196.0,337.0 196.5,337.4 197.0,337.6 197.5,337.0 198.0,337.6 198.5,336.6 199.0,336.6 199.5,337.5 200.0,336.9 200.5,336.9 201.0,337.2 201.5,337.0 202.0,337.4 202.5,336.7 203.0,337.1 203.5,338.5 204.0,337.3 204.5,336.5 205.0,337.5 205.5,337.5 206.0,337.8 206.5,337.3 207.0,337.0 207.5,337.8 208.0,337.5 208.5,336.5 209.0,337.6 209.5,337.2 210.0,337.7 210.5,337.1 211.0,337.6 211.5,337.3 212.0,337.5 212.5,337.2 213.0,337.1 213.5,337.3 214.0,337.5 214.5,337.4 215.0,337.9 215.5,337.4 216.0,337.5 216.5,338.1 217.0,337.3 217.5,337.5 218.0,337.0 218.5,337.3 219.0,337.9 219.5,337.4 220.0,337.8 220.5,336.8 221.0,336.7 221.5,337.4 222.0,336.7 222.5,338.3 223.0,337.7 223.5,336.7 224.0,337.2 224.5,337.0 225.0,337.4 225.5,337.2 226.0,337.6 226.5,337.8 227.0,337.1 227.5,336.8 228.0,337.5 228.5,337.2 229.0,337.7 229.5,337.2 230.0,337.6 230.5,337.4 231.0,337.2 231.5,337.0 232.0,337.5 232.5,338.2 233.0,337.6 233.5,337.2 234.0,337.5 234.5,337.3 235.0,336.7 235.5,337.3 236.0,337.8 236.5,337.1 237.0,336.8 237.5,337.4 238.0,337.9 238.5,337.6 239.0,337.6 239.5,338.1 240.0,337.9 240.5,337.5 241.0,337.1 241.5,337.3 242.0,337.2 242.5,337.6 243.0,336.9 243.5,337.8 244.0,337.3 244.5,337.0 245.0,337.5 245.5,336.4 246.0,336.9 246.5,336.9 247.0,337.5 247.5,337.0 248.0,337.8 248.5,337.0 249.0,337.4 249.5,336.9 250.0,337.7 250.5,336.9 251.0,336.9 251.5,336.3 252.0,335.8 252.5,335.9 253.0,336.2 253.5,335.1 254.0,334.7 254.5,335.0 255.0,335.2 255.5,334.2 256.0,334.2 256.5,334.2 257.0,333.8 257.5,333.8 258.0,333.9 258.5,333.2 259.0,332.9 259.5,333.0 260.0,332.5 260.5,332.3 261.0,332.4 261.5,332.6 262.0,333.9 262.5,333.3 263.0,333.7 263.5,334.0 264.0,333.5 264.5,334.3 265.0,333.9 265.5,333.5 266.0,334.4 266.5,334.2 267.0,334.7 267.5,335.1 268.0,335.9 268.5,334.9 269.0,335.0 269.5,335.3 270.0,335.2 270.5,335.1 271.0,334.8 271.5,334.9 272.0,335.2 272.5,334.9 273.0,335.1 273.5,334.9 274.0,335.9 274.5,334.9 275.0,336.3 275.5,335.3 276.0,335.1 276.5,335.1 277.0,335.9 277.5,336.0 278.0,335.3 278.5,335.8 279.0,335.6 279.5,335.6 280.0,335.8 280.5,336.1 281.0,335.0 281.5,334.9 282.0,335.9 282.5,335.8 283.0,336.2 283.5,335.2 284.0,335.6 284.5,336.6 285.0,335.5 285.5,336.2 286.0,335.7 286.5,335.9 287.0,335.5 287.5,336.6 288.0,335.4 288.5,335.7 289.0,335.8 289.5,336.7 290.0,336.4 290.5,334.0 291.0,331.2 291.5,328.8 292.0,326.4 292.5,324.4 293.0,322.3 293.5,320.2 294.0,319.6 294.5,317.5 295.0,315.4 295.5,314.1 296.0,312.1 296.5,311.7 297.0,309.0 297.5,306.7 298.0,306.5 298.5,305.0 299.0,304.7 299.5,303.2 300.0,301.3 300.5,300.7 301.0,299.4 301.5,298.4 302.0,297.3 302.5,295.7 303.0,295.5 303.5,293.9 304.0,293.4 304.5,293.9 305.0,294.3 305.5,293.2 306.0,294.1 306.5,292.5 307.0,293.4 307.5,292.9 308.0,293.0 308.5,292.6 309.0,292.6 309.5,292.7 310.0,292.6 310.5,292.8 311.0,293.5 311.5,293.0 312.0,294.7 312.5,295.6 313.0,296.7 313.5,299.8 314.0,300.2 314.5,302.0 315.0,303.8 315.5,305.6 316.0,306.9 316.5,308.8 317.0,309.1 317.5,309.6 318.0,311.5 318.5,312.6 319.0,313.4 319.5,314.7 320.0,315.7 320.5,317.8 321.0,317.9 321.5,317.9 322.0,318.0 322.5,316.6 323.0,316.9 323.5,316.3 324.0,315.2 324.5,314.7 325.0,314.1 325.5,314.4 326.0,312.7 326.5,310.8 327.0,309.5 327.5,308.8 328.0,307.5 328.5,306.0 329.0,305.2 329.5,303.8 330.0,303.0 330.5,301.5 331.0,300.1 331.5,299.7 332.0,299.4 332.5,300.4 333.0,300.4 333.5,300.2 334.0,300.6 334.5,300.6 335.0,302.0 335.5,301.0 336.0,301.6 336.5,301.7 337.0,301.5 337.5,302.0 338.0,302.1 338.5,302.5 339.0,302.7 339.5,303.1 340.0,303.2 340.5,302.9 341.0,303.0 341.5,303.2 342.0,303.2 342.5,303.1 343.0,304.2 343.5,304.1 344.0,304.2 344.5,303.8 345.0,304.0 345.5,303.7 346.0,304.9 346.5,305.8 347.0,306.9 347.5,307.8 348.0,308.5 348.5,310.1 349.0,311.2 349.5,312.6 350.0,313.7 350.5,314.5 351.0,315.7 351.5,316.3 352.0,315.9 352.5,315.2 353.0,314.1 353.5,314.3 354.0,314.5 354.5,313.9 355.0,313.8 355.5,312.9 356.0,312.7 356.5,312.4 357.0,311.4 357.5,310.3 358.0,309.7 358.5,308.8 359.0,307.9 359.5,305.8 360.0,305.3 360.5,305.5 361.0,305.5 361.5,305.1 362.0,306.4 362.5,305.5 363.0,306.0 363.5,304.4 364.0,304.6 364.5,304.1 365.0,303.2 365.5,303.2 366.0,303.3 366.5,301.9 367.0,302.5 367.5,304.1 368.0,304.1 368.5,304.3 369.0,304.5 369.5,305.9 370.0,306.2 370.5,307.3 371.0,306.9 371.5,307.4 372.0,307.4 372.5,307.4 373.0,307.9 373.5,307.8 374.0,307.2 374.5,307.5 375.0,307.4 375.5,309.2 376.0,310.1 376.5,311.1 377.0,312.7 377.5,314.1 378.0,315.9 378.5,317.3" fill="none" stroke="#00bfbf" stroke-width="1.9" stroke-linejoin="round"/>
<polyline points="43.0,339.5 43.5,339.7 44.0,339.1 44.5,339.8 45.0,339.3 45.5,338.8 46.0,339.2 46.5,339.8 47.0,339.6 47.5,339.0 48.0,339.8 48.5,339.5 49.0,339.7 49.5,339.6 50.0,339.0 50.5,339.7 51.0,339.2 51.5,340.2 52.0,339.8 52.5,339.5 53.0,339.0 53.5,339.5 54.0,339.6 54.5,338.9 55.0,340.5 55.5,339.7 56.0,340.2 56.5,339.0 57.0,340.2 57.5,338.9 58.0,339.2 58.5,339.7 59.0,339.5 59.5,338.4 60.0,339.0 60.5,339.9 61.0,340.4 61.5,339.9 62.0,339.4 62.5,339.8 63.0,339.0 63.5,339.7 64.0,338.9 64.5,339.5 65.0,339.4 65.5,339.8 66.0,339.3 66.5,340.0 67.0,339.4 67.5,339.9 68.0,339.8 68.5,338.6 69.0,339.5 69.5,339.5 70.0,339.1 70.5,339.6 71.0,338.8 71.5,339.7 72.0,339.7 72.5,339.6 73.0,340.6 73.5,339.6 74.0,339.5 74.5,339.1 75.0,339.6 75.5,339.0 76.0,340.0 76.5,339.2 77.0,339.5 77.5,340.4 78.0,340.0 78.5,339.6 79.0,340.1 79.5,339.4 80.0,339.8 80.5,339.5 81.0,339.1 81.5,339.7 82.0,339.9 82.5,339.3 83.0,339.0 83.5,339.2 84.0,338.4 84.5,339.2 85.0,339.0 85.5,340.4 86.0,339.2 86.5,338.8 87.0,339.9 87.5,339.4 88.0,339.5 88.5,339.5 89.0,339.6 89.5,339.3 90.0,339.9 90.5,339.7 91.0,339.2 91.5,339.4 92.0,339.0 92.5,339.6 93.0,339.8 93.5,339.7 94.0,339.7 94.5,339.4 95.0,340.2 95.5,339.4 96.0,339.5 96.5,339.3 97.0,339.5 97.5,339.3 98.0,340.4 98.5,339.6 99.0,338.7 99.5,339.3 100.0,338.8 100.5,339.8 101.0,340.1 101.5,339.2 102.0,339.7 102.5,339.3 103.0,339.6 103.5,340.2 104.0,339.3 104.5,338.9 105.0,339.8 105.5,339.7 106.0,339.7 106.5,339.9 107.0,339.1 107.5,338.6 108.0,339.9 108.5,339.3 109.0,338.9 109.5,338.9 110.0,339.9 110.5,339.5 111.0,339.6 111.5,339.8 112.0,339.1 112.5,338.9 113.0,339.1 113.5,338.9 114.0,339.3 114.5,339.0 115.0,339.4 115.5,339.2 116.0,339.4 116.5,339.7 117.0,340.1 117.5,340.1 118.0,339.5 118.5,339.5 119.0,339.2 119.5,339.9 120.0,340.1 120.5,339.2 121.0,339.8 121.5,339.3 122.0,339.3 122.5,339.5 123.0,339.2 123.5,339.8 124.0,338.8 124.5,339.1 125.0,339.4 125.5,339.0 126.0,339.6 126.5,338.7 127.0,339.4 127.5,338.8 128.0,339.4 128.5,339.6 129.0,340.4 129.5,339.9 130.0,340.1 130.5,339.4 131.0,340.4 131.5,339.3 132.0,339.3 132.5,338.8 133.0,339.5 133.5,339.9 134.0,339.1 134.5,339.2 135.0,339.2 135.5,339.3 136.0,339.1 136.5,338.8 137.0,340.0 137.5,338.5 138.0,339.0 138.5,339.6 139.0,339.9 139.5,339.3 140.0,339.3 140.5,339.4 141.0,339.3 141.5,339.8 142.0,339.2 142.5,339.0 143.0,339.2 143.5,339.4 144.0,340.0 144.5,340.1 145.0,339.2 145.5,338.7 146.0,338.8 146.5,340.4 147.0,339.2 147.5,339.6 148.0,340.3 148.5,339.1 149.0,339.3 149.5,339.1 150.0,338.9 150.5,339.8 151.0,339.9 151.5,338.6 152.0,339.8 152.5,339.3 153.0,339.5 153.5,339.5 154.0,338.8 154.5,339.3 155.0,338.9 155.5,340.3 156.0,340.4 156.5,339.4 157.0,338.9 157.5,339.9 158.0,339.3 158.5,340.2 159.0,340.3 159.5,340.1 160.0,339.2 160.5,338.9 161.0,339.1 161.5,339.3 162.0,339.0 162.5,339.9 163.0,339.7 163.5,339.4 164.0,339.2 164.5,339.7 165.0,340.0 165.5,338.5 166.0,339.5 166.5,339.2 167.0,339.0 167.5,339.2 168.0,339.4 168.5,340.2 169.0,339.4 169.5,339.2 170.0,338.8 170.5,339.7 171.0,339.0 171.5,339.3 172.0,339.7 172.5,339.4 173.0,339.2 173.5,339.3 174.0,339.8 174.5,339.4 175.0,339.5 175.5,339.6 176.0,339.2 176.5,339.5 177.0,339.2 177.5,339.9 178.0,339.6 178.5,338.6 179.0,339.3 179.5,339.9 180.0,339.3 180.5,339.2 181.0,339.8 181.5,338.9 182.0,339.4 182.5,339.6 183.0,339.8 183.5,338.9 184.0,338.8 184.5,340.0 185.0,339.0 185.5,339.3 186.0,340.5 186.5,339.2 187.0,338.4 187.5,340.6 188.0,339.8 188.5,339.5 189.0,340.6 189.5,339.3 190.0,340.0 190.5,339.4 191.0,339.2 191.5,339.6 192.0,339.8 192.5,339.9 193.0,339.9 193.5,339.1 194.0,339.3 194.5,340.2 195.0,339.6 195.5,339.4 196.0,340.0 196.5,340.0 197.0,339.9 197.5,339.1 198.0,339.2 198.5,339.7 199.0,339.9 199.5,338.8 200.0,339.1 200.5,339.2 201.0,339.8 201.5,338.9 202.0,340.6 202.5,339.4 203.0,339.6 203.5,340.4 204.0,339.6 204.5,339.7 205.0,339.3 205.5,339.6 206.0,338.9 206.5,339.3 207.0,339.4 207.5,338.9 208.0,339.8 208.5,339.6 209.0,338.5 209.5,339.7 210.0,338.9 210.5,339.6 211.0,339.0 211.5,339.2 212.0,339.5 212.5,340.2 213.0,338.7 213.5,339.2 214.0,339.2 214.5,339.8 215.0,339.2 215.5,339.5 216.0,339.9 216.5,339.7 217.0,339.2 217.5,339.1 218.0,339.2 218.5,339.4 219.0,339.0 219.5,339.3 220.0,339.6 220.5,339.1 221.0,339.1 221.5,339.5 222.0,339.7 222.5,338.7 223.0,338.9 223.5,339.9 224.0,339.3 224.5,338.8 225.0,339.4 225.5,340.0 226.0,339.1 226.5,338.9 227.0,339.2 227.5,340.0 228.0,339.0 228.5,339.6 229.0,339.8 229.5,339.6 230.0,339.2 230.5,339.6 231.0,339.4 231.5,339.7 232.0,339.5 232.5,339.4 233.0,338.5 233.5,339.6 234.0,339.3 234.5,338.4 235.0,339.3 235.5,339.5 236.0,339.3 236.5,338.2 237.0,339.0 237.5,338.9 238.0,339.2 238.5,338.3 239.0,339.4 239.5,339.6 240.0,339.6 240.5,339.3 241.0,339.3 241.5,339.8 242.0,339.5 242.5,339.1 243.0,339.4 243.5,339.6 244.0,339.9 244.5,339.5 245.0,339.0 245.5,339.1 246.0,339.4 246.5,339.4 247.0,339.8 247.5,338.5 248.0,339.0 248.5,338.8 249.0,339.8 249.5,339.7 250.0,339.5 250.5,339.7 251.0,339.1 251.5,339.5 252.0,339.3 252.5,339.4 253.0,339.3 253.5,339.7 254.0,339.8 254.5,338.7 255.0,339.1 255.5,339.0 256.0,338.9 256.5,337.6 257.0,337.6 257.5,337.5 258.0,338.1 258.5,336.6 259.0,336.5 259.5,336.3 260.0,336.0 260.5,336.4 261.0,336.6 261.5,336.8 262.0,337.3 262.5,337.6 263.0,338.0 263.5,338.3 264.0,337.9 264.5,338.8 265.0,339.1 265.5,339.3 266.0,339.3 266.5,339.7 267.0,338.6 267.5,338.9 268.0,339.0 268.5,338.7 269.0,338.8 269.5,338.8 270.0,338.7 270.5,339.9 271.0,338.9 271.5,339.5 272.0,338.5 272.5,339.0 273.0,338.6 273.5,339.0 274.0,339.6 274.5,339.7 275.0,339.2 275.5,339.0 276.0,338.8 276.5,339.0 277.0,339.4 277.5,338.0 278.0,338.6 278.5,338.3 279.0,339.2 279.5,338.2 280.0,339.1 280.5,338.2 281.0,338.2 281.5,339.4 282.0,339.1 282.5,338.3 283.0,337.9 283.5,338.2 284.0,338.9 284.5,338.6 285.0,338.2 285.5,338.8 286.0,339.2 286.5,338.1 287.0,338.5 287.5,338.2 288.0,339.0 288.5,338.6 289.0,338.2 289.5,337.8 290.0,338.8 290.5,336.8 291.0,335.3 291.5,333.6 292.0,332.2 292.5,329.2 293.0,327.6 293.5,326.2 294.0,324.7 294.5,321.7 295.0,319.2 295.5,316.6 296.0,314.3 296.5,312.2 297.0,309.7 297.5,308.0 298.0,305.8 298.5,304.6 299.0,301.6 299.5,300.1 300.0,297.3 300.5,296.4 301.0,295.5 301.5,292.7 302.0,290.9 302.5,290.4 303.0,288.4 303.5,286.7 304.0,285.5 304.5,283.9 305.0,285.2 305.5,285.7 306.0,286.2 306.5,286.8 307.0,287.4 307.5,288.6 308.0,290.4 308.5,290.2 309.0,290.5 309.5,289.4 310.0,287.5 310.5,286.3 311.0,284.3 311.5,283.1 312.0,280.5 312.5,278.8 313.0,278.4 313.5,279.7 314.0,281.6 314.5,283.3 315.0,286.2 315.5,287.7 316.0,284.9 316.5,281.6 317.0,279.1 317.5,276.1 318.0,277.9 318.5,279.7 319.0,281.0 319.5,282.6 320.0,285.0 320.5,285.8 321.0,288.6 321.5,289.2 322.0,287.3 322.5,288.0 323.0,286.3 323.5,286.7 324.0,285.3 324.5,285.3 325.0,283.9 325.5,284.0 326.0,281.6 326.5,280.0 327.0,277.4 327.5,274.4 328.0,272.7 328.5,270.0 329.0,268.1 329.5,266.5 330.0,264.2 330.5,261.3 331.0,263.7 331.5,266.9 332.0,270.6 332.5,272.5 333.0,269.9 333.5,267.9 334.0,266.0 334.5,265.0 335.0,262.4 335.5,263.5 336.0,265.3 336.5,266.9 337.0,267.8 337.5,268.8 338.0,270.6 338.5,272.2 339.0,271.7 339.5,271.6 340.0,273.0 340.5,272.1 341.0,271.9 341.5,271.0 342.0,271.0 342.5,271.1 343.0,273.2 343.5,274.0 344.0,274.5 344.5,277.3 345.0,278.6 345.5,279.7 346.0,280.1 346.5,281.6 347.0,282.9 347.5,284.2 348.0,286.1 348.5,285.9 349.0,287.3 349.5,288.8 350.0,287.5 350.5,286.5 351.0,285.1 351.5,284.8 352.0,283.6 352.5,284.8 353.0,286.2 353.5,286.6 354.0,287.7 354.5,288.9 355.0,287.1 355.5,285.8 356.0,283.5 356.5,282.4 357.0,281.5 357.5,282.8 358.0,284.5 358.5,284.9 359.0,285.1 359.5,283.5 360.0,281.6 360.5,279.7 361.0,278.6 361.5,276.0 362.0,274.2 362.5,272.7 363.0,271.1 363.5,269.4 364.0,268.6 364.5,266.5 365.0,266.6 365.5,266.7 366.0,268.0 366.5,267.6 367.0,268.5 367.5,268.5 368.0,269.1 368.5,267.8 369.0,266.1 369.5,266.4 370.0,265.0 370.5,264.7 371.0,264.7 371.5,263.2 372.0,263.3 372.5,262.5 373.0,261.4 373.5,259.1 374.0,258.4 374.5,256.5 375.0,255.7 375.5,253.8 376.0,255.6 376.5,257.4 377.0,258.8 377.5,259.9 378.0,261.7 378.5,263.0" fill="none" stroke="#0000ff" stroke-width="1.8" stroke-linejoin="round"/>
<polyline points="43.0,261.7 43.5,262.2 44.0,266.3 44.5,265.5 45.0,267.2 45.5,270.0 46.0,270.0 46.5,273.8 47.0,279.1 47.5,283.5 48.0,286.8 48.5,291.0 49.0,293.0 49.5,294.6 50.0,292.0 50.5,291.6 51.0,292.0 51.5,291.4 52.0,287.5 52.5,289.1 53.0,288.0 53.5,289.3 54.0,291.3 54.5,294.4 55.0,298.9 55.5,302.0 56.0,304.3 56.5,306.3 57.0,308.6 57.5,310.4 58.0,312.9 58.5,313.2 59.0,315.0 59.5,315.8 60.0,316.5 60.5,317.4 61.0,317.9 61.5,319.4 62.0,318.1 62.5,318.9 63.0,316.2 63.5,315.0 64.0,314.6 64.5,314.4 65.0,314.1 65.5,315.1 66.0,315.3 66.5,315.6 67.0,316.2 67.5,317.9 68.0,320.3 68.5,319.7 69.0,318.2 69.5,318.3 70.0,317.6 70.5,317.9 71.0,315.3 71.5,315.8 72.0,313.0 72.5,311.5 73.0,310.1 73.5,310.6 74.0,308.8 74.5,307.6 75.0,308.3 75.5,307.5 76.0,308.4 76.5,307.2 77.0,304.7 77.5,307.9 78.0,305.4 78.5,308.4 79.0,308.6 79.5,306.4 80.0,305.6 80.5,305.3 81.0,307.2 81.5,306.0 82.0,305.5 82.5,305.7 83.0,307.7 83.5,306.2 84.0,306.9 84.5,307.5 85.0,308.5 85.5,309.4 86.0,308.7 86.5,309.9 87.0,310.2 87.5,311.0 88.0,313.4 88.5,312.5 89.0,313.6 89.5,313.7 90.0,314.5 90.5,316.5 91.0,316.1 91.5,316.8 92.0,318.4 92.5,319.1 93.0,320.0 93.5,319.9 94.0,318.2 94.5,319.9 95.0,319.2 95.5,319.0 96.0,316.6 96.5,319.0 97.0,315.0 97.5,316.1 98.0,315.0 98.5,313.9 99.0,314.6 99.5,313.0 100.0,310.6 100.5,311.1 101.0,312.0 101.5,313.1 102.0,309.2 102.5,310.1 103.0,311.0 103.5,310.0 104.0,308.8 104.5,307.6 105.0,307.0 105.5,307.6 106.0,307.5 106.5,305.2 107.0,305.1 107.5,306.2 108.0,304.9 108.5,303.9 109.0,303.5 109.5,302.7 110.0,304.4 110.5,305.9 111.0,307.6 111.5,308.0 112.0,309.6 112.5,311.6 113.0,313.2 113.5,313.9 114.0,314.0 114.5,312.2 115.0,310.9 115.5,312.6 116.0,311.2 116.5,310.6 117.0,309.3 117.5,308.4 118.0,310.4 118.5,309.2 119.0,307.5 119.5,308.6 120.0,308.3 120.5,308.2 121.0,309.5 121.5,307.1 122.0,305.5 122.5,306.0 123.0,304.5 123.5,304.6 124.0,303.4 124.5,302.7 125.0,301.4 125.5,302.4 126.0,302.0 126.5,303.6 127.0,303.5 127.5,303.4 128.0,305.8 128.5,305.8 129.0,309.0 129.5,309.4 130.0,310.8 130.5,311.8 131.0,312.9 131.5,312.2 132.0,316.8 132.5,316.3 133.0,319.2 133.5,319.0 134.0,320.6 134.5,321.4 135.0,321.4 135.5,322.7 136.0,323.6 136.5,322.6 137.0,321.1 137.5,320.8 138.0,320.4 138.5,320.1 139.0,318.6 139.5,316.7 140.0,314.1 140.5,314.3 141.0,312.0 141.5,310.3 142.0,309.8 142.5,308.1 143.0,306.5 143.5,303.8 144.0,303.4 144.5,301.9 145.0,303.3 145.5,302.8 146.0,303.4 146.5,302.5 147.0,301.9 147.5,304.1 148.0,301.4 148.5,301.3 149.0,302.1 149.5,303.4 150.0,303.2 150.5,304.1 151.0,304.7 151.5,308.3 152.0,307.8 152.5,308.7 153.0,310.9 153.5,311.7 154.0,313.6 154.5,316.4 155.0,316.1 155.5,317.8 156.0,318.7 156.5,319.7 157.0,321.1 157.5,321.0 158.0,320.0 158.5,318.8 159.0,318.5 159.5,318.2 160.0,316.3 160.5,315.1 161.0,312.6 161.5,314.2 162.0,311.2 162.5,310.6 163.0,310.7 163.5,310.3 164.0,309.6 164.5,308.1 165.0,307.8 165.5,306.9 166.0,305.4 166.5,306.7 167.0,306.7 167.5,308.2 168.0,308.3 168.5,310.0 169.0,310.4 169.5,311.2 170.0,312.1 170.5,312.3 171.0,312.2 171.5,314.2 172.0,312.8 172.5,314.2 173.0,315.7 173.5,315.3 174.0,316.8 174.5,316.1 175.0,316.9 175.5,318.5 176.0,319.1 176.5,320.1 177.0,319.4 177.5,320.3 178.0,321.1 178.5,321.4 179.0,320.3 179.5,321.4 180.0,323.3 180.5,320.6 181.0,321.7 181.5,320.1 182.0,320.7 182.5,318.4 183.0,318.4 183.5,315.9 184.0,317.0 184.5,317.4 185.0,314.4 185.5,316.3 186.0,313.9 186.5,313.9 187.0,310.9 187.5,313.7 188.0,311.4 188.5,311.4 189.0,310.7 189.5,311.3 190.0,313.7 190.5,312.7 191.0,314.6 191.5,314.2 192.0,315.2 192.5,315.0 193.0,316.3 193.5,318.8 194.0,317.5 194.5,317.8 195.0,317.4 195.5,319.2 196.0,320.0 196.5,317.7 197.0,318.4 197.5,322.0 198.0,320.9 198.5,320.7 199.0,320.9 199.5,320.7 200.0,319.5 200.5,317.6 201.0,318.7 201.5,315.9 202.0,314.1 202.5,313.4 203.0,312.8 203.5,311.6 204.0,310.9 204.5,310.4 205.0,306.3 205.5,307.6 206.0,308.3 206.5,307.0 207.0,305.0 207.5,304.2 208.0,305.0 208.5,303.3 209.0,303.2 209.5,306.0 210.0,305.1 210.5,307.2 211.0,307.7 211.5,308.9 212.0,309.0 212.5,310.1 213.0,312.9 213.5,311.6 214.0,313.8 214.5,313.3 215.0,315.1 215.5,316.1 216.0,315.5 216.5,318.6 217.0,317.9 217.5,319.6 218.0,318.1 218.5,320.1 219.0,321.8 219.5,320.3 220.0,319.9 220.5,321.3 221.0,321.4 221.5,321.5 222.0,321.9 222.5,321.6 223.0,322.3 223.5,321.2 224.0,320.2 224.5,321.2 225.0,319.9 225.5,321.9 226.0,318.8 226.5,318.0 227.0,318.1 227.5,319.3 228.0,319.0 228.5,319.3 229.0,322.8 229.5,321.0 230.0,324.3 230.5,323.8 231.0,323.1 231.5,325.3 232.0,322.8 232.5,321.0 233.0,320.7 233.5,320.5 234.0,318.7 234.5,317.6 235.0,317.2 235.5,314.7 236.0,313.9 236.5,313.0 237.0,312.0 237.5,313.6 238.0,315.6 238.5,313.1 239.0,316.3 239.5,315.8 240.0,315.2 240.5,316.5 241.0,318.3 241.5,316.1 242.0,317.1 242.5,317.1 243.0,315.0 243.5,316.0 244.0,315.6 244.5,314.4 245.0,315.1 245.5,313.9 246.0,313.5 246.5,312.9 247.0,314.4 247.5,313.9 248.0,313.9 248.5,313.6 249.0,313.6 249.5,314.3 250.0,315.9 250.5,314.7 251.0,317.0 251.5,316.2 252.0,316.3 252.5,315.4 253.0,318.9 253.5,316.6 254.0,319.1 254.5,321.0 255.0,320.1 255.5,320.4 256.0,321.8 256.5,323.5 257.0,324.7 257.5,324.8 258.0,324.0 258.5,324.9 259.0,325.7 259.5,324.1 260.0,324.5 260.5,326.2 261.0,322.6 261.5,324.0 262.0,321.5 262.5,321.4 263.0,321.1 263.5,319.2 264.0,319.9 264.5,320.7 265.0,320.1 265.5,320.6 266.0,320.0 266.5,321.6 267.0,322.9 267.5,324.4 268.0,326.0 268.5,324.9 269.0,328.3 269.5,327.3 270.0,327.7 270.5,326.6 271.0,326.9 271.5,325.8 272.0,324.0 272.5,324.0 273.0,323.5 273.5,322.1 274.0,322.3 274.5,319.7 275.0,320.6 275.5,318.8 276.0,318.7 276.5,316.6 277.0,318.6 277.5,318.9 278.0,320.4 278.5,319.1 279.0,322.0 279.5,320.4 280.0,323.2 280.5,323.1 281.0,322.5 281.5,325.8 282.0,323.2 282.5,324.4 283.0,324.6 283.5,324.5 284.0,323.7 284.5,323.7 285.0,322.9 285.5,322.0 286.0,320.7 286.5,320.7 287.0,321.3 287.5,319.0 288.0,319.7 288.5,317.9 289.0,319.9 289.5,320.5 290.0,325.0 290.5,324.3 291.0,327.8 291.5,330.6 292.0,332.4 292.5,333.9 293.0,335.0 293.5,335.2 294.0,336.0 294.5,335.0 295.0,335.2 295.5,333.0 296.0,335.9 296.5,337.6 297.0,334.6 297.5,334.0 298.0,335.8 298.5,337.2 299.0,337.3 299.5,333.4 300.0,336.2 300.5,334.5 301.0,335.8 301.5,332.2 302.0,336.7 302.5,334.8 303.0,335.6 303.5,335.1 304.0,333.8 304.5,336.0 305.0,334.6 305.5,334.2 306.0,336.1 306.5,335.1 307.0,334.1 307.5,336.5 308.0,334.2 308.5,335.0 309.0,336.1 309.5,336.4 310.0,336.7 310.5,337.3 311.0,334.9 311.5,333.7 312.0,337.1 312.5,336.7 313.0,334.2 313.5,335.6 314.0,334.0 314.5,332.2 315.0,335.9 315.5,334.8 316.0,334.4 316.5,336.6 317.0,336.2 317.5,333.1 318.0,332.3 318.5,331.0 319.0,333.5 319.5,332.6 320.0,333.4 320.5,332.6 321.0,331.4 321.5,331.5 322.0,329.6 322.5,333.5 323.0,331.1 323.5,333.0 324.0,331.6 324.5,332.9 325.0,334.1 325.5,333.1 326.0,332.7 326.5,337.5 327.0,334.1 327.5,335.4 328.0,334.5 328.5,333.6 329.0,336.7 329.5,335.4 330.0,335.4 330.5,331.7 331.0,335.5 331.5,336.3 332.0,335.6 332.5,335.0 333.0,337.0 333.5,335.8 334.0,336.3 334.5,337.0 335.0,337.0 335.5,333.8 336.0,336.2 336.5,334.7 337.0,333.0 337.5,336.4 338.0,333.5 338.5,335.4 339.0,332.5 339.5,334.7 340.0,335.6 340.5,336.2 341.0,335.4 341.5,334.8 342.0,334.8 342.5,338.3 343.0,335.4 343.5,335.9 344.0,338.7 344.5,333.4 345.0,332.9 345.5,334.4 346.0,335.2 346.5,334.1 347.0,335.6 347.5,335.5 348.0,333.4 348.5,335.8 349.0,333.5 349.5,336.5 350.0,335.7 350.5,338.5 351.0,336.5 351.5,335.0 352.0,335.7 352.5,335.4 353.0,334.1 353.5,333.0 354.0,336.7 354.5,337.2 355.0,334.4 355.5,334.7 356.0,334.4 356.5,336.6 357.0,337.0 357.5,334.1 358.0,334.9 358.5,334.7 359.0,335.8 359.5,336.7 360.0,337.2 360.5,335.3 361.0,334.4 361.5,336.6 362.0,336.8 362.5,335.5 363.0,336.3 363.5,336.6 364.0,337.4 364.5,336.3 365.0,337.0 365.5,336.6 366.0,334.9 366.5,337.4 367.0,336.5 367.5,337.9 368.0,334.7 368.5,335.4 369.0,336.9 369.5,334.0 370.0,336.3 370.5,335.8 371.0,335.9 371.5,336.2 372.0,333.3 372.5,336.6 373.0,336.7 373.5,338.1 374.0,338.7 374.5,337.1 375.0,338.0 375.5,333.2 376.0,337.5 376.5,338.3 377.0,338.0 377.5,337.1 378.0,336.2 378.5,336.2 379.0,336.8 379.5,337.4" fill="none" stroke="#008000" stroke-width="1.9" stroke-linejoin="round"/>
<polyline points="43.0,210.3 43.5,208.9 44.0,208.4 44.5,206.4 45.0,207.6 45.5,207.3 46.0,207.4 46.5,206.7 47.0,207.0 47.5,206.4 48.0,205.5 48.5,207.3 49.0,207.1 49.5,207.7 50.0,206.0 50.5,205.4 51.0,205.3 51.5,204.6 52.0,207.3 52.5,205.9 53.0,206.4 53.5,207.7 54.0,209.7 54.5,208.9 55.0,208.2 55.5,208.8 56.0,210.1 56.5,209.3 57.0,208.5 57.5,208.5 58.0,208.8 58.5,209.4 59.0,205.9 59.5,206.0 60.0,205.3 60.5,203.4 61.0,204.4 61.5,203.9 62.0,205.4 62.5,203.9 63.0,202.1 63.5,203.8 64.0,202.5 64.5,200.9 65.0,201.9 65.5,202.3 66.0,202.5 66.5,204.0 67.0,202.6 67.5,205.2 68.0,207.2 68.5,208.2 69.0,209.7 69.5,211.1 70.0,212.8 70.5,211.8 71.0,214.9 71.5,213.8 72.0,216.3 72.5,216.5 73.0,220.5 73.5,222.0 74.0,221.5 74.5,223.5 75.0,220.9 75.5,220.9 76.0,220.0 76.5,217.9 77.0,218.1 77.5,218.1 78.0,214.0 78.5,214.2 79.0,211.7 79.5,211.8 80.0,209.0 80.5,207.3 81.0,205.3 81.5,203.0 82.0,199.5 82.5,200.0 83.0,195.6 83.5,195.3 84.0,194.3 84.5,192.0 85.0,192.1 85.5,192.4 86.0,190.6 86.5,189.3 87.0,187.3 87.5,189.3 88.0,190.3 88.5,191.2 89.0,191.6 89.5,193.6 90.0,193.6 90.5,194.9 91.0,196.6 91.5,196.2 92.0,197.6 92.5,200.8 93.0,200.6 93.5,199.7 94.0,201.7 94.5,203.1 95.0,204.2 95.5,203.3 96.0,202.4 96.5,201.7 97.0,202.5 97.5,201.7 98.0,200.4 98.5,200.0 99.0,199.0 99.5,199.2 100.0,197.2 100.5,197.4 101.0,196.9 101.5,195.8 102.0,193.9 102.5,195.3 103.0,193.2 103.5,194.0 104.0,192.9 104.5,191.9 105.0,193.7 105.5,193.6 106.0,193.3 106.5,193.5 107.0,192.6 107.5,192.5 108.0,193.0 108.5,195.0 109.0,194.4 109.5,193.9 110.0,195.7 110.5,195.8 111.0,197.0 111.5,199.8 112.0,200.3 112.5,201.2 113.0,203.9 113.5,206.8 114.0,209.2 114.5,212.7 115.0,213.6 115.5,217.6 116.0,220.0 116.5,222.2 117.0,225.7 117.5,228.1 118.0,229.6 118.5,234.0 119.0,234.6 119.5,238.4 120.0,240.9 120.5,243.9 121.0,245.4 121.5,248.6 122.0,251.0 122.5,254.6 123.0,255.4 123.5,258.3 124.0,259.6 124.5,259.8 125.0,264.2 125.5,262.4 126.0,261.8 126.5,265.2 127.0,263.6 127.5,265.6 128.0,266.7 128.5,265.9 129.0,266.5 129.5,266.9 130.0,267.7 130.5,266.9 131.0,267.7 131.5,269.1 132.0,270.6 132.5,270.7 133.0,272.2 133.5,271.7 134.0,271.1 134.5,271.8 135.0,270.3 135.5,271.1 136.0,270.7 136.5,271.4 137.0,271.3 137.5,269.7 138.0,269.3 138.5,268.0 139.0,268.8 139.5,268.7 140.0,268.4 140.5,267.0 141.0,269.1 141.5,268.0 142.0,266.5 142.5,265.8 143.0,265.6 143.5,265.7 144.0,265.2 144.5,265.4 145.0,265.6 145.5,266.4 146.0,266.7 146.5,266.1 147.0,267.1 147.5,267.0 148.0,267.3 148.5,270.2 149.0,268.6 149.5,271.5 150.0,270.0 150.5,271.3 151.0,272.7 151.5,272.4 152.0,273.3 152.5,273.1 153.0,272.9 153.5,273.0 154.0,272.2 154.5,273.9 155.0,272.0 155.5,273.4 156.0,269.2 156.5,271.5 157.0,271.9 157.5,271.1 158.0,272.4 158.5,272.1 159.0,271.6 159.5,272.9 160.0,275.8 160.5,274.3 161.0,275.1 161.5,275.2 162.0,276.5 162.5,276.0 163.0,277.7 163.5,280.8 164.0,280.2 164.5,280.4 165.0,281.4 165.5,282.7 166.0,282.2 166.5,284.1 167.0,283.8 167.5,283.6 168.0,285.7 168.5,282.7 169.0,285.1 169.5,286.8 170.0,286.8 170.5,288.5 171.0,289.1 171.5,290.2 172.0,294.3 172.5,293.4 173.0,293.9 173.5,296.1 174.0,295.6 174.5,297.4 175.0,297.6 175.5,299.5 176.0,297.4 176.5,300.0 177.0,300.1 177.5,299.6 178.0,302.3 178.5,301.2 179.0,304.1 179.5,303.6 180.0,303.9 180.5,302.9 181.0,302.8 181.5,299.3 182.0,300.1 182.5,298.4 183.0,298.3 183.5,297.0 184.0,296.6 184.5,294.4 185.0,295.8 185.5,295.3 186.0,292.1 186.5,291.4 187.0,290.9 187.5,291.3 188.0,291.9 188.5,289.4 189.0,290.4 189.5,290.5 190.0,291.0 190.5,291.0 191.0,293.3 191.5,292.5 192.0,295.4 192.5,295.3 193.0,294.1 193.5,294.6 194.0,295.4 194.5,297.8 195.0,296.2 195.5,296.2 196.0,298.0 196.5,298.8 197.0,298.3 197.5,300.6 198.0,299.4 198.5,299.4 199.0,298.0 199.5,298.4 200.0,298.1 200.5,295.9 201.0,297.9 201.5,295.8 202.0,297.1 202.5,295.6 203.0,298.5 203.5,297.0 204.0,297.9 204.5,298.7 205.0,297.7 205.5,297.8 206.0,300.6 206.5,302.8 207.0,303.1 207.5,304.8 208.0,306.0 208.5,304.9 209.0,307.6 209.5,310.1 210.0,308.5 210.5,307.5 211.0,309.2 211.5,308.9 212.0,309.7 212.5,308.4 213.0,309.3 213.5,307.2 214.0,309.9 214.5,310.5 215.0,310.2 215.5,307.6 216.0,309.2 216.5,306.2 217.0,309.1 217.5,309.0 218.0,308.6 218.5,310.4 219.0,310.9 219.5,312.3 220.0,312.2 220.5,313.0 221.0,311.7 221.5,313.0 222.0,314.3 222.5,315.7 223.0,316.1 223.5,318.1 224.0,316.6 224.5,317.7 225.0,318.4 225.5,317.8 226.0,318.0 226.5,316.5 227.0,317.7 227.5,315.5 228.0,316.2 228.5,314.6 229.0,315.5 229.5,312.5 230.0,313.9 230.5,312.7 231.0,313.1 231.5,313.6 232.0,311.2 232.5,310.8 233.0,310.8 233.5,311.8 234.0,310.0 234.5,312.0 235.0,311.1 235.5,311.7 236.0,312.8 236.5,313.9 237.0,313.4 237.5,313.9 238.0,314.8 238.5,315.0 239.0,313.2 239.5,315.7 240.0,316.5 240.5,317.8 241.0,318.9 241.5,317.7 242.0,317.0 242.5,315.7 243.0,316.3 243.5,316.5 244.0,316.6 244.5,314.3 245.0,314.9 245.5,315.1 246.0,315.8 246.5,314.1 247.0,313.2 247.5,313.0 248.0,313.1 248.5,312.7 249.0,313.9 249.5,314.0 250.0,313.5 250.5,313.9 251.0,312.7 251.5,314.2 252.0,314.8 252.5,316.9 253.0,319.6 253.5,320.2 254.0,320.1 254.5,323.0 255.0,324.0 255.5,324.6 256.0,326.6 256.5,329.5 257.0,331.2 257.5,329.9 258.0,331.2 258.5,330.8 259.0,328.0 259.5,328.2 260.0,327.5 260.5,326.9 261.0,324.7 261.5,325.3 262.0,326.1 262.5,325.8 263.0,325.9 263.5,323.5 264.0,325.1 264.5,323.6 265.0,321.6 265.5,323.5 266.0,322.7 266.5,323.7 267.0,323.4 267.5,324.8 268.0,324.2 268.5,324.0 269.0,325.4 269.5,325.0 270.0,324.6 270.5,326.4 271.0,325.1 271.5,325.2 272.0,325.5 272.5,324.7 273.0,325.4 273.5,327.4 274.0,324.7 274.5,325.3 275.0,324.0 275.5,324.2 276.0,325.9 276.5,325.1 277.0,323.5 277.5,323.8 278.0,322.8 278.5,322.5 279.0,322.2 279.5,322.0 280.0,323.0 280.5,323.2 281.0,323.2 281.5,322.8 282.0,321.8 282.5,323.2 283.0,322.5 283.5,324.3 284.0,324.1 284.5,324.5 285.0,323.6 285.5,322.4 286.0,325.1 286.5,325.5 287.0,323.2 287.5,324.8 288.0,326.0 288.5,324.5 289.0,328.1 289.5,327.8 290.0,329.2 290.5,333.8 291.0,335.1 291.5,336.0 292.0,338.3 292.5,336.1 293.0,339.6 293.5,337.4 294.0,338.5 294.5,338.0 295.0,338.8 295.5,339.3 296.0,337.8 296.5,339.2 297.0,338.2 297.5,337.9 298.0,338.3 298.5,337.6 299.0,337.8 299.5,339.4 300.0,338.4 300.5,339.5 301.0,338.9 301.5,337.6 302.0,336.8 302.5,337.9 303.0,338.8 303.5,338.5 304.0,337.8 304.5,339.4 305.0,337.0 305.5,337.4 306.0,338.6 306.5,340.5 307.0,338.9 307.5,337.6 308.0,339.1 308.5,339.2 309.0,339.4 309.5,338.2 310.0,337.8 310.5,338.7 311.0,338.9 311.5,340.0 312.0,340.4 312.5,337.9 313.0,338.1 313.5,338.5 314.0,338.3 314.5,339.0 315.0,339.0 315.5,338.8 316.0,339.8 316.5,338.4 317.0,337.6 317.5,337.2 318.0,337.6 318.5,337.6 319.0,336.9 319.5,339.2 320.0,338.7 320.5,338.2 321.0,337.8 321.5,337.2 322.0,337.8 322.5,340.2 323.0,336.6 323.5,338.7 324.0,339.3 324.5,338.7 325.0,338.3 325.5,339.3 326.0,337.6 326.5,339.1 327.0,339.9 327.5,337.7 328.0,337.9 328.5,338.7 329.0,339.5 329.5,339.8 330.0,339.2 330.5,338.0 331.0,337.6 331.5,338.8 332.0,339.0 332.5,337.6 333.0,338.7 333.5,338.9 334.0,339.6 334.5,337.7 335.0,339.1 335.5,337.6 336.0,338.2 336.5,338.6 337.0,340.0 337.5,341.6 338.0,338.9 338.5,339.1 339.0,339.5 339.5,337.4 340.0,339.3 340.5,337.5 341.0,340.1 341.5,339.9 342.0,339.1 342.5,337.9 343.0,340.1 343.5,338.9 344.0,338.7 344.5,339.2 345.0,337.1 345.5,339.0 346.0,339.5 346.5,339.0 347.0,338.8 347.5,337.8 348.0,339.2 348.5,338.8 349.0,338.7 349.5,338.2 350.0,339.4 350.5,339.8 351.0,339.0 351.5,339.5 352.0,339.9 352.5,340.1 353.0,338.9 353.5,338.5 354.0,338.3 354.5,338.7 355.0,339.2 355.5,339.5 356.0,338.3 356.5,338.8 357.0,337.8 357.5,339.8 358.0,338.3 358.5,339.0 359.0,338.0 359.5,338.4 360.0,338.1 360.5,340.2 361.0,339.0 361.5,338.5 362.0,337.8 362.5,338.2 363.0,339.2 363.5,340.2 364.0,337.4 364.5,337.9 365.0,338.5 365.5,338.1 366.0,337.2 366.5,338.7 367.0,339.4 367.5,337.3 368.0,338.9 368.5,339.6 369.0,339.6 369.5,338.3 370.0,340.8 370.5,339.2 371.0,338.0 371.5,339.6 372.0,337.7 372.5,339.5 373.0,337.6 373.5,339.4 374.0,338.2 374.5,339.8 375.0,339.4 375.5,339.1 376.0,338.8 376.5,339.7 377.0,337.1 377.5,339.1 378.0,339.1 378.5,339.3 379.0,339.5 379.5,342.1" fill="none" stroke="#bf00bf" stroke-width="1.8" stroke-linejoin="round"/>
</g>
<rect x="42.5" y="181.25" width="337.0" height="168.25" fill="none" stroke="#333" stroke-width="0.8"/>
<line x1="43.00" y1="349.5" x2="43.00" y2="351.7" stroke="#333" stroke-width="0.7"/>
<text x="43.00" y="362.6" class="tr" font-size="12" text-anchor="middle">0</text>
<line x1="99.12" y1="349.5" x2="99.12" y2="351.7" stroke="#333" stroke-width="0.7"/>
<text x="99.12" y="362.6" class="tr" font-size="12" text-anchor="middle">500</text>
<line x1="155.25" y1="349.5" x2="155.25" y2="351.7" stroke="#333" stroke-width="0.7"/>
<text x="155.25" y="362.6" class="tr" font-size="12" text-anchor="middle">1000</text>
<line x1="211.38" y1="349.5" x2="211.38" y2="351.7" stroke="#333" stroke-width="0.7"/>
<text x="211.38" y="362.6" class="tr" font-size="12" text-anchor="middle">1500</text>
<line x1="267.50" y1="349.5" x2="267.50" y2="351.7" stroke="#333" stroke-width="0.7"/>
<text x="267.50" y="362.6" class="tr" font-size="12" text-anchor="middle">2000</text>
<line x1="323.62" y1="349.5" x2="323.62" y2="351.7" stroke="#333" stroke-width="0.7"/>
<text x="323.62" y="362.6" class="tr" font-size="12" text-anchor="middle">2500</text>
<line x1="379.75" y1="349.5" x2="379.75" y2="351.7" stroke="#333" stroke-width="0.7"/>
<text x="379.75" y="362.6" class="tr" font-size="12" text-anchor="middle">3000</text>
<line x1="40.3" y1="311.4" x2="42.5" y2="311.4" stroke="#333" stroke-width="0.7"/>
<text x="38" y="315.4" class="tr" font-size="12" text-anchor="end">2</text>
<line x1="40.3" y1="258" x2="42.5" y2="258" stroke="#333" stroke-width="0.7"/>
<text x="38" y="262" class="tr" font-size="12" text-anchor="end">4</text>
<line x1="40.3" y1="203.9" x2="42.5" y2="203.9" stroke="#333" stroke-width="0.7"/>
<text x="38" y="207.9" class="tr" font-size="12" text-anchor="end">6</text>
<text x="157.5" y="376.3" class="tr" font-size="12.3" textLength="106.5" lengthAdjust="spacingAndGlyphs">Simulation time (fs)</text>
<text transform="translate(25.8,309) rotate(-90)" class="tr" font-size="12.3" textLength="87" lengthAdjust="spacingAndGlyphs">Bond Length (Å)</text>
<text x="0.4" y="168.2" class="tb" font-size="13.7" textLength="17.1" lengthAdjust="spacingAndGlyphs">(b)</text>
<line x1="279.5" y1="192.5" x2="298.2" y2="192.5" stroke="#ff0000" stroke-width="5.6" stroke-linecap="round"/>
<text x="307" y="197.5" class="tb" font-size="12.6" textLength="38.5" lengthAdjust="spacingAndGlyphs">C1-N1</text>
<line x1="279.5" y1="207.3" x2="298.2" y2="207.3" stroke="#00bfbf" stroke-width="5.6" stroke-linecap="round"/>
<text x="307" y="212" class="tb" font-size="12.6" textLength="38.5" lengthAdjust="spacingAndGlyphs">N1-H1</text>
<line x1="279.5" y1="220.3" x2="298.2" y2="220.3" stroke="#bf00bf" stroke-width="5.6" stroke-linecap="round"/>
<text x="307" y="225.2" class="tb" font-size="12.6" textLength="38.5" lengthAdjust="spacingAndGlyphs">H1-O3</text>
<line x1="279.5" y1="235" x2="298.2" y2="235" stroke="#0000ff" stroke-width="5.6" stroke-linecap="round"/>
<text x="307" y="239.5" class="tb" font-size="12.6" textLength="38.5" lengthAdjust="spacingAndGlyphs">O3-H2</text>
<line x1="279.5" y1="248.75" x2="298.2" y2="248.75" stroke="#008000" stroke-width="5.6" stroke-linecap="round"/>
<text x="307" y="253" class="tb" font-size="12.6" textLength="38.5" lengthAdjust="spacingAndGlyphs">H2-O2</text>
<line x1="181.25" y1="247.5" x2="200" y2="256.25" stroke="#b9b9ee" stroke-width="0.7"/>
<line x1="228" y1="240.75" x2="215.5" y2="258.25" stroke="#b9b9ee" stroke-width="0.7"/>
<line x1="184.6" y1="218" x2="179.6" y2="247.5" stroke="#c01515" stroke-width="1.9"/>
<line x1="187.9" y1="218" x2="182.9" y2="247.5" stroke="#c01515" stroke-width="1.9"/>
<line x1="186.25" y1="218" x2="197.125" y2="216.75" stroke="#c81818" stroke-width="3.4"/><line x1="197.125" y1="216.75" x2="208" y2="215.5" stroke="#3a3a3a" stroke-width="3.4"/>
<line x1="208" y1="215.5" x2="208.625" y2="205.5" stroke="#3a3a3a" stroke-width="2.8"/><line x1="208.625" y1="205.5" x2="209.25" y2="195.5" stroke="#bbb" stroke-width="2.8"/>
<line x1="208" y1="215.5" x2="209.0" y2="221.5" stroke="#3a3a3a" stroke-width="2.8"/><line x1="209.0" y1="221.5" x2="210" y2="227.5" stroke="#bbb" stroke-width="2.8"/>
<line x1="208" y1="215.5" x2="220.25" y2="219.875" stroke="#3a3a3a" stroke-width="3.4"/><line x1="220.25" y1="219.875" x2="232.5" y2="224.25" stroke="#1020c8" stroke-width="3.4"/>
<line x1="232.5" y1="224.25" x2="243.75" y2="219.375" stroke="#1020c8" stroke-width="3.4"/><line x1="243.75" y1="219.375" x2="255" y2="214.5" stroke="#3a3a3a" stroke-width="3.4"/>
<line x1="255" y1="214.5" x2="257.5" y2="206.0" stroke="#3a3a3a" stroke-width="2.8"/><line x1="257.5" y1="206.0" x2="260" y2="197.5" stroke="#bbb" stroke-width="2.8"/>
<line x1="255" y1="214.5" x2="261.25" y2="217.25" stroke="#3a3a3a" stroke-width="2.8"/><line x1="261.25" y1="217.25" x2="267.5" y2="220" stroke="#bbb" stroke-width="2.8"/>
<line x1="232.5" y1="224.25" x2="230.25" y2="232.5" stroke="#1020c8" stroke-width="2.8"/><line x1="230.25" y1="232.5" x2="228" y2="240.75" stroke="#bbb" stroke-width="2.8"/>
<line x1="200" y1="256.25" x2="207.75" y2="257.25" stroke="#bbb" stroke-width="2.8"/><line x1="207.75" y1="257.25" x2="215.5" y2="258.25" stroke="#c81818" stroke-width="2.8"/>
<line x1="215.5" y1="258.25" x2="214.25" y2="267.625" stroke="#c81818" stroke-width="2.8"/><line x1="214.25" y1="267.625" x2="213" y2="277" stroke="#bbb" stroke-width="2.8"/>
<circle cx="210" cy="227.5" r="4.8" fill="url(#gH)"/>
<circle cx="209.25" cy="195.5" r="5.5" fill="url(#gH)"/>
<circle cx="186.25" cy="218" r="6.6" fill="url(#gO)"/>
<circle cx="208" cy="215.5" r="8.3" fill="url(#gC)"/>
<circle cx="260" cy="197.5" r="5.5" fill="url(#gH)"/>
<circle cx="255" cy="214.5" r="8" fill="url(#gC)"/>
<circle cx="267.5" cy="220" r="5.8" fill="url(#gH)"/>
<circle cx="232.5" cy="224.25" r="7.5" fill="url(#gN)"/>
<circle cx="228" cy="240.75" r="5.5" fill="url(#gH)"/>
<circle cx="181.25" cy="247.5" r="6.6" fill="url(#gO)"/>
<circle cx="200" cy="256.25" r="5.5" fill="url(#gH)"/>
<circle cx="213" cy="277" r="5.5" fill="url(#gH)"/>
<circle cx="215.5" cy="258.25" r="6.6" fill="url(#gO)"/>
<text x="188.75" y="208.75" class="tb" font-size="12.6" textLength="14" lengthAdjust="spacingAndGlyphs">C1</text>
<text x="163.75" y="222.5" class="tb" font-size="12.6" textLength="15" lengthAdjust="spacingAndGlyphs">O1</text>
<text x="225" y="215" class="tb" font-size="12.6" textLength="15" lengthAdjust="spacingAndGlyphs">N1</text>
<text x="246.25" y="232.5" class="tb" font-size="12.6" textLength="14" lengthAdjust="spacingAndGlyphs">C2</text>
<text x="235" y="249.3" class="tb" font-size="12.6" textLength="15" lengthAdjust="spacingAndGlyphs">H1</text>
<text x="156.25" y="252.5" class="tb" font-size="12.6" textLength="15" lengthAdjust="spacingAndGlyphs">O2</text>
<text x="185" y="273" class="tb" font-size="12.6" textLength="15" lengthAdjust="spacingAndGlyphs">H2</text>
<text x="223.75" y="266.25" class="tb" font-size="12.6" textLength="15" lengthAdjust="spacingAndGlyphs">O3</text>
<text x="426.2" y="176" class="tb" font-size="13.7" textLength="15.5" lengthAdjust="spacingAndGlyphs">(c)</text>
<line x1="489.5" y1="196" x2="505.6" y2="199.4" stroke="#8fc05a" stroke-width="0.9" stroke-dasharray="1 1.2"/>
<line x1="472.2" y1="210.6" x2="483.1" y2="221.25" stroke="#8fc05a" stroke-width="0.9" stroke-dasharray="1 1.2"/>
<line x1="468" y1="187" x2="476.25" y2="197.75" stroke="#1c3c7c" stroke-width="1.7"/>
<line x1="476.25" y1="197.75" x2="489.5" y2="196" stroke="#1c3c7c" stroke-width="1.7"/>
<line x1="476.25" y1="197.75" x2="472.2" y2="210.6" stroke="#1c3c7c" stroke-width="1.7"/>
<line x1="505.6" y1="199.4" x2="515" y2="205.5" stroke="#1c3c7c" stroke-width="1.7"/>
<line x1="515" y1="205.5" x2="515" y2="219.5" stroke="#1c3c7c" stroke-width="1.7"/>
<line x1="483.1" y1="221.25" x2="515" y2="219.5" stroke="#1c3c7c" stroke-width="1.7"/>
<line x1="515" y1="219.5" x2="503.25" y2="226.25" stroke="#1c3c7c" stroke-width="1.7"/>
<line x1="515" y1="219.5" x2="526.75" y2="226.25" stroke="#1c3c7c" stroke-width="1.7"/>
<line x1="482.00002615840106" y1="221.24241397350622" x2="481.90002615840103" y2="235.74241397350622" stroke="#1c3c7c" stroke-width="1.2"/><line x1="484.199973841599" y1="221.25758602649378" x2="484.09997384159897" y2="235.75758602649378" stroke="#1c3c7c" stroke-width="1.2"/>
<line x1="483" y1="235.75" x2="471.25" y2="242.5" stroke="#1c3c7c" stroke-width="1.7"/>
<line x1="483" y1="235.75" x2="495" y2="242.5" stroke="#1c3c7c" stroke-width="1.7"/>
<circle cx="468" cy="187" r="4.0" fill="url(#gHc)" stroke="#111" stroke-width="1.1"/><text x="468" y="188.8" font-size="5.2" class="tb" style="fill:#333" text-anchor="middle" font-style="italic">H</text>
<circle cx="476.25" cy="197.75" r="4.5" fill="#f00000" stroke="#111" stroke-width="1.1"/><text x="476.25" y="199.55" font-size="5.2" class="tb" style="fill:#fff" text-anchor="middle">O</text>
<circle cx="489.5" cy="196" r="4.0" fill="url(#gHc)" stroke="#111" stroke-width="1.1"/><text x="489.5" y="197.8" font-size="5.2" class="tb" style="fill:#333" text-anchor="middle" font-style="italic">H</text>
<circle cx="472.2" cy="210.6" r="4.0" fill="url(#gHc)" stroke="#111" stroke-width="1.1"/><text x="472.2" y="212.4" font-size="5.2" class="tb" style="fill:#333" text-anchor="middle">H</text>
<circle cx="505.6" cy="199.4" r="4.5" fill="#f00000" stroke="#111" stroke-width="1.1"/><text x="505.6" y="201.20000000000002" font-size="5.2" class="tb" style="fill:#fff" text-anchor="middle">O</text>
<circle cx="515" cy="205.5" r="4.5" fill="#f00000" stroke="#111" stroke-width="1.1"/><text x="515" y="207.3" font-size="5.2" class="tb" style="fill:#fff" text-anchor="middle">O</text>
<circle cx="515" cy="219.5" r="4.5" fill="#2e2e2e" stroke="#111" stroke-width="1.1"/><text x="515" y="221.3" font-size="5.2" class="tb" style="fill:#fff" text-anchor="middle">C</text>
<circle cx="483.1" cy="221.25" r="4.5" fill="#0000f0" stroke="#111" stroke-width="1.1"/><text x="483.1" y="223.05" font-size="5.2" class="tb" style="fill:#fff" text-anchor="middle">N</text>
<circle cx="503.25" cy="226.25" r="4.0" fill="url(#gHc)" stroke="#111" stroke-width="1.1"/><text x="503.25" y="228.05" font-size="5.2" class="tb" style="fill:#333" text-anchor="middle">H</text>
<circle cx="526.75" cy="226.25" r="4.0" fill="url(#gHc)" stroke="#111" stroke-width="1.1"/><text x="526.75" y="228.05" font-size="5.2" class="tb" style="fill:#333" text-anchor="middle">H</text>
<circle cx="483" cy="235.75" r="4.5" fill="#2e2e2e" stroke="#111" stroke-width="1.1"/><text x="483" y="237.55" font-size="5.2" class="tb" style="fill:#fff" text-anchor="middle">C</text>
<circle cx="471.25" cy="242.5" r="4.0" fill="url(#gHc)" stroke="#111" stroke-width="1.1"/><text x="471.25" y="244.3" font-size="5.2" class="tb" style="fill:#333" text-anchor="middle">H</text>
<circle cx="495" cy="242.5" r="4.0" fill="url(#gHc)" stroke="#111" stroke-width="1.1"/><text x="495" y="244.3" font-size="5.2" class="tb" style="fill:#333" text-anchor="middle">H</text>
<line x1="566" y1="153.25" x2="584.75" y2="154.25" stroke="#8fc05a" stroke-width="0.9" stroke-dasharray="1 1.2"/>
<line x1="562.7" y1="166.25" x2="573.25" y2="176.75" stroke="#8fc05a" stroke-width="0.9" stroke-dasharray="1 1.2"/>
<line x1="558.4" y1="141.9" x2="566" y2="153.25" stroke="#1c3c7c" stroke-width="1.7"/>
<line x1="566" y1="153.25" x2="562.7" y2="166.25" stroke="#1c3c7c" stroke-width="1.7"/>
<line x1="584.75" y1="154.25" x2="596" y2="154.5" stroke="#1c3c7c" stroke-width="1.7"/>
<line x1="596" y1="154.5" x2="605.25" y2="160.75" stroke="#1c3c7c" stroke-width="1.7"/>
<line x1="605.25" y1="160.75" x2="605.25" y2="175" stroke="#1c3c7c" stroke-width="1.7"/>
<line x1="573.25" y1="176.75" x2="605.25" y2="175" stroke="#1c3c7c" stroke-width="1.7"/>
<line x1="605.25" y1="175" x2="593.5" y2="182" stroke="#1c3c7c" stroke-width="1.7"/>
<line x1="605.25" y1="175" x2="617" y2="182" stroke="#1c3c7c" stroke-width="1.7"/>
<line x1="572.15" y1="176.75" x2="572.15" y2="190.75" stroke="#1c3c7c" stroke-width="1.2"/><line x1="574.35" y1="176.75" x2="574.35" y2="190.75" stroke="#1c3c7c" stroke-width="1.2"/>
<line x1="573.25" y1="190.75" x2="561.5" y2="197.5" stroke="#1c3c7c" stroke-width="1.7"/>
<line x1="573.25" y1="190.75" x2="585.25" y2="197.5" stroke="#1c3c7c" stroke-width="1.7"/>
<circle cx="558.4" cy="141.9" r="4.0" fill="url(#gHc)" stroke="#111" stroke-width="1.1"/><text x="558.4" y="143.70000000000002" font-size="5.2" class="tb" style="fill:#333" text-anchor="middle" font-style="italic">H</text>
<circle cx="566" cy="153.25" r="4.5" fill="#f00000" stroke="#111" stroke-width="1.1"/><text x="566" y="155.05" font-size="5.2" class="tb" style="fill:#fff" text-anchor="middle">O</text>
<circle cx="562.7" cy="166.25" r="4.0" fill="url(#gHc)" stroke="#111" stroke-width="1.1"/><text x="562.7" y="168.05" font-size="5.2" class="tb" style="fill:#333" text-anchor="middle">H</text>
<circle cx="584.75" cy="154.25" r="4.0" fill="url(#gHc)" stroke="#111" stroke-width="1.1"/><text x="584.75" y="156.05" font-size="5.2" class="tb" style="fill:#333" text-anchor="middle" font-style="italic">H</text>
<circle cx="596" cy="154.5" r="4.5" fill="#f00000" stroke="#111" stroke-width="1.1"/><text x="596" y="156.3" font-size="5.2" class="tb" style="fill:#fff" text-anchor="middle">O</text>
<circle cx="605.25" cy="160.75" r="4.5" fill="#f00000" stroke="#111" stroke-width="1.1"/><text x="605.25" y="162.55" font-size="5.2" class="tb" style="fill:#fff" text-anchor="middle">O</text>
<circle cx="605.25" cy="175" r="4.5" fill="#2e2e2e" stroke="#111" stroke-width="1.1"/><text x="605.25" y="176.8" font-size="5.2" class="tb" style="fill:#fff" text-anchor="middle">C</text>
<circle cx="573.25" cy="176.75" r="4.5" fill="#0000f0" stroke="#111" stroke-width="1.1"/><text x="573.25" y="178.55" font-size="5.2" class="tb" style="fill:#fff" text-anchor="middle">N</text>
<circle cx="593.5" cy="182" r="4.0" fill="url(#gHc)" stroke="#111" stroke-width="1.1"/><text x="593.5" y="183.8" font-size="5.2" class="tb" style="fill:#333" text-anchor="middle">H</text>
<circle cx="617" cy="182" r="4.0" fill="url(#gHc)" stroke="#111" stroke-width="1.1"/><text x="617" y="183.8" font-size="5.2" class="tb" style="fill:#333" text-anchor="middle">H</text>
<circle cx="573.25" cy="190.75" r="4.5" fill="#2e2e2e" stroke="#111" stroke-width="1.1"/><text x="573.25" y="192.55" font-size="5.2" class="tb" style="fill:#fff" text-anchor="middle">C</text>
<circle cx="561.5" cy="197.5" r="4.0" fill="url(#gHc)" stroke="#111" stroke-width="1.1"/><text x="561.5" y="199.3" font-size="5.2" class="tb" style="fill:#333" text-anchor="middle">H</text>
<circle cx="585.25" cy="197.5" r="4.0" fill="url(#gHc)" stroke="#111" stroke-width="1.1"/><text x="585.25" y="199.3" font-size="5.2" class="tb" style="fill:#333" text-anchor="middle">H</text>
<line x1="642.75" y1="168.75" x2="649" y2="180.75" stroke="#1c3c7c" stroke-width="1.7"/>
<line x1="649" y1="180.75" x2="662.75" y2="182.5" stroke="#1c3c7c" stroke-width="1.7"/>
<line x1="647.75" y1="200.75" x2="659" y2="201.25" stroke="#1c3c7c" stroke-width="1.7"/>
<line x1="659" y1="201.25" x2="668.25" y2="207.5" stroke="#1c3c7c" stroke-width="1.7"/>
<line x1="668.25" y1="207.5" x2="668.25" y2="221.75" stroke="#1c3c7c" stroke-width="1.7"/>
<line x1="636.5" y1="223.25" x2="668.25" y2="221.75" stroke="#1c3c7c" stroke-width="1.7"/>
<line x1="668.25" y1="221.75" x2="656.5" y2="228.25" stroke="#1c3c7c" stroke-width="1.7"/>
<line x1="668.25" y1="221.75" x2="679.75" y2="228.25" stroke="#1c3c7c" stroke-width="1.7"/>
<line x1="635.4" y1="223.25" x2="635.4" y2="237.5" stroke="#1c3c7c" stroke-width="1.2"/><line x1="637.6" y1="223.25" x2="637.6" y2="237.5" stroke="#1c3c7c" stroke-width="1.2"/>
<line x1="636.5" y1="237.5" x2="624.75" y2="243.75" stroke="#1c3c7c" stroke-width="1.7"/>
<line x1="636.5" y1="237.5" x2="648.25" y2="243.75" stroke="#1c3c7c" stroke-width="1.7"/>
<circle cx="642.75" cy="168.75" r="4.0" fill="url(#gHc)" stroke="#111" stroke-width="1.1"/><text x="642.75" y="170.55" font-size="5.2" class="tb" style="fill:#333" text-anchor="middle" font-style="italic">H</text>
<circle cx="649" cy="180.75" r="4.5" fill="#f00000" stroke="#111" stroke-width="1.1"/><text x="649" y="182.55" font-size="5.2" class="tb" style="fill:#fff" text-anchor="middle">O</text>
<circle cx="662.75" cy="182.5" r="4.0" fill="url(#gHc)" stroke="#111" stroke-width="1.1"/><text x="662.75" y="184.3" font-size="5.2" class="tb" style="fill:#333" text-anchor="middle" font-style="italic">H</text>
<circle cx="647.75" cy="200.75" r="4.0" fill="url(#gHc)" stroke="#111" stroke-width="1.1"/><text x="647.75" y="202.55" font-size="5.2" class="tb" style="fill:#333" text-anchor="middle" font-style="italic">H</text>
<circle cx="659" cy="201.25" r="4.5" fill="#f00000" stroke="#111" stroke-width="1.1"/><text x="659" y="203.05" font-size="5.2" class="tb" style="fill:#fff" text-anchor="middle">O</text>
<circle cx="668.25" cy="207.5" r="4.5" fill="#f00000" stroke="#111" stroke-width="1.1"/><text x="668.25" y="209.3" font-size="5.2" class="tb" style="fill:#fff" text-anchor="middle">O</text>
<circle cx="668.25" cy="221.75" r="4.5" fill="#2e2e2e" stroke="#111" stroke-width="1.1"/><text x="668.25" y="223.55" font-size="5.2" class="tb" style="fill:#fff" text-anchor="middle">C</text>
<circle cx="636.5" cy="223.25" r="4.5" fill="#0000f0" stroke="#111" stroke-width="1.1"/><text x="636.5" y="225.05" font-size="5.2" class="tb" style="fill:#fff" text-anchor="middle">N</text>
<circle cx="656.5" cy="228.25" r="4.0" fill="url(#gHc)" stroke="#111" stroke-width="1.1"/><text x="656.5" y="230.05" font-size="5.2" class="tb" style="fill:#333" text-anchor="middle">H</text>
<circle cx="679.75" cy="228.25" r="4.0" fill="url(#gHc)" stroke="#111" stroke-width="1.1"/><text x="679.75" y="230.05" font-size="5.2" class="tb" style="fill:#333" text-anchor="middle">H</text>
<circle cx="636.5" cy="237.5" r="4.5" fill="#2e2e2e" stroke="#111" stroke-width="1.1"/><text x="636.5" y="239.3" font-size="5.2" class="tb" style="fill:#fff" text-anchor="middle">C</text>
<circle cx="624.75" cy="243.75" r="4.0" fill="url(#gHc)" stroke="#111" stroke-width="1.1"/><text x="624.75" y="245.55" font-size="5.2" class="tb" style="fill:#333" text-anchor="middle">H</text>
<circle cx="648.25" cy="243.75" r="4.0" fill="url(#gHc)" stroke="#111" stroke-width="1.1"/><text x="648.25" y="245.55" font-size="5.2" class="tb" style="fill:#333" text-anchor="middle">H</text>
<line x1="659.5" y1="282.5" x2="649" y2="288.25" stroke="#1c3c7c" stroke-width="1.7"/>
<line x1="647.9" y1="288.25" x2="647.9" y2="302.5" stroke="#1c3c7c" stroke-width="1.2"/><line x1="650.1" y1="288.25" x2="650.1" y2="302.5" stroke="#1c3c7c" stroke-width="1.2"/>
<line x1="649" y1="302.5" x2="637.25" y2="309.5" stroke="#1c3c7c" stroke-width="1.7"/>
<line x1="649" y1="302.5" x2="661.5" y2="309.5" stroke="#1c3c7c" stroke-width="1.7"/>
<line x1="653.5" y1="334.5" x2="664" y2="328.75" stroke="#1c3c7c" stroke-width="1.7"/>
<line x1="652.4" y1="334.5" x2="652.4" y2="348.75" stroke="#1c3c7c" stroke-width="1.2"/><line x1="654.6" y1="334.5" x2="654.6" y2="348.75" stroke="#1c3c7c" stroke-width="1.2"/>
<line x1="653.5" y1="348.75" x2="642" y2="355.5" stroke="#1c3c7c" stroke-width="1.7"/>
<line x1="653.5" y1="348.75" x2="665.25" y2="355.5" stroke="#1c3c7c" stroke-width="1.7"/>
<circle cx="659.5" cy="282.5" r="4.5" fill="#f00000" stroke="#111" stroke-width="1.1"/><text x="659.5" y="284.3" font-size="5.2" class="tb" style="fill:#fff" text-anchor="middle">O</text>
<circle cx="649" cy="288.25" r="4.5" fill="#f00000" stroke="#111" stroke-width="1.1"/><text x="649" y="290.05" font-size="5.2" class="tb" style="fill:#fff" text-anchor="middle">O</text>
<circle cx="649" cy="302.5" r="4.5" fill="#2e2e2e" stroke="#111" stroke-width="1.1"/><text x="649" y="304.3" font-size="5.2" class="tb" style="fill:#fff" text-anchor="middle">C</text>
<circle cx="637.25" cy="309.5" r="4.0" fill="url(#gHc)" stroke="#111" stroke-width="1.1"/><text x="637.25" y="311.3" font-size="5.2" class="tb" style="fill:#333" text-anchor="middle">H</text>
<circle cx="661.5" cy="309.5" r="4.0" fill="url(#gHc)" stroke="#111" stroke-width="1.1"/><text x="661.5" y="311.3" font-size="5.2" class="tb" style="fill:#333" text-anchor="middle">H</text>
<circle cx="653.5" cy="334.5" r="4.5" fill="#0000f0" stroke="#111" stroke-width="1.1"/><text x="653.5" y="336.3" font-size="5.2" class="tb" style="fill:#fff" text-anchor="middle">N</text>
<circle cx="664" cy="328.75" r="4.0" fill="url(#gHc)" stroke="#111" stroke-width="1.1"/><text x="664" y="330.55" font-size="5.2" class="tb" style="fill:#333" text-anchor="middle">H</text>
<circle cx="653.5" cy="348.75" r="4.5" fill="#2e2e2e" stroke="#111" stroke-width="1.1"/><text x="653.5" y="350.55" font-size="5.2" class="tb" style="fill:#fff" text-anchor="middle">C</text>
<circle cx="642" cy="355.5" r="4.0" fill="url(#gHc)" stroke="#111" stroke-width="1.1"/><text x="642" y="357.3" font-size="5.2" class="tb" style="fill:#333" text-anchor="middle">H</text>
<circle cx="665.25" cy="355.5" r="4.0" fill="url(#gHc)" stroke="#111" stroke-width="1.1"/><text x="665.25" y="357.3" font-size="5.2" class="tb" style="fill:#333" text-anchor="middle">H</text>
<line x1="594" y1="323.25" x2="603.25" y2="329.5" stroke="#1c3c7c" stroke-width="1.7"/>
<line x1="603.25" y1="329.5" x2="603.25" y2="343.75" stroke="#1c3c7c" stroke-width="1.7"/>
<line x1="571.5" y1="345.2" x2="603.25" y2="343.75" stroke="#1c3c7c" stroke-width="1.7"/>
<line x1="571.5" y1="345.2" x2="562.3" y2="338.8" stroke="#1c3c7c" stroke-width="1.7"/>
<line x1="603.25" y1="343.75" x2="591.5" y2="350.5" stroke="#1c3c7c" stroke-width="1.7"/>
<line x1="603.25" y1="343.75" x2="615.25" y2="350.5" stroke="#1c3c7c" stroke-width="1.7"/>
<line x1="571.5" y1="345.2" x2="571.5" y2="359.5" stroke="#1c3c7c" stroke-width="1.7"/>
<line x1="571.5" y1="359.5" x2="560" y2="365.5" stroke="#1c3c7c" stroke-width="1.7"/>
<line x1="571.5" y1="359.5" x2="583.5" y2="365.5" stroke="#1c3c7c" stroke-width="1.7"/>
<circle cx="594" cy="323.25" r="4.5" fill="#f00000" stroke="#111" stroke-width="1.1"/><text x="594" y="325.05" font-size="5.2" class="tb" style="fill:#fff" text-anchor="middle">O</text>
<circle cx="603.25" cy="329.5" r="4.5" fill="#f00000" stroke="#111" stroke-width="1.1"/><text x="603.25" y="331.3" font-size="5.2" class="tb" style="fill:#fff" text-anchor="middle">O</text>
<circle cx="603.25" cy="343.75" r="4.5" fill="#2e2e2e" stroke="#111" stroke-width="1.1"/><text x="603.25" y="345.55" font-size="5.2" class="tb" style="fill:#fff" text-anchor="middle">C</text>
<circle cx="571.5" cy="345.2" r="4.5" fill="#0000f0" stroke="#111" stroke-width="1.1"/><text x="571.5" y="347.0" font-size="5.2" class="tb" style="fill:#fff" text-anchor="middle">N</text>
<circle cx="562.3" cy="338.8" r="4.0" fill="url(#gHc)" stroke="#111" stroke-width="1.1"/><text x="562.3" y="340.6" font-size="5.2" class="tb" style="fill:#333" text-anchor="middle">H</text>
<circle cx="591.5" cy="350.5" r="4.0" fill="url(#gHc)" stroke="#111" stroke-width="1.1"/><text x="591.5" y="352.3" font-size="5.2" class="tb" style="fill:#333" text-anchor="middle">H</text>
<circle cx="615.25" cy="350.5" r="4.0" fill="url(#gHc)" stroke="#111" stroke-width="1.1"/><text x="615.25" y="352.3" font-size="5.2" class="tb" style="fill:#333" text-anchor="middle">H</text>
<circle cx="571.5" cy="359.5" r="4.5" fill="#2e2e2e" stroke="#111" stroke-width="1.1"/><text x="571.5" y="361.3" font-size="5.2" class="tb" style="fill:#fff" text-anchor="middle">C</text>
<circle cx="560" cy="365.5" r="4.0" fill="url(#gHc)" stroke="#111" stroke-width="1.1"/><text x="560" y="367.3" font-size="5.2" class="tb" style="fill:#333" text-anchor="middle">H</text>
<circle cx="583.5" cy="365.5" r="4.0" fill="url(#gHc)" stroke="#111" stroke-width="1.1"/><text x="583.5" y="367.3" font-size="5.2" class="tb" style="fill:#333" text-anchor="middle">H</text>
<line x1="503" y1="289.7" x2="519.7" y2="292.8" stroke="#8fc05a" stroke-width="0.9" stroke-dasharray="1 1.2"/>
<line x1="489.4" y1="291.7" x2="487.4" y2="308.2" stroke="#8fc05a" stroke-width="0.9" stroke-dasharray="1 1.2"/>
<line x1="481.3" y1="280.5" x2="489.4" y2="291.7" stroke="#1c3c7c" stroke-width="1.7"/>
<line x1="489.4" y1="291.7" x2="503" y2="289.7" stroke="#1c3c7c" stroke-width="1.7"/>
<line x1="519.7" y1="292.8" x2="528.7" y2="299" stroke="#1c3c7c" stroke-width="1.7"/>
<line x1="528.7" y1="299" x2="528.5" y2="313.3" stroke="#1c3c7c" stroke-width="1.7"/>
<line x1="496.4" y1="315.4" x2="528.5" y2="313.3" stroke="#1c3c7c" stroke-width="1.7"/>
<line x1="496.4" y1="315.4" x2="487.4" y2="308.2" stroke="#1c3c7c" stroke-width="1.7"/>
<line x1="528.5" y1="313.3" x2="516.8" y2="319.9" stroke="#1c3c7c" stroke-width="1.7"/>
<line x1="528.5" y1="313.3" x2="540.5" y2="319.9" stroke="#1c3c7c" stroke-width="1.7"/>
<line x1="496.4" y1="315.4" x2="496.4" y2="329.3" stroke="#1c3c7c" stroke-width="1.7"/>
<line x1="496.4" y1="329.3" x2="484.5" y2="336" stroke="#1c3c7c" stroke-width="1.7"/>
<line x1="496.4" y1="329.3" x2="508.8" y2="336" stroke="#1c3c7c" stroke-width="1.7"/>
<line x1="520.4" y1="366.4" x2="533.8" y2="365.3" stroke="#1c3c7c" stroke-width="1.7"/>
<line x1="533.8" y1="365.3" x2="543" y2="374.7" stroke="#1c3c7c" stroke-width="1.7"/>
<circle cx="481.3" cy="280.5" r="4.0" fill="url(#gHc)" stroke="#111" stroke-width="1.1"/><text x="481.3" y="282.3" font-size="5.2" class="tb" style="fill:#333" text-anchor="middle" font-style="italic">H</text>
<circle cx="489.4" cy="291.7" r="4.5" fill="#f00000" stroke="#111" stroke-width="1.1"/><text x="489.4" y="293.5" font-size="5.2" class="tb" style="fill:#fff" text-anchor="middle">O</text>
<circle cx="503" cy="289.7" r="4.0" fill="url(#gHc)" stroke="#111" stroke-width="1.1"/><text x="503" y="291.5" font-size="5.2" class="tb" style="fill:#333" text-anchor="middle" font-style="italic">H</text>
<circle cx="519.7" cy="292.8" r="4.5" fill="#f00000" stroke="#111" stroke-width="1.1"/><text x="519.7" y="294.6" font-size="5.2" class="tb" style="fill:#fff" text-anchor="middle">O</text>
<circle cx="528.7" cy="299" r="4.5" fill="#f00000" stroke="#111" stroke-width="1.1"/><text x="528.7" y="300.8" font-size="5.2" class="tb" style="fill:#fff" text-anchor="middle">O</text>
<circle cx="528.5" cy="313.3" r="4.5" fill="#2e2e2e" stroke="#111" stroke-width="1.1"/><text x="528.5" y="315.1" font-size="5.2" class="tb" style="fill:#fff" text-anchor="middle">C</text>
<circle cx="496.4" cy="315.4" r="4.5" fill="#0000f0" stroke="#111" stroke-width="1.1"/><text x="496.4" y="317.2" font-size="5.2" class="tb" style="fill:#fff" text-anchor="middle">N</text>
<circle cx="487.4" cy="308.2" r="4.0" fill="url(#gHc)" stroke="#111" stroke-width="1.1"/><text x="487.4" y="310.0" font-size="5.2" class="tb" style="fill:#333" text-anchor="middle">H</text>
<circle cx="516.8" cy="319.9" r="4.0" fill="url(#gHc)" stroke="#111" stroke-width="1.1"/><text x="516.8" y="321.7" font-size="5.2" class="tb" style="fill:#333" text-anchor="middle">H</text>
<circle cx="540.5" cy="319.9" r="4.0" fill="url(#gHc)" stroke="#111" stroke-width="1.1"/><text x="540.5" y="321.7" font-size="5.2" class="tb" style="fill:#333" text-anchor="middle">H</text>
<circle cx="496.4" cy="329.3" r="4.5" fill="#2e2e2e" stroke="#111" stroke-width="1.1"/><text x="496.4" y="331.1" font-size="5.2" class="tb" style="fill:#fff" text-anchor="middle">C</text>
<circle cx="484.5" cy="336" r="4.0" fill="url(#gHc)" stroke="#111" stroke-width="1.1"/><text x="484.5" y="337.8" font-size="5.2" class="tb" style="fill:#333" text-anchor="middle">H</text>
<circle cx="508.8" cy="336" r="4.0" fill="url(#gHc)" stroke="#111" stroke-width="1.1"/><text x="508.8" y="337.8" font-size="5.2" class="tb" style="fill:#333" text-anchor="middle">H</text>
<circle cx="520.4" cy="366.4" r="4.0" fill="url(#gHc)" stroke="#111" stroke-width="1.1"/><text x="520.4" y="368.2" font-size="5.2" class="tb" style="fill:#333" text-anchor="middle" font-style="italic">H</text>
<circle cx="533.8" cy="365.3" r="4.5" fill="#f00000" stroke="#111" stroke-width="1.1"/><text x="533.8" y="367.1" font-size="5.2" class="tb" style="fill:#fff" text-anchor="middle">O</text>
<circle cx="543" cy="374.7" r="4.0" fill="url(#gHc)" stroke="#111" stroke-width="1.1"/><text x="543" y="376.5" font-size="5.2" class="tb" style="fill:#333" text-anchor="middle" font-style="italic">H</text>
<path d="M527.4,196.3 C525.6,190 527.2,184 532.4,180.4 L531.3,177.4 L541,179.5 L537.3,188.1 L535.4,185.7 C531.6,188 529,192 527.4,196.3 Z" fill="#5b8c2f"/>
<path d="M617.4,190.8 Q625,189.3 631.6,190.8 L634.7,186 L643.2,187.6 L638.9,194.5 L636.8,192.9 L636.3,201.3 L626.8,200.3 L629.5,197.6 Q624,194.8 617.4,190.8 Z" fill="#5b8c2f"/>
<path d="M620.5,335.8 L624.2,327.4 L625.8,329.5 Q631.5,325.5 633.7,318.9 Q635.8,323 635.3,326.8 Q639.5,327.5 642.6,330.5 Q638,328.8 634.7,329.8 Q631,331.5 628.4,335.3 L630,337.6 Z" fill="#5b8c2f"/>
<path d="M525.5,338.5 L535,337.4 L533.4,340.3 Q540,344 547.1,342.4 Q543.5,345.8 539.7,346.6 Q540.2,351.3 538.5,355.7 Q538,351 536,348.7 Q534,346.3 531.3,345 L528,347.1 Z" fill="#5b8c2f"/>
<path d="M483.6,251.1 L489.7,258.7 L486.6,258.7 Q486.8,265.5 492.4,271.4 Q481.8,268 480.8,258.7 L477.3,258.7 Z" fill="#5b8c2f"/>
<path d="M492.5,189 Q498.3,181.6 503.6,190.2" fill="none" stroke="#5b8c2f" stroke-width="1.4"/><polygon points="501.3,190.6 505.8,188.8 504.8,192.6" fill="#5b8c2f"/>
<path d="M481.8,304.5 Q476,299 480,294.5" fill="none" stroke="#5b8c2f" stroke-width="1.4"/><polygon points="477.8,295.2 482.8,291.8 482.6,297.5" fill="#5b8c2f"/>
</svg>
</body></html>
